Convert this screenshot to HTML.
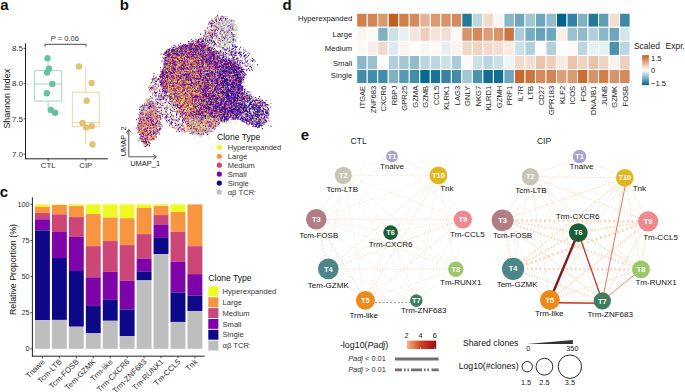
<!DOCTYPE html><html><head><meta charset="utf-8"><title>Figure</title><style>html,body{margin:0;padding:0;background:#fff;width:685px;height:392px;overflow:hidden}svg{display:block;font-family:"Liberation Sans",sans-serif}</style></head><body><svg width="685" height="392" viewBox="0 0 685 392" font-family="Liberation Sans, sans-serif"><defs><filter id="bl" x="-10%" y="-10%" width="120%" height="120%"><feGaussianBlur stdDeviation="2.2"/></filter><linearGradient id="ug" x1="160" y1="0" x2="245" y2="0" gradientUnits="userSpaceOnUse"><stop offset="0" stop-color="#6A2494"/><stop offset="0.3" stop-color="#A8547A"/><stop offset="0.62" stop-color="#7A3088"/><stop offset="1" stop-color="#3A148E"/></linearGradient></defs><g filter="url(#bl)" opacity="0.3"><polygon points="166.6,51.9 172.9,49.5 180.7,47.6 189.4,44.7 196.2,42.2 201.0,42.2 204.9,44.7 211.7,51.0 219.5,57.8 229.2,60.7 236.9,63.6 240.8,68.4 243.2,72.8 240.3,83.2 241.8,89.8 240.8,99.5 239.4,111.1 237.4,117.4 232.1,117.0 221.2,119.8 214.3,126.5 206.2,131.5 196.7,133.2 188.5,128.8 185.0,118.9 180.5,109.2 174.6,99.5 168.1,91.7 163.2,85.9 160.8,78.1 163.7,70.4 165.6,61.6 164.7,55.8" fill="url(#ug)"/><polygon points="147.7,101.0 150.9,101.9 154.5,104.6 157.6,110.9 159.4,118.1 159.4,126.2 156.7,132.5 151.8,137.9 146.6,143.8 141.9,137.0 139.2,127.1 140.1,117.2 142.8,109.1 145.5,103.7" fill="#B07078" opacity="0.6"/></g><g fill="none" stroke-linecap="round" stroke-width="2.5" transform="scale(0.5)"><path stroke="#BEBEBE" d="M444 33h0m-3 1h0m2-1h0m0 1h0m7 0h0m-8 3h0m1 0h0m0 1h0m-3 1h0m3 1h0m11 0h0m1 0h0m8-1h0m-13 3h0m12 1h0m-44 2h0m15-1h0m1 1h0m4-1h0m6 0h0m-9 2h0m5 1h0m6-2h0m0 1h0m10 0h0m-31 1h0m7 1h0m5 0h0m33 1h0m-40 1h0m2 0h0m22 0h0m2 1h0m4-1h0m2 0h0m7 0h0m-13 2h0m2 1h0m0 0h0m0-1h0m5 1h0m11-1h0m-56 2h0m5-1h0m10 0h0m10 1h0m2-1h0m4 2h0m-34 1h0m19 0h0m1-1h0m4 1h0m4 1h0m7 0h0m4-1h0m11 0h0m2 1h0m-35 2h0m1-1h0m5 0h0m6 0h0m4-1h0m1 1h0m10 1h0m3-2h0m3 1h0m-56 2h0m9 1h0m9 0h0m43 0h0m4-1h0m-57 3h0m13-2h0m13 1h0m18 1h0m9-1h0m-54 1h0m2 0h0m8 1h0m5-1h0m1 1h0m3 0h0m13-1h0m11 2h0m1-1h0m-35 2h0m8 0h0m-22 2h0m27-1h0m1 0h0m1 1h0m14 0h0m3 0h0m2 0h0m7 1h0m3 0h0m2-1h0m-35 2h0m5-1h0m15 2h0m6-1h0m5 1h0m-54 0h0m51 1h0m2 0h0m-37 1h0m18 1h0m12 0h0m-29 3h0m8 0h0m5-1h0m14 1h0m7-1h0m-39 3h0m16-1h0m0 1h0m5-2h0m4 0h0m13 0h0m3 2h0m6-1h0m-58 1h0m16 1h0m1 0h0m16 1h0m2-2h0m11 0h0m-49 3h0m24-1h0m24 2h0m1-2h0m6 2h0m-49 0h0m12 1h0m28 0h0m14 0h0m-74 1h0m22 2h0m3 0h0m18-1h0m4 0h0m15-1h0m2 1h0m-91 2h0m55 0h0m40 1h0m-29 2h0m6 0h0m14-1h0m2 0h0m-95 3h0m101 0h0m1-1h0m-11 2h0m2 0h0m-50 1h0m16 2h0m49-1h0m-15 2h0m-94 1h0m70 1h0m17 0h0m-11 1h0m-60 3h0m-29 3h0m112-1h0m18-1h0m-118 3h0m64-1h0m16 2h0m-63 1h0m65 1h0m-111 0h0m28 1h0m78 1h0m44-1h0m7 0h0m-117 2h0m60 1h0m11-1h0m59 1h0m-166 1h0m6 1h0m14-1h0m54 0h0m16 0h0m23 1h0m-28 0h0m-89 4h0m40-1h0m82 0h0m18-1h0m-83 4h0m3 0h0m1-1h0m17-1h0m3 2h0m13-2h0m37 2h0m-88 1h0m47 0h0m-85 1h0m14 0h0m64 1h0m38 0h0m-102 2h0m45 1h0m-60 0h0m20 2h0m0-1h0m39 0h0m2 0h0m37 0h0m-63 3h0m23-2h0m9 1h0m14 0h0m23-1h0m-92 3h0m12 0h0m48 1h0m71 1h0m-100 3h0m36-2h0m8 2h0m1 1h0m25 0h0m24 1h0m-134 1h0m7 1h0m103-1h0m27 1h0m26-1h0m-171 3h0m35-1h0m59 1h0m-71 2h0m44-1h0m16 0h0m31-1h0m29 1h0m-112 3h0m12-1h0m36-1h0m6 0h0m63 1h0m-151 2h0m51 0h0m7 1h0m22-1h0m53 0h0m-92 2h0m10-1h0m72 0h0m0 1h0m-129 1h0m1 1h0m99 1h0m22-1h0m11 0h0m-100 1h0m98 2h0m22-1h0m3 0h0m-115 3h0m35-1h0m14 0h0m5 0h0m10-1h0m-117 3h0m2 0h0m120 0h0m4 0h0m8 0h0m9 0h0m3 0h0m21-1h0m3 2h0m-93 2h0m32-1h0m12 1h0m27-1h0m-149 2h0m86 0h0m49 0h0m-85 2h0m53 1h0m-23 1h0m75-1h0m-126 3h0m37 0h0m15 0h0m24 0h0m6 0h0m1 0h0m24 0h0m32 0h0m-73 3h0m15-2h0m58 2h0m-164 2h0m103-2h0m15 1h0m29 1h0m-91 2h0m-10 1h0m39 0h0m24 1h0m4-1h0m20-1h0m-135 2h0m13 1h0m6 0h0m38 0h0m25 0h0m21 0h0m21 0h0m9 0h0m10-1h0m-15 3h0m46 0h0m-128 3h0m60 0h0m-29 2h0m69 0h0m3-1h0m41-1h0m-141 3h0m82 0h0m18 0h0m17 0h0m-139 3h0m79-1h0m6 0h0m53 0h0m17 0h0m-180 2h0m11 0h0m3 0h0m33 1h0m70-1h0m27 0h0m-146 2h0m96-1h0m82 1h0m-140 3h0m145-2h0m12 2h0m-178 1h0m6 1h0m71-1h0m0 0h0m18 1h0m6 0h0m59-2h0m25 0h0m-202 2h0m9 1h0m115 0h0m37 1h0m13-2h0m-185 4h0m5 1h0m33 0h0m9 1h0m23-1h0m62 0h0m6 1h0m19-1h0m5 1h0m7-1h0m1-1h0m36 1h0m8 0h0m-209 4h0m1-1h0m29 1h0m84 0h0m15 0h0m78 0h0m8 0h0m0-1h0m-223 4h0m42 0h0m4-1h0m16 0h0m10 0h0m2 1h0m6-2h0m14 1h0m66 1h0m10 0h0m24-1h0m20 0h0m1 0h0m19 1h0m3-1h0m4 0h0m-237 3h0m5-1h0m45 0h0m22-1h0m35 1h0m1 0h0m46 0h0m36 0h0m32-1h0m5 0h0m-241 3h0m18 1h0m3-1h0m31 0h0m26-1h0m50 2h0m1-1h0m20 1h0m38-1h0m17 0h0m16 0h0m4 0h0m9 0h0m-235 2h0m6-1h0m12 1h0m3 0h0m39 0h0m75 0h0m54-1h0m59 0h0m-221 3h0m36 0h0m69-1h0m6 0h0m65 2h0m13-1h0m21 0h0m4 1h0m0 0h0m-238 1h0m99 0h0m7 0h0m23 0h0m72-1h0m1 2h0m-205 1h0m0-1h0m5 0h0m1 0h0m17 1h0m5-1h0m6 1h0m71 0h0m36 1h0m30-1h0m43 1h0m17-1h0m4 1h0m3-1h0m-240 3h0m10-1h0m30 1h0m162-1h0m-198 2h0m18 1h0m1-1h0m50 0h0m59-1h0m32 1h0m8-1h0m13 1h0m14 1h0m9 0h0m-203 0h0m9 1h0m19 1h0m13-1h0m3 0h0m38-1h0m39 1h0m106-1h0m24 0h0m-255 3h0m12-1h0m8 1h0m3 1h0m117-1h0m37-1h0m10 1h0m25 0h0m1 0h0m2 1h0m-218 2h0m34-1h0m97 1h0m38-1h0m11 0h0m7 1h0m31-1h0m-220 2h0m12-1h0m3 1h0m4 0h0m101 0h0m18 1h0m19 0h0m0-1h0m1 1h0m0 0h0m55-1h0m12 0h0m6 0h0m11-1h0m-218 3h0m5 1h0m66 0h0m7-2h0m6 0h0m6 0h0m5 1h0m17-1h0m1 1h0m15-1h0m1 1h0m52 0h0m41 0h0m-240 3h0m33-2h0m57 1h0m3 1h0m12-2h0m2 1h0m20 0h0m3 1h0m10-1h0m2 0h0m9 0h0m43 1h0m7-2h0m39 0h0m-248 3h0m27 0h0m36-1h0m44 1h0m4 0h0m6 1h0m2 0h0m7-1h0m9 1h0m18-1h0m55 0h0m30 0h0m-215 2h0m1 0h0m43-1h0m36 1h0m3 0h0m2 0h0m22-1h0m3 1h0m8 0h0m8-1h0m3 2h0m0-1h0m65 0h0m-181 2h0m58-1h0m11 1h0m3 0h0m17-1h0m17 1h0m2 1h0m1-2h0m15 1h0m2-1h0m-159 3h0m9 0h0m27-1h0m59 2h0m3-1h0m4 0h0m3 0h0m11 0h0m4 0h0m11 0h0m45 0h0m37-1h0m-160 2h0m42 1h0m15 0h0m0 0h0m15 0h0m3 0h0m12 0h0m2 0h0m15 1h0m-59 2h0m23 0h0m116-2h0m-238 3h0m7 0h0m68 1h0m25-1h0m6 0h0m29 1h0m3 0h0m2-2h0m10 2h0m-49 0h0m9 1h0m0 0h0m12-1h0m1 0h0m5 0h0m6 1h0m4 1h0m-117 0h0m11 0h0m79 0h0m5 2h0m6-1h0m5 0h0m10 1h0m7-1h0m-146 3h0m5-2h0m2 1h0m28 0h0m37-1h0m37 2h0m5-1h0m11-1h0m16 1h0m12-1h0m-62 2h0m10 1h0m33-1h0m2 1h0m-118 2h0m87-1h0m10 1h0m6-1h0m2 1h0m12 0h0m3 0h0m-36 1h0m5 2h0m10-2h0m2 1h0m-89 2h0m76-1h0m6 2h0m14 0h0m-113 1h0m12 0h0m6 2h0m82-1h0m13 3h0m-12 3h0m-99 9h0m-6 2h0"/><path stroke="#0D0887" d="M434 33h0m8 4h0m22 4h0m-46 5h0m4 0h0m7-1h0m-3 6h0m-4 2h0m0 6h0m9 2h0m-20 3h0m19 1h0m10 1h0m15-1h0m-30 2h0m29 4h0m-33 0h0m-18 5h0m4 1h0m5-1h0m38 1h0m-50 0h0m22 1h0m-25 1h0m-1 3h0m7 1h0m3-2h0m1 2h0m20-1h0m-50 1h0m19 2h0m2-1h0m7-1h0m8 4h0m43-2h0m-86 4h0m16-1h0m4 0h0m8 0h0m42 0h0m9 0h0m-66 2h0m8 1h0m2-1h0m4 0h0m7 0h0m-39 1h0m15 0h0m0 2h0m2-1h0m7-1h0m17 1h0m-44 1h0m3 0h0m1 1h0m1-1h0m1 1h0m0 0h0m4 0h0m10 0h0m2 0h0m9 1h0m2-2h0m0 0h0m22 2h0m-53 1h0m3-1h0m10 0h0m22 1h0m20-1h0m48 2h0m-103 1h0m7 0h0m3 1h0m20-2h0m7 2h0m11-1h0m6 0h0m-80 2h0m0 0h0m9 0h0m7 1h0m3 0h0m27-2h0m6 2h0m13 0h0m-56 1h0m27 0h0m44 0h0m23-1h0m21 2h0m8-2h0m-117 4h0m5 0h0m33-1h0m5-1h0m5 0h0m8 2h0m53-1h0m3 0h0m-118 3h0m14-2h0m21 1h0m14 0h0m30 0h0m3 1h0m4-1h0m3 0h0m17 1h0m10-1h0m8 1h0m17-2h0m-148 2h0m11 0h0m1 2h0m2 0h0m1-1h0m2 0h0m3-1h0m8 2h0m4 0h0m5-1h0m10 1h0m8-1h0m28 1h0m9-1h0m28 0h0m3 1h0m36-1h0m-144 2h0m9 0h0m23 1h0m8-1h0m21 0h0m3-1h0m6 2h0m0-1h0m1-1h0m3 1h0m10 1h0m28-1h0m-131 3h0m1-2h0m10 2h0m24-1h0m28-1h0m7 1h0m2 0h0m26 0h0m-90 2h0m0 0h0m1 1h0m27-1h0m0 0h0m8 1h0m21 0h0m12 0h0m7 0h0m8 0h0m7-2h0m11 1h0m-81 3h0m34 0h0m5-2h0m0 1h0m34 1h0m19-2h0m9 0h0m-116 3h0m0 0h0m8 0h0m1 0h0m7 0h0m28 0h0m11 0h0m4 0h0m4-1h0m4 2h0m10-2h0m7 0h0m8 1h0m2 1h0m11 0h0m3-2h0m10 1h0m40 1h0m-150 2h0m2-1h0m3-1h0m22 0h0m11 1h0m11 0h0m5 0h0m2 0h0m1 1h0m21 0h0m5-1h0m3 0h0m13 0h0m5 0h0m3 0h0m19 1h0m20 0h0m-173 0h0m31 1h0m11-1h0m47 0h0m4 2h0m21-1h0m2 0h0m6 0h0m38 0h0m19 0h0m-139 1h0m16 2h0m3-1h0m2 0h0m5-1h0m8 1h0m2 0h0m3 0h0m2 0h0m1 0h0m4-1h0m20 2h0m3 0h0m11-1h0m17-1h0m-131 4h0m20-1h0m31 1h0m12-1h0m14-1h0m12 1h0m28 1h0m3-2h0m13 2h0m11-2h0m-145 3h0m3 0h0m25 1h0m20 0h0m15-1h0m27-1h0m7 0h0m2 1h0m1 1h0m5 0h0m14-1h0m1-1h0m10 1h0m-102 3h0m2-1h0m16 0h0m15 0h0m1 0h0m0-1h0m3 0h0m14 1h0m15-1h0m21 0h0m5 2h0m1-1h0m5 0h0m53-1h0m-145 3h0m16-1h0m8 2h0m0-1h0m1 0h0m20 0h0m2-1h0m13 1h0m7 1h0m4 0h0m6-1h0m29 0h0m-144 1h0m14 1h0m2-1h0m18 1h0m40-1h0m9 0h0m1 0h0m12 2h0m1-1h0m3 0h0m6 1h0m1-2h0m9 2h0m3 0h0m0-2h0m8 0h0m1 2h0m3-2h0m7 2h0m1-2h0m5 2h0m27 0h0m-167 1h0m4 1h0m36-1h0m4 0h0m11 0h0m20 1h0m1-1h0m11-1h0m22 2h0m1-1h0m0 0h0m14 0h0m4-1h0m3 0h0m1 0h0m1 0h0m9 0h0m4 0h0m-148 3h0m9 0h0m19 1h0m10-1h0m14-1h0m4 1h0m1 1h0m3-2h0m2 0h0m4 1h0m15 0h0m10 0h0m5 0h0m3 0h0m3 1h0m13-1h0m6 1h0m2-1h0m2 0h0m2 1h0m7 0h0m3 0h0m1-1h0m2 1h0m5-2h0m4 1h0m-157 1h0m26 1h0m14 1h0m4-2h0m36 0h0m1 2h0m6 0h0m3-1h0m34 1h0m24-2h0m6 0h0m3 0h0m-158 3h0m30 0h0m15 0h0m7-1h0m18 1h0m40 0h0m19 1h0m1-2h0m3 1h0m14 0h0m10 0h0m-159 1h0m1 1h0m2 1h0m2 0h0m3-1h0m60 1h0m0-1h0m10 0h0m46 0h0m0 0h0m10 0h0m6 1h0m10 0h0m-147 1h0m2 0h0m6-1h0m1 2h0m45-1h0m13-1h0m26 1h0m2 0h0m5 1h0m23-1h0m25-1h0m1 1h0m1-1h0m1 1h0m-142 2h0m36 0h0m27-1h0m47 0h0m9 2h0m14-1h0m0 0h0m8 0h0m1 0h0m4 1h0m-130 1h0m2 0h0m0 0h0m1 1h0m31-1h0m33 1h0m2 0h0m3-1h0m4 0h0m3-1h0m17 1h0m21 0h0m3 1h0m10-1h0m5 0h0m-179 2h0m19 0h0m33-1h0m16 0h0m8 0h0m33 1h0m14 1h0m16-2h0m1 2h0m14-1h0m4 0h0m10-1h0m9 1h0m-165 2h0m17 1h0m14-1h0m8 0h0m19 0h0m10-1h0m2 2h0m17-1h0m41 1h0m0-1h0m27 1h0m1-1h0m7 0h0m6 0h0m-167 2h0m9 0h0m4 0h0m39-1h0m28 1h0m14 1h0m4-1h0m2 0h0m7 1h0m18-1h0m10 0h0m19 0h0m3 0h0m3 1h0m1-1h0m2 1h0m-165 1h0m114 1h0m3-2h0m8 0h0m5 1h0m24 1h0m9-1h0m5 1h0m-155 1h0m1-1h0m3 1h0m36 0h0m11-1h0m2 1h0m5 0h0m7 1h0m10-1h0m10 0h0m0 0h0m7-1h0m5 2h0m6-2h0m15 1h0m3 0h0m0-1h0m3 2h0m5 0h0m22-1h0m-163 2h0m11 1h0m1 0h0m83 0h0m6-1h0m8 0h0m5-1h0m14 0h0m20 1h0m-144 1h0m2 2h0m8-1h0m28-1h0m15 1h0m37 0h0m1 0h0m34 1h0m5-1h0m11 1h0m11-1h0m5-1h0m-157 2h0m5 0h0m8 1h0m32 1h0m36-1h0m22 1h0m5 0h0m2-1h0m5 0h0m3-1h0m1 1h0m2 0h0m12 0h0m1 1h0m12-1h0m9 0h0m-154 1h0m3 1h0m38 1h0m7 0h0m15 0h0m3 0h0m4-1h0m11 0h0m3-1h0m4 1h0m16-1h0m10 2h0m4-1h0m7 1h0m6-1h0m7 0h0m4 1h0m-157 0h0m19 2h0m20 0h0m13-2h0m10 2h0m10-1h0m19 0h0m2 1h0m18-2h0m14 1h0m0-1h0m9 1h0m3 0h0m3 0h0m3-1h0m1 1h0m1 0h0m0-1h0m0 1h0m9-1h0m9 0h0m-149 3h0m17 1h0m7-1h0m5 0h0m35 0h0m11-1h0m10 1h0m17 0h0m26-1h0m3 1h0m5-1h0m3 1h0m15 0h0m-149 2h0m7 0h0m8 0h0m18-1h0m30 1h0m14 0h0m7 0h0m41 1h0m1-1h0m8 0h0m2 1h0m2 0h0m1-2h0m2 0h0m2 1h0m5-1h0m4 1h0m-176 2h0m52 0h0m24 1h0m34-1h0m17 0h0m11 1h0m5 0h0m6 0h0m3-1h0m4 1h0m1 0h0m3-1h0m1 0h0m14 0h0m1 1h0m-125 1h0m39 0h0m11 0h0m25 0h0m2 1h0m9-2h0m2 2h0m5 0h0m1-1h0m5 1h0m2-1h0m9 0h0m7-1h0m4 1h0m-150 3h0m66 0h0m0-1h0m28-1h0m35 2h0m0 0h0m1-2h0m1 1h0m18 0h0m3-1h0m6 1h0m-138 2h0m3-1h0m30 1h0m17-1h0m8 1h0m11 0h0m22-1h0m12 2h0m15-1h0m2 1h0m-125 0h0m20 2h0m31-2h0m4 2h0m13-1h0m14-1h0m17 1h0m3 0h0m4 0h0m0 1h0m4-1h0m7-1h0m3 1h0m2 1h0m0-1h0m15 1h0m0-1h0m15 0h0m4 0h0m-187 2h0m58 0h0m4-1h0m31 1h0m1 0h0m5 1h0m4-1h0m18-1h0m5 1h0m9 1h0m2 0h0m1 0h0m1-1h0m5-1h0m12 1h0m3 0h0m-97 2h0m18 0h0m22 1h0m16-2h0m2 0h0m3 2h0m0-2h0m9 1h0m8 0h0m5 1h0m27-2h0m11 0h0m-155 3h0m43 0h0m3-1h0m1 0h0m5 2h0m5 0h0m22-1h0m7 0h0m2-1h0m4 1h0m13 1h0m2-1h0m1 1h0m19-1h0m19 1h0m1-1h0m9 0h0m-173 1h0m46 0h0m3 1h0m51 1h0m10-1h0m2 0h0m19 0h0m5-1h0m19 0h0m13 2h0m8-2h0m-180 4h0m48-1h0m18 0h0m38 1h0m1 0h0m21-2h0m21 2h0m4-2h0m7 1h0m1 0h0m9 0h0m1 0h0m16-1h0m3 1h0m13-1h0m-175 3h0m9-1h0m19 1h0m26-1h0m3 1h0m5-1h0m18 2h0m2 0h0m1-1h0m1 0h0m3 0h0m3 1h0m14-1h0m3 0h0m3 0h0m2 0h0m2 0h0m7 1h0m5-1h0m19-1h0m4 0h0m1 1h0m-166 1h0m12 0h0m15 0h0m47 2h0m17-1h0m1 1h0m19 0h0m3 0h0m7-1h0m8 0h0m4 0h0m14-1h0m2 0h0m16 1h0m1 1h0m1-2h0m1 0h0m-163 2h0m12 1h0m29 0h0m23 0h0m32 1h0m1-1h0m27-1h0m14 1h0m8 0h0m29 1h0m6-1h0m-200 3h0m68-2h0m14 1h0m8 1h0m5-1h0m23 1h0m9-1h0m2 0h0m7 0h0m3 0h0m11 0h0m3-1h0m2 0h0m18 2h0m12-2h0m-137 4h0m13-1h0m9-1h0m6 0h0m9 1h0m13 0h0m16 0h0m13-1h0m1 1h0m24 0h0m8-1h0m6 1h0m16-1h0m24 2h0m7-1h0m-184 3h0m94 0h0m12 0h0m3 0h0m5-1h0m7-1h0m3 0h0m5 1h0m2 0h0m12 0h0m14 0h0m-205 3h0m56-1h0m24-1h0m0 0h0m16 1h0m14 0h0m5 1h0m6-1h0m2 1h0m4-1h0m20 0h0m25 0h0m22 1h0m19-1h0m6 0h0m16 0h0m-245 2h0m62 1h0m15 0h0m10 0h0m17-2h0m43 1h0m3-1h0m6 1h0m1-1h0m38 0h0m1 0h0m4 0h0m19 1h0m-139 2h0m4-1h0m22 1h0m46-1h0m26 0h0m7 0h0m12 1h0m15 1h0m28-2h0m4 1h0m1-1h0m-242 4h0m10-1h0m22 0h0m51 0h0m4 1h0m3 0h0m15-2h0m3 1h0m20 1h0m15-2h0m4 2h0m4-1h0m4 0h0m10 1h0m7-1h0m8 0h0m27 0h0m0 0h0m1-1h0m21 1h0m-143 1h0m17 2h0m6-1h0m5-1h0m11 0h0m6 1h0m0-1h0m12 0h0m9 1h0m24 0h0m12-1h0m9 0h0m8 2h0m1-1h0m5 0h0m-140 1h0m29 2h0m10-2h0m3 2h0m24-1h0m2 1h0m20-2h0m10 1h0m14 0h0m20 0h0m7 1h0m2-1h0m10 0h0m7 0h0m10-1h0m10 0h0m-224 3h0m53 0h0m61 1h0m5-2h0m0 2h0m5-1h0m2 1h0m5-1h0m15 0h0m2-1h0m6 1h0m21 0h0m11 1h0m11 0h0m5-2h0m0 2h0m8 0h0m8-2h0m3 1h0m3-1h0m-196 2h0m21 0h0m1 2h0m25 0h0m3-1h0m5 0h0m13 0h0m5-1h0m19 1h0m6-1h0m33 1h0m8 0h0m0-1h0m10 0h0m17 1h0m11 0h0m7 1h0m9 0h0m1-1h0m-168 3h0m24 0h0m29-1h0m4 1h0m4-1h0m7 0h0m4-1h0m3 1h0m9 0h0m4 0h0m4 0h0m2 0h0m1 0h0m14 0h0m6 0h0m2 0h0m2 0h0m2 0h0m7-1h0m1 2h0m2-1h0m4 0h0m4-1h0m-186 4h0m41 0h0m20-1h0m29 1h0m1-2h0m24 1h0m20 1h0m3-2h0m5 1h0m4 0h0m31 1h0m38-2h0m-138 3h0m6 0h0m10 0h0m2 0h0m3-1h0m1 1h0m13 1h0m16-1h0m20 1h0m24 0h0m9-1h0m9 0h0m4-1h0m6 1h0m4 0h0m3 1h0m1-1h0m7 0h0m-127 3h0m22 0h0m5-1h0m6-1h0m1 0h0m19 1h0m6 0h0m43 1h0m6-2h0m-203 4h0m7-2h0m4 1h0m7 1h0m75-2h0m2 0h0m39 2h0m47-2h0m9 0h0m28 0h0m2 1h0m-78 1h0m5 0h0m13 1h0m3 1h0m19-1h0m3 1h0m-113 2h0m51-1h0m12 0h0m36 0h0m28 0h0m6 0h0m-237 2h0m11-1h0m20 0h0m18 1h0m13 1h0m2-1h0m59 0h0m22 0h0m13 1h0m55-1h0m4 1h0m2-2h0m1 2h0m-223 2h0m26 0h0m1-1h0m40 0h0m6 1h0m91-1h0m0 0h0m48-1h0m0 2h0m0-1h0m18 0h0m2 0h0m13-1h0m7 2h0m0-1h0m-252 2h0m86-1h0m22 0h0m104 0h0m6 1h0m25-1h0m1 1h0m-14 1h0m-167 4h0m97-1h0m90 1h0m-247 1h0m22 0h0m54 0h0m17 1h0m47-1h0m88 0h0m8 0h0m1-1h0m7 0h0m2 1h0m-210 2h0m200 1h0m-243 0h0m22 0h0m15 2h0m75 0h0m35-2h0m95 1h0m1 0h0m-232 1h0m22 2h0m217 2h0m-243 2h0m95-1h0m30 0h0m-93 1h0m75 3h0m8 0h0m-113 2h0m14-1h0m3 1h0m85 2h0m12 1h0m-114 12h0m21-1h0m-19 2h0m9 1h0m-5 11h0"/><path stroke="#7E03A8" d="M433 38h0m12 5h0m-8 7h0m-2 11h0m-5 1h0m34 4h0m-40 2h0m1 1h0m-13 7h0m22 0h0m-51 3h0m28-1h0m6 3h0m-30 3h0m79 1h0m-82 4h0m14-1h0m6 0h0m5 0h0m-61 3h0m32 0h0m3-1h0m19-1h0m10 1h0m-52 2h0m4 0h0m15 1h0m19 0h0m10-1h0m-50 3h0m10-1h0m5-1h0m13 0h0m2 2h0m11-1h0m5 0h0m7-1h0m-63 2h0m6 1h0m16 0h0m6 1h0m5-2h0m5 2h0m19-2h0m14 0h0m-52 2h0m4 1h0m8-1h0m0 1h0m11-1h0m6 2h0m8-2h0m7 1h0m-68 3h0m12-1h0m5 1h0m17-1h0m4 1h0m11-1h0m0 1h0m60-1h0m38 0h0m-130 2h0m4 1h0m21-1h0m1 0h0m80 1h0m-129 0h0m10 1h0m3-1h0m2 1h0m10-1h0m19 1h0m20 1h0m19-1h0m50-1h0m2 1h0m-130 3h0m14-1h0m6 1h0m17 0h0m6-2h0m6 1h0m26 0h0m15-1h0m-110 3h0m7 0h0m18 0h0m8 0h0m2 0h0m5 1h0m4-2h0m12 0h0m1 1h0m3 1h0m10-1h0m0-1h0m5 0h0m6 2h0m12-1h0m5 1h0m2 0h0m4 0h0m21-1h0m22-1h0m-131 3h0m5 0h0m1 0h0m4 1h0m9-2h0m23 0h0m11 0h0m18 1h0m0 0h0m6 0h0m23 0h0m4 1h0m5 0h0m11-1h0m8-1h0m-119 4h0m10-1h0m4 0h0m1 0h0m41 1h0m11 0h0m4-1h0m6 0h0m3 1h0m1 0h0m35-2h0m6 1h0m26 1h0m-166 2h0m13 0h0m14-1h0m5 1h0m2-2h0m5 1h0m10 0h0m0 0h0m19 0h0m3-1h0m5 1h0m1-1h0m3 1h0m5 1h0m2-1h0m1-1h0m5 1h0m72 0h0m-149 3h0m17-1h0m1 0h0m4-1h0m8 1h0m8 0h0m0 0h0m8-1h0m3 1h0m14 0h0m25 1h0m12-1h0m-100 3h0m9-2h0m4 1h0m47 0h0m1 1h0m-19 2h0m8-2h0m5 1h0m12 1h0m20-1h0m1 0h0m6 0h0m14 0h0m5 1h0m2-1h0m-114 2h0m8-1h0m3 0h0m31 1h0m0 0h0m10-1h0m1 0h0m6 1h0m19 1h0m12-2h0m1 1h0m6 1h0m1 0h0m6-1h0m-112 1h0m12 0h0m0 1h0m24 1h0m20-1h0m11 0h0m5-1h0m9 0h0m1 1h0m7-1h0m4 0h0m4 2h0m10-1h0m25 0h0m1 1h0m1 0h0m33-2h0m-165 3h0m1 1h0m13-1h0m7 1h0m11-2h0m17 0h0m1 1h0m22 0h0m21-1h0m7 1h0m22-1h0m-129 2h0m11 2h0m40-1h0m4 0h0m16-1h0m10 1h0m24 0h0m13 1h0m22-2h0m-132 2h0m5 1h0m4 0h0m45 1h0m1-1h0m5 1h0m25-2h0m0 0h0m1 0h0m2 0h0m30 1h0m1 0h0m2-1h0m9 2h0m19-1h0m15 0h0m-173 3h0m4-1h0m1 1h0m32-1h0m4-1h0m25 2h0m3-1h0m91 0h0m2 0h0m-156 2h0m11-1h0m2 1h0m1 0h0m29 1h0m2-2h0m19 1h0m25 0h0m17 0h0m14-1h0m-129 2h0m5 0h0m11 1h0m2 1h0m15 0h0m27-1h0m14-1h0m49 1h0m5 0h0m5 1h0m2 0h0m-109 1h0m16 0h0m7 1h0m9-2h0m55 1h0m11 1h0m2-1h0m17 1h0m-123 1h0m8 0h0m0-1h0m9 1h0m12-1h0m4 1h0m34-1h0m3 1h0m24 0h0m3 1h0m15-1h0m7 0h0m-140 3h0m12-2h0m1 2h0m20-2h0m2 2h0m6-1h0m12 1h0m17-1h0m0-1h0m8 1h0m0 0h0m12 1h0m20-1h0m5 0h0m5 1h0m0-1h0m-120 3h0m3 0h0m6-2h0m3 1h0m1 0h0m3 0h0m19-1h0m23 1h0m7 1h0m1 0h0m10-1h0m37 0h0m6 0h0m1 0h0m0 0h0m6 1h0m-107 0h0m34 0h0m54 2h0m3-1h0m35 0h0m-125 1h0m11 0h0m3 0h0m4 1h0m8 0h0m24 0h0m24 0h0m25 1h0m17 0h0m7-1h0m0-1h0m-147 2h0m4 0h0m2 1h0m2-1h0m7 2h0m18-2h0m10 2h0m13-1h0m8 0h0m13 1h0m25-2h0m4 0h0m2 1h0m17-1h0m12 0h0m-135 3h0m21 1h0m5-1h0m4 1h0m10 0h0m0-1h0m6-1h0m5 0h0m1 2h0m4-1h0m17 1h0m1-2h0m2 2h0m5-1h0m7 1h0m3-1h0m0 0h0m4-1h0m1 2h0m5-1h0m2 1h0m14 0h0m1 0h0m4-2h0m19 2h0m13-1h0m-126 3h0m2-1h0m32 1h0m9-1h0m3 0h0m19-1h0m0 0h0m5 2h0m-94 2h0m7-1h0m15 0h0m23-1h0m4 0h0m2 1h0m8 0h0m7 0h0m11 0h0m5 1h0m18 0h0m30-1h0m12 1h0m4-2h0m3 1h0m3 0h0m-137 2h0m1-1h0m15 0h0m6 0h0m21 1h0m13-1h0m6 1h0m2 1h0m5-1h0m23-1h0m-123 3h0m8 1h0m2-1h0m6 0h0m3 0h0m16-1h0m7 2h0m11-1h0m9 0h0m2 1h0m2-1h0m2 1h0m15-2h0m11 0h0m4 1h0m7 1h0m5 0h0m4-1h0m19 1h0m21-1h0m-142 1h0m2 1h0m1 0h0m3-1h0m2 1h0m1 0h0m2 1h0m6-2h0m2 0h0m6 1h0m9 0h0m15 1h0m8-2h0m1 0h0m9 2h0m28-2h0m56 1h0m-149 2h0m12 0h0m5 1h0m9 0h0m15-1h0m5-1h0m2 1h0m1 1h0m6-2h0m9 2h0m40 0h0m19-1h0m15 0h0m-123 3h0m16-1h0m1 0h0m2 0h0m2 1h0m8-2h0m11 1h0m9 0h0m10 0h0m1 0h0m0 0h0m2-1h0m2 1h0m12 1h0m1-2h0m9 1h0m5-1h0m4 2h0m2-1h0m2-1h0m5 2h0m17-1h0m-141 1h0m1 2h0m3-1h0m6 0h0m4 0h0m10 0h0m40 1h0m7-1h0m2-1h0m8 1h0m3-1h0m17 1h0m0 1h0m32-1h0m21 0h0m4 1h0m-160 1h0m28 0h0m10-1h0m6 0h0m4 2h0m32 0h0m8-2h0m3 2h0m2-2h0m8 1h0m29 0h0m10-1h0m1 0h0m13 2h0m-169 0h0m24 2h0m15-1h0m20 0h0m11 0h0m21 0h0m8 1h0m12-2h0m2 1h0m2-1h0m57 0h0m-137 2h0m1 1h0m12-1h0m20 2h0m20-2h0m15 0h0m0 1h0m16 1h0m6-1h0m2 0h0m32 0h0m14 0h0m-144 1h0m12 1h0m13-1h0m7 1h0m1 0h0m4-1h0m0 1h0m13 0h0m83 0h0m1-1h0m10 1h0m6 0h0m-182 2h0m4 0h0m22-1h0m7 1h0m3 1h0m0-2h0m41 2h0m7-1h0m4 0h0m15 0h0m42 1h0m19 0h0m19-1h0m-158 2h0m31 0h0m1 0h0m32 0h0m12-1h0m16 2h0m9-1h0m19 0h0m14 0h0m5 1h0m17-1h0m-184 2h0m30 0h0m2 0h0m89 1h0m19-1h0m13 0h0m11 0h0m15-1h0m-138 3h0m22 0h0m1-1h0m14 1h0m24 0h0m5-1h0m11 1h0m15 1h0m17-2h0m27 0h0m5 1h0m1 1h0m-132 0h0m11 0h0m8 0h0m8 1h0m4 1h0m1-1h0m35 1h0m22-2h0m1 0h0m2 1h0m18 0h0m-117 2h0m3 1h0m15-1h0m2 1h0m36-2h0m0 1h0m28 1h0m19-1h0m25-1h0m6 1h0m4 0h0m5 0h0m-148 2h0m37 0h0m11 0h0m44-1h0m12 1h0m5 0h0m8 0h0m1 0h0m6 0h0m13 0h0m16-1h0m-150 4h0m8-2h0m22 2h0m11 0h0m18-1h0m4-1h0m7 2h0m14-1h0m10 0h0m18 1h0m1-1h0m16 0h0m0 0h0m3-1h0m20 0h0m0 2h0m9-1h0m-167 2h0m15 0h0m65 0h0m6 1h0m2 0h0m7-1h0m38 0h0m7 1h0m-128 1h0m3 1h0m2 0h0m7 0h0m36-2h0m29 0h0m4 0h0m9 2h0m2-1h0m10 0h0m3 0h0m3-1h0m7 2h0m9-2h0m30 1h0m-202 1h0m41 2h0m9-1h0m21 0h0m21 1h0m17 0h0m36-1h0m12-1h0m9 1h0m-173 2h0m71-1h0m10 0h0m11 1h0m28-1h0m37 1h0m1 0h0m3-1h0m8 2h0m8-1h0m10-1h0m26 1h0m-203 2h0m31 1h0m5-1h0m53 0h0m2 1h0m10-1h0m19-1h0m80 2h0m2-1h0m-146 3h0m19-1h0m42 0h0m15 1h0m15-1h0m0-1h0m5 1h0m2-1h0m46 2h0m-193 2h0m46-2h0m39 1h0m24-1h0m3 0h0m13 2h0m2 0h0m16-2h0m12 1h0m1 0h0m11 0h0m33 0h0m20-1h0m-227 3h0m62 0h0m25-1h0m14 0h0m11 0h0m5 2h0m33 0h0m6-2h0m11 1h0m32 1h0m12-2h0m17 2h0m-242 1h0m3 0h0m77 0h0m16 1h0m1-1h0m5 0h0m4 0h0m2 0h0m13 1h0m21 0h0m11-1h0m8 0h0m6 0h0m15 0h0m-183 3h0m74 0h0m4-2h0m1 0h0m41 1h0m3 1h0m6-2h0m3 1h0m33 0h0m5 1h0m7-1h0m2 0h0m5 0h0m54 0h0m-227 1h0m3 0h0m1 2h0m14-1h0m94-1h0m16 2h0m0-2h0m26 2h0m3 0h0m14-1h0m9-1h0m13 0h0m-186 3h0m6-1h0m2 0h0m16 0h0m45 1h0m0-1h0m5 1h0m13 1h0m9-1h0m2 0h0m27 0h0m12-1h0m5 1h0m25-1h0m6 2h0m1-2h0m9 0h0m21 1h0m10 0h0m-233 2h0m15 1h0m28-2h0m30 1h0m15 0h0m6 0h0m8-1h0m8 0h0m6 1h0m8-1h0m1 1h0m9 1h0m0-1h0m1-1h0m11 2h0m22-1h0m1-1h0m5 1h0m4 0h0m13-1h0m8 0h0m12 1h0m31 0h0m-244 3h0m59 0h0m5 0h0m47 0h0m9 0h0m16-2h0m12 2h0m22 0h0m4-1h0m1 0h0m20 0h0m-168 2h0m42 1h0m19-2h0m28 1h0m13 0h0m9 1h0m3 0h0m6-2h0m5 2h0m13-1h0m8 0h0m7 1h0m13-1h0m42 0h0m-216 1h0m12 0h0m3 0h0m13 1h0m28 0h0m33 0h0m6-1h0m11 0h0m23 2h0m10-1h0m11 1h0m25 0h0m47-1h0m-232 2h0m0-1h0m18 2h0m66-1h0m0 0h0m3 1h0m0-2h0m5 1h0m29 1h0m10 0h0m13-1h0m9 0h0m2-1h0m15 0h0m3 1h0m64 1h0m-238 2h0m68-2h0m14 0h0m27 0h0m14 2h0m21-1h0m9 0h0m6 0h0m36 0h0m26-1h0m-229 3h0m15 0h0m7 0h0m4-1h0m4 1h0m49 0h0m32 0h0m4 0h0m18 1h0m6-1h0m51 1h0m61 0h0m-245 1h0m73 1h0m13-2h0m16 2h0m3 0h0m7-1h0m17-1h0m9 0h0m28 1h0m3 0h0m2-1h0m5 1h0m9 0h0m21 0h0m9 0h0m-220 1h0m16 1h0m6 0h0m9 1h0m3 0h0m77 0h0m3 0h0m8-2h0m18 0h0m2 2h0m5-2h0m13 1h0m1 0h0m13-1h0m25 1h0m-190 2h0m1-1h0m3 0h0m6 1h0m5 0h0m79-1h0m20 1h0m8 1h0m13-1h0m35-1h0m6 2h0m50-1h0m-226 1h0m4 1h0m8 0h0m43 1h0m9-1h0m13-1h0m1 1h0m17 0h0m10 0h0m7-1h0m34 1h0m0 0h0m27-1h0m32 2h0m1-1h0m19 0h0m-231 3h0m50-2h0m14 1h0m34 0h0m14 1h0m5-1h0m14 1h0m2-2h0m63 1h0m36 0h0m17 0h0m-240 1h0m1 0h0m8 1h0m12 0h0m20 0h0m26 0h0m10 1h0m10-2h0m15 2h0m9-1h0m40 0h0m35 0h0m2 0h0m27 1h0m5-1h0m-176 2h0m2 0h0m12-1h0m42 0h0m27 0h0m93 1h0m4-1h0m-210 3h0m7 1h0m55-1h0m58 0h0m61 0h0m6 0h0m6 0h0m-125 3h0m10-1h0m104-1h0m-198 3h0m12-1h0m2 1h0m54 0h0m14-1h0m45 1h0m73 0h0m-206 3h0m9 0h0m9-1h0m16 0h0m65 1h0m4-1h0m18 0h0m-110 3h0m44-1h0m15 0h0m-80 2h0m3 1h0m6 0h0m4 0h0m5-2h0m58 1h0m21-1h0m-77 2h0m11 0h0m3 2h0m6-1h0m109 0h0m-60 3h0m41-1h0m-128 1h0m1 1h0m2 1h0m2 0h0m16-1h0m0 0h0m50 0h0m38-1h0m19 1h0m-23 2h0m-106 4h0m10 0h0m16 0h0m0 0h0m1-1h0m86 0h0m-97 4h0m14-1h0m-30 2h0m7-1h0m-6 5h0m3 0h0m21 0h0m-23 3h0m2-1h0m6 0h0m13-1h0m4 1h0m-24 5h0m4 1h0m3 0h0m2 0h0m4-1h0m-7 3h0m0-1h0m5 4h0"/><path stroke="#CC4778" d="M436 39h0m18 5h0m-21 4h0m-8 3h0m35 6h0m-43 9h0m-7 2h0m20 1h0m21 0h0m-14 7h0m7 1h0m10 4h0m-52 4h0m-11 5h0m26-1h0m-55 4h0m6-1h0m42 1h0m-55 4h0m54 1h0m14 1h0m27-1h0m-100 2h0m6 1h0m2 0h0m-5 3h0m42-1h0m33 1h0m-99 2h0m0-1h0m9 1h0m31 0h0m-30 2h0m17 1h0m28 0h0m32-1h0m5 0h0m-88 2h0m19 1h0m27-2h0m34 1h0m-30 2h0m1 0h0m4 0h0m-35 1h0m22 1h0m2-1h0m13 1h0m11 0h0m-53 2h0m31-1h0m14 0h0m13 2h0m29 0h0m16 0h0m-87 2h0m6-1h0m29 0h0m-26 2h0m29 0h0m30-1h0m13 1h0m21 1h0m-133 2h0m8 0h0m19-1h0m25 0h0m57 1h0m14 0h0m-116 1h0m6 1h0m41-2h0m36 2h0m22 0h0m45 0h0m-139 2h0m38-2h0m8 0h0m2 1h0m5 1h0m-60 1h0m17 0h0m2 0h0m9 1h0m35 0h0m27 0h0m-67 1h0m14 0h0m8 1h0m12-1h0m-48 1h0m18 1h0m22-1h0m10 0h0m28 2h0m53 0h0m-124 2h0m1-2h0m8 1h0m11-1h0m-49 3h0m5 1h0m16-1h0m0 0h0m3 0h0m58 1h0m-68 2h0m26-2h0m27 0h0m5 1h0m23 0h0m17-1h0m-98 3h0m-6 3h0m10-1h0m40-1h0m3 1h0m6 1h0m18-2h0m33 1h0m4-1h0m17 0h0m-117 3h0m8 0h0m77-1h0m4 0h0m9 2h0m-71 0h0m46 2h0m0-1h0m38 1h0m-136 0h0m12 2h0m88-1h0m40-1h0m-144 3h0m34-1h0m32 0h0m-23 2h0m30 1h0m-75 2h0m7-1h0m18 1h0m14 0h0m-40 3h0m32-2h0m20 1h0m3 1h0m62-2h0m22 1h0m22 1h0m-139 2h0m2-1h0m47-1h0m9 1h0m1 0h0m17 1h0m18-1h0m-100 2h0m20 0h0m18 0h0m38-1h0m2 1h0m30 0h0m10 1h0m19-1h0m2 0h0m-119 1h0m7 0h0m6 1h0m2 0h0m-38 2h0m19-1h0m5 1h0m84 1h0m30-1h0m-84 2h0m14 1h0m68 1h0m-129 3h0m10-2h0m16 1h0m38 0h0m21 0h0m1 0h0m-94 2h0m6-1h0m60 1h0m19 0h0m43 0h0m10-1h0m-166 3h0m57-1h0m24 2h0m52-1h0m-9 2h0m35-1h0m-118 2h0m51 2h0m24-1h0m-48 2h0m45-1h0m-76 2h0m42 1h0m6 1h0m27 1h0m7 0h0m25-1h0m-48 2h0m63 0h0m-69 3h0m-63 1h0m30 0h0m55 0h0m0 0h0m20 1h0m-38 2h0m19 0h0m67 0h0m-138 2h0m2 1h0m52-2h0m15 1h0m4 1h0m69-2h0m-186 3h0m87-1h0m5 0h0m71 0h0m9 1h0m-141 1h0m11 1h0m1 1h0m20-1h0m56 0h0m91 1h0m7-1h0m-63 1h0m-112 3h0m104 1h0m-93 1h0m55 0h0m53-1h0m1 0h0m-54 3h0m9 0h0m-119 1h0m69 2h0m7-2h0m-82 3h0m4-1h0m183 1h0m-200 2h0m81-1h0m46 0h0m27 1h0m3 0h0m3 0h0m-142 3h0m67-1h0m19 0h0m85 0h0m9 0h0m-169 2h0m81 0h0m2 0h0m12 0h0m15 1h0m-133 1h0m76-1h0m0 2h0m81 0h0m28-2h0m4 0h0m33 1h0m-188 2h0m50 0h0m33 1h0m1-2h0m29 2h0m19-1h0m26-1h0m-196 3h0m76 0h0m2 1h0m6-2h0m45 2h0m50 0h0m20 0h0m17-1h0m-136 2h0m65 0h0m8-1h0m-146 4h0m105-2h0m1 1h0m20-1h0m16 0h0m6 0h0m8 1h0m7 0h0m0 0h0m29-1h0m51 2h0m-191 1h0m55 1h0m48-1h0m86-1h0m-216 4h0m5 0h0m123-1h0m51 0h0m-86 3h0m4 0h0m60-2h0m15 1h0m36 0h0m-240 2h0m54 1h0m75 0h0m43-1h0m13 1h0m36-2h0m-106 4h0m33-1h0m34 0h0m39 0h0m-207 2h0m84-1h0m22 1h0m112 1h0m-221 2h0m118-1h0m17 1h0m-57 1h0m15-1h0m13 1h0m101 1h0m-214 1h0m25 1h0m3-1h0m34 2h0m67 0h0m17 1h0m69-1h0m11 1h0m-204 4h0m102 1h0m16-1h0m3 1h0m-117 3h0m78 2h0m-27 0h0m-44 2h0m85 1h0m-106 2h0m7 1h0m10-2h0m92 2h0m-125 2h0m31-2h0m3 1h0m-29 2h0m127 2h0m-126 7h0m-12 6h0m24-1h0m-8 7h0"/><path stroke="#F89540" d="M435 44h0m5 2h0m-2 4h0m0 0h0m-3 8h0m0 1h0m-33 10h0m10 1h0m40 1h0m-46 3h0m12 1h0m-37 12h0m20-2h0m11 2h0m-5 4h0m61-1h0m-65 2h0m6 0h0m-45 2h0m13-1h0m5 1h0m8 0h0m-9 2h0m7 0h0m13 2h0m6-1h0m24 2h0m29-2h0m-107 3h0m11 1h0m1 0h0m11-1h0m-30 3h0m4-1h0m21-1h0m61 2h0m4 0h0m-99 0h0m81 0h0m-50 3h0m15 0h0m4-1h0m3 0h0m12 1h0m-68 1h0m6 0h0m41 1h0m39 1h0m-89 2h0m10 0h0m0 0h0m10-2h0m12 0h0m19 2h0m6-1h0m3-1h0m19 1h0m6 0h0m-68 2h0m4 0h0m62-1h0m3 1h0m-75 2h0m5 0h0m4 0h0m1 0h0m39 0h0m20 0h0m6 1h0m-80 1h0m4 0h0m1-1h0m41 0h0m1 1h0m7 0h0m-41 3h0m6 0h0m9 0h0m4-1h0m24 1h0m27 0h0m-75 2h0m12-2h0m6 1h0m13 0h0m-42 2h0m6 0h0m5 0h0m12 0h0m6-1h0m4 0h0m1 2h0m39-1h0m5 0h0m5-1h0m7 1h0m13 0h0m5 1h0m-87 1h0m0 0h0m40-1h0m11 2h0m3-1h0m12 0h0m4 1h0m16 0h0m-105 2h0m8-1h0m2 0h0m39 1h0m7-1h0m10 0h0m66-1h0m-139 4h0m40-1h0m4 0h0m6 0h0m5 0h0m7-1h0m110 1h0m-156 1h0m4 1h0m31 0h0m14-1h0m2 1h0m30 1h0m11-1h0m-107 2h0m3 0h0m9 1h0m15-2h0m31 1h0m12-1h0m-65 3h0m17 0h0m0 0h0m17 0h0m8 0h0m9 1h0m33 0h0m15-2h0m51 1h0m-145 2h0m6-1h0m7 0h0m54 0h0m4 2h0m47-1h0m-136 3h0m40-1h0m7 0h0m23 0h0m6 1h0m32-1h0m4 0h0m19 0h0m28 0h0m0 0h0m-150 2h0m15 0h0m7 1h0m6 0h0m17-1h0m19 0h0m-73 2h0m5 0h0m16 0h0m8-1h0m8 0h0m10 0h0m7 0h0m4 1h0m27 0h0m26 0h0m-73 2h0m2-1h0m20 1h0m1 0h0m35 0h0m9 1h0m-94 1h0m18 0h0m1 0h0m7 0h0m15 1h0m12-1h0m42 0h0m2-1h0m28 2h0m-99 0h0m12 2h0m4 0h0m14-1h0m24-1h0m10 1h0m50 0h0m-147 1h0m17 1h0m14 1h0m27-2h0m11 1h0m17 0h0m4 0h0m2-1h0m-67 4h0m23-1h0m37-1h0m68 0h0m-166 3h0m26 1h0m0-1h0m2 1h0m10-1h0m25-1h0m12 0h0m77 2h0m-125 1h0m4 0h0m3-1h0m5 2h0m16 0h0m13-2h0m17 1h0m41 0h0m-118 2h0m2 0h0m12-1h0m2 1h0m7 0h0m16 1h0m26-1h0m4 1h0m7-2h0m9 2h0m3 0h0m30-1h0m-130 2h0m35 1h0m33-1h0m21 0h0m1 1h0m16-2h0m7 2h0m17-1h0m29-1h0m-144 3h0m9 0h0m4 0h0m41 0h0m10 0h0m20 0h0m4 0h0m2-1h0m25 0h0m43 1h0m-162 3h0m34-1h0m3-1h0m16 2h0m7-2h0m0 0h0m6 1h0m-54 2h0m9 0h0m6-1h0m0 0h0m26 1h0m1 0h0m3 1h0m26 0h0m34-2h0m0 0h0m39 1h0m-151 3h0m8 0h0m26-1h0m1 0h0m12 0h0m2 1h0m1-1h0m9 0h0m13 0h0m32 0h0m50 0h0m-140 3h0m0-2h0m4 1h0m0 0h0m24 0h0m7 1h0m1-2h0m7 1h0m3 0h0m5 0h0m22 0h0m12 1h0m1-1h0m-108 1h0m26 1h0m0 0h0m12 0h0m1 0h0m14-1h0m0 1h0m1-1h0m-40 4h0m3-2h0m6 1h0m9 0h0m29-1h0m9 1h0m30 1h0m10-1h0m12-1h0m-109 4h0m1-1h0m10-1h0m24 0h0m2 0h0m63 2h0m-93 1h0m4 0h0m5 1h0m28-2h0m29 2h0m17-1h0m13 0h0m2 0h0m-130 2h0m11 0h0m24 1h0m5-2h0m10 0h0m3 2h0m28-2h0m37 0h0m-65 3h0m8 1h0m9-1h0m5 0h0m49 1h0m-90 0h0m1 2h0m38 0h0m5-2h0m32 1h0m21-1h0m-91 3h0m5 0h0m8 1h0m3-2h0m1 1h0m1 1h0m19-1h0m6 0h0m16 0h0m-80 3h0m7 0h0m19-1h0m1 0h0m3 0h0m7 0h0m17 0h0m85-1h0m-81 3h0m10-1h0m91 2h0m-160 2h0m27-2h0m19 0h0m2 2h0m37-1h0m-66 2h0m41 0h0m9 0h0m4 0h0m1-1h0m-83 3h0m50 1h0m26-1h0m5 0h0m1 1h0m43-1h0m0 1h0m49-1h0m21 0h0m-148 1h0m4 0h0m1 1h0m6 0h0m11-1h0m5 1h0m16-1h0m6 1h0m-117 2h0m54-1h0m12 0h0m3 1h0m2 0h0m3-1h0m15 1h0m16-1h0m6 1h0m3-1h0m20 1h0m20 1h0m32-1h0m-126 1h0m12 1h0m3-1h0m25 1h0m0 0h0m6-1h0m7 2h0m88 0h0m16-1h0m-189 2h0m3 0h0m23 1h0m3-2h0m7 1h0m11 1h0m18-2h0m48 2h0m4 0h0m13-1h0m15 0h0m3-1h0m-164 3h0m64-1h0m5 1h0m23 1h0m19-1h0m42 1h0m66-1h0m-219 1h0m1 2h0m73 0h0m8-1h0m43-1h0m23 0h0m-111 3h0m19 0h0m18 0h0m23 0h0m5 1h0m1-1h0m17 1h0m64-2h0m-186 2h0m8 1h0m38 0h0m35-1h0m3 0h0m1 0h0m118 2h0m-205 1h0m35 0h0m1 1h0m19-1h0m1 1h0m-67 1h0m72-1h0m10 1h0m131 0h0m27 0h0m-247 2h0m5 0h0m76-1h0m22 1h0m2 0h0m11 0h0m3 0h0m-35 2h0m4-1h0m10 2h0m2 0h0m5-1h0m22 0h0m11 0h0m13 0h0m3 0h0m34-1h0m4 1h0m13 0h0m-182 2h0m4 0h0m2-1h0m46 1h0m2 0h0m17 1h0m4 0h0m0-2h0m1 2h0m10-1h0m18-1h0m40 1h0m36 1h0m-192 1h0m96 0h0m4 0h0m4 1h0m-115 1h0m0-1h0m22 2h0m77-1h0m3 1h0m7-2h0m10 0h0m32 0h0m11 1h0m13 1h0m-70 1h0m2-1h0m5 2h0m40-2h0m24 1h0m73 0h0m-255 1h0m18 2h0m0-1h0m52 1h0m24-1h0m1-1h0m9 1h0m10-1h0m19 1h0m80-1h0m-201 3h0m53 1h0m19 0h0m46 0h0m6-1h0m13 0h0m48 0h0m24 0h0m10 1h0m-220 2h0m29 0h0m29-2h0m0 1h0m32-1h0m35 2h0m33 0h0m-157 1h0m10 0h0m9 0h0m84 0h0m9 0h0m24-1h0m68 2h0m-211 1h0m2-1h0m13 1h0m13-1h0m13 1h0m43 0h0m116 1h0m-204 0h0m22 0h0m1 1h0m12-1h0m64 1h0m44 1h0m2 0h0m6 0h0m-148 1h0m5 0h0m6 0h0m7-1h0m17 1h0m39 0h0m45 1h0m29-1h0m76 0h0m-207 2h0m78 0h0m6-1h0m33 1h0m-102 2h0m5 0h0m59 0h0m35 1h0m58-1h0m45 0h0m-232 2h0m0-1h0m1 1h0m5-1h0m1 1h0m8 0h0m4 0h0m60 0h0m15-1h0m9 0h0m12 1h0m34 0h0m-132 2h0m1 0h0m119 0h0m-114 2h0m7 0h0m32 0h0m46-1h0m3 1h0m2 0h0m9 0h0m3 0h0m-109 1h0m13 1h0m7-1h0m23 1h0m-42 2h0m83 0h0m21-1h0m-121 3h0m13 0h0m23-1h0m44 0h0m41 1h0m7 0h0m1 0h0m-126 3h0m22-1h0m4 0h0m96 0h0m-122 2h0m18-1h0m52 2h0m-80 1h0m16 1h0m6-1h0m1 0h0m2 0h0m8 0h0m10 1h0m51-1h0m-71 1h0m1 0h0m102 0h0m-122 3h0m12-1h0m3 0h0m-10 2h0m7 0h0m4 0h0m-14 3h0m10 3h0m0-1h0m6 1h0m8 0h0m4 0h0m1-1h0m-23 1h0m16 4h0m-17 0h0m-1 3h0m4 1h0m3-2h0m3 3h0m-7 1h0m-1 2h0m11 1h0"/><path stroke="#F0F921" d="M447 36h0m-27 16h0m21 8h0m10 6h0m-9 6h0m-19 1h0m41 9h0m-50 7h0m-56 14h0m36 3h0m18 0h0m86 3h0m-140 2h0m23-1h0m16-1h0m-68 4h0m13-1h0m1-1h0m25 2h0m3 2h0m54 0h0m-56 1h0m20-1h0m33 3h0m4 1h0m-92 0h0m74 1h0m13 0h0m-80 2h0m35 1h0m30 1h0m37 0h0m-84 2h0m16-1h0m35 1h0m-49 2h0m39 2h0m39 0h0m-72 6h0m-16 3h0m63-1h0m-50 3h0m9 0h0m28-1h0m33-1h0m45 1h0m-135 1h0m39 0h0m7 2h0m30-1h0m-86 1h0m71 0h0m-48 2h0m2 2h0m71-1h0m-99 5h0m9 0h0m25 1h0m7 0h0m44 0h0m-78 5h0m14 0h0m18-2h0m32 2h0m41 1h0m49-1h0m-161 4h0m2 0h0m38 0h0m13-1h0m11 0h0m38 0h0m-98 1h0m21 2h0m21-1h0m3-1h0m5 2h0m9-1h0m-32 2h0m9 1h0m43 0h0m-49 2h0m-25 4h0m40 0h0m27-1h0m-66 1h0m28 1h0m32 1h0m23-1h0m-22 2h0m-30 4h0m20 0h0m31 1h0m-91 2h0m49-1h0m86 0h0m-116 3h0m-1 1h0m-3 1h0m6 0h0m3 1h0m23 0h0m17 3h0m58 0h0m-112 1h0m11 2h0m12 0h0m7-1h0m18 2h0m-28 1h0m23 1h0m114-1h0m-151 1h0m30 1h0m6 1h0m-14 0h0m41 1h0m-122 2h0m76-1h0m23 1h0m8 0h0m23 0h0m10 3h0m30-2h0m-103 4h0m12-1h0m50 0h0m-107 2h0m151-1h0m-80 3h0m10 0h0m58 1h0m-131 2h0m35-2h0m27 1h0m137 1h0m-138 0h0m2 1h0m7-1h0m-16 3h0m10 2h0m37 0h0m48 3h0m-137 0h0m18 2h0m34-1h0m-59 2h0m41-1h0m25 1h0m118-1h0m-202 6h0m77-1h0m62 0h0m-70 2h0m12 1h0m34-1h0m-38 4h0m32 5h0m-20 1h0m3 0h0m49-1h0m-70 2h0m11 0h0m38 1h0m-34 5h0m29 0h0m-1 2h0m-134 2h0m25 1h0m34 1h0m33-1h0m24 0h0m-18 1h0m15 5h0m-27 2h0m23 0h0m5-1h0m22 3h0m-34 2h0m14 5h0m5-2h0m-125 4h0m25 4h0m-21 8h0m12 7h0"/><path stroke="#BEBEBE" d="M436 34h0m11 1h0m2-2h0m6 1h0m-26 2h0m16 0h0m8 3h0m-14 0h0m1 1h0m-19 4h0m16 1h0m10-1h0m6-1h0m-18 3h0m5 0h0m11 0h0m2 1h0m-36 2h0m13-2h0m4 1h0m12 1h0m7 0h0m13 0h0m1-2h0m-19 3h0m5 1h0m2 0h0m-34 1h0m5-1h0m0 1h0m15-1h0m10 1h0m-36 2h0m18 1h0m0 0h0m2-1h0m26-1h0m6 1h0m-48 2h0m15 0h0m4 1h0m2 0h0m0 0h0m21 0h0m5-2h0m-32 3h0m12 1h0m21-1h0m-22 2h0m8 0h0m14 0h0m-25 2h0m6 0h0m8 0h0m-47 2h0m22 1h0m11 0h0m14-1h0m1 1h0m15-1h0m0 0h0m-30 1h0m-23 4h0m0-1h0m7 0h0m1 0h0m12 0h0m10-1h0m4 0h0m1 2h0m2-1h0m5-1h0m5 1h0m2 2h0m-50 2h0m14 1h0m0-1h0m23 1h0m12-1h0m-45 3h0m14-1h0m3 0h0m23 1h0m2-1h0m10 1h0m-71 0h0m30 0h0m33 0h0m2 1h0m-46 3h0m24-1h0m3 0h0m8 0h0m-30 2h0m11 0h0m1 0h0m10 1h0m3-1h0m16 1h0m-22 2h0m8-1h0m9 1h0m18-1h0m-43 3h0m3 0h0m13-2h0m1 1h0m3 0h0m2 0h0m12 0h0m-68 1h0m16 2h0m16-2h0m9 2h0m5-1h0m-27 2h0m5 1h0m11 0h0m-25 2h0m50-2h0m-75 3h0m16 0h0m18 0h0m15 0h0m-13 2h0m2-1h0m12 1h0m1-1h0m4 1h0m4 0h0m-10 2h0m42 0h0m-16 3h0m-78 1h0m4 0h0m9 0h0m55 1h0m-119 2h0m40-1h0m3-1h0m82 0h0m-112 3h0m40 0h0m8 0h0m18-1h0m15 4h0m40-2h0m2 2h0m-54 1h0m11 0h0m44 1h0m15-1h0m7 0h0m-104 2h0m66-1h0m9 2h0m-49 2h0m36-1h0m-71 3h0m5 0h0m59 0h0m7-1h0m5 1h0m-123 2h0m43-1h0m24 1h0m39-2h0m12 1h0m17-1h0m4 0h0m-66 3h0m43 0h0m0 1h0m7-2h0m-113 3h0m48-1h0m10 1h0m12-1h0m7 0h0m2 1h0m17 0h0m17-1h0m41 1h0m-145 2h0m7 1h0m0 0h0m26-2h0m9 3h0m64 1h0m42-2h0m-85 3h0m3 0h0m4 1h0m19-1h0m-21 1h0m3 1h0m25 0h0m21 0h0m-139 2h0m96-1h0m7 0h0m2 1h0m-93 2h0m18 0h0m39 1h0m7-1h0m5 0h0m18-1h0m25 1h0m31 0h0m-142 1h0m25 1h0m44 1h0m1-1h0m22 1h0m9-1h0m-92 2h0m31 0h0m-34 2h0m6-1h0m51 1h0m43-1h0m1 2h0m-103 2h0m0-1h0m84 1h0m24-2h0m30 1h0m-154 2h0m99 1h0m17-1h0m-121 2h0m72 0h0m12-1h0m3 2h0m4-2h0m40 0h0m-89 4h0m1-2h0m6 1h0m34 1h0m-95 2h0m28-1h0m53 1h0m54 0h0m16 0h0m2-1h0m-122 1h0m23 1h0m1 1h0m23-1h0m4 1h0m12 0h0m7-1h0m34 1h0m26-2h0m5 1h0m10 0h0m-146 2h0m1 0h0m13-1h0m26 1h0m70 0h0m18 0h0m-147 2h0m41 0h0m26 1h0m85-2h0m-168 3h0m2-1h0m71 1h0m100 0h0m-155 1h0m-23 3h0m23 0h0m24-1h0m18 0h0m43 1h0m9-1h0m50 1h0m-115 2h0m20 1h0m13 0h0m-90 2h0m162-1h0m12 0h0m-99 2h0m8 0h0m69 0h0m-126 2h0m5 1h0m24-1h0m41 0h0m59-1h0m4 2h0m-91 1h0m8 1h0m42 0h0m30-1h0m-111 3h0m42-2h0m61 1h0m26 0h0m-152 3h0m137-1h0m9-1h0m-153 2h0m75 0h0m11 1h0m-67 1h0m14 1h0m11 1h0m39-2h0m2 1h0m8 1h0m8 0h0m33 0h0m-84 1h0m78-1h0m12 2h0m0-1h0m1 0h0m18 0h0m14 0h0m-13 3h0m4-2h0m-132 3h0m5 0h0m5-1h0m0 1h0m79 1h0m17 0h0m7 0h0m-129 1h0m148 0h0m-95 2h0m71 1h0m31-1h0m16 0h0m3 1h0m5 0h0m-97 1h0m36 0h0m35 0h0m24-1h0m-120 3h0m33 0h0m3 1h0m79-1h0m-176 2h0m103 0h0m-94 2h0m23-1h0m13 2h0m40-1h0m42 0h0m32 1h0m18-1h0m-138 3h0m30-1h0m40 1h0m1 0h0m73-2h0m-208 3h0m0 1h0m4-1h0m33 0h0m13 0h0m31 0h0m33 1h0m6-1h0m2 1h0m-102 1h0m2 1h0m24-1h0m3 0h0m40 0h0m86 1h0m51 0h0m-199 2h0m11-1h0m45 1h0m16 0h0m1-1h0m11 0h0m13 1h0m2-1h0m22-1h0m9 0h0m8 1h0m19 0h0m42-1h0m-226 4h0m2-1h0m6 0h0m8 0h0m98-1h0m34 2h0m33-1h0m-171 2h0m3 1h0m3-1h0m0 0h0m33-1h0m51 0h0m38 0h0m7 0h0m7 1h0m33 0h0m49 0h0m-234 3h0m9-1h0m1 0h0m5 0h0m-13 1h0m16 0h0m22 1h0m20 0h0m42 0h0m57-1h0m16 0h0m61 1h0m-229 3h0m1 0h0m8 0h0m10-2h0m61 1h0m11 0h0m36 1h0m10-1h0m46-1h0m5 1h0m14-1h0m15 1h0m-231 2h0m8 1h0m9-1h0m11 0h0m62-1h0m7 1h0m65 0h0m19 0h0m15 1h0m-197 0h0m8 0h0m14 2h0m33-2h0m8 1h0m145 0h0m2 0h0m6 0h0m27 0h0m-237 2h0m3-1h0m37 0h0m8 1h0m8 0h0m142 1h0m2-1h0m1 0h0m-210 2h0m26 1h0m20-1h0m178 0h0m0-1h0m-211 2h0m3 1h0m9 0h0m9-1h0m44 1h0m11-1h0m67 2h0m6 0h0m3-2h0m40 2h0m7-1h0m30 0h0m-234 2h0m18 0h0m85 1h0m101-2h0m21 1h0m-123 3h0m33-1h0m64 0h0m17-1h0m-212 2h0m36 0h0m29 0h0m72 1h0m57 0h0m-207 1h0m38 0h0m155 0h0m10 2h0m2-2h0m10 1h0m24 0h0m9 0h0m-143 3h0m8-1h0m35 1h0m7-1h0m59-1h0m17 0h0m-227 3h0m7 0h0m24 0h0m55 0h0m3 1h0m25-1h0m21 0h0m19 1h0m43 0h0m4-1h0m2-1h0m15 1h0m23 0h0m-246 1h0m39 0h0m11 2h0m25 0h0m21-2h0m9 1h0m2 0h0m1 0h0m24-1h0m20 0h0m5 1h0m55-1h0m25 0h0m3 2h0m3 0h0m-244 1h0m2 1h0m64-1h0m2-1h0m2 2h0m24-2h0m17 1h0m12 1h0m7-1h0m12-1h0m0 0h0m1 0h0m2 2h0m1 0h0m4-2h0m61 1h0m26 1h0m-142 0h0m14 2h0m7 0h0m2-1h0m13-1h0m14 2h0m85-1h0m-223 2h0m48 1h0m44-1h0m0 0h0m5 1h0m2-2h0m22 1h0m12 0h0m-99 1h0m64 1h0m31-1h0m4 2h0m32-2h0m60 2h0m-227 1h0m1 0h0m87 0h0m1 0h0m1-1h0m10 0h0m6 1h0m1-1h0m10 2h0m4 0h0m11-1h0m8-1h0m4 0h0m8 1h0m88 0h0m-208 3h0m66 0h0m39-2h0m15 1h0m3 0h0m68-1h0m29 2h0m-188 1h0m29 1h0m21-2h0m0 0h0m7 2h0m9-2h0m1 0h0m1 1h0m0 0h0m12-1h0m4 1h0m91 0h0m-252 3h0m24-1h0m14-1h0m1 2h0m4 0h0m60-2h0m11 1h0m1 1h0m39-2h0m-131 4h0m23-1h0m62-1h0m28 2h0m5-1h0m9-1h0m6 2h0m1-1h0m-72 2h0m23 0h0m5 1h0m3-2h0m0 1h0m20 0h0m1 0h0m3 0h0m6 0h0m6 1h0m-142 1h0m108 1h0m5-1h0m6 0h0m1 0h0m15 1h0m-54 0h0m35 2h0m3-1h0m7-1h0m15 2h0m-40 2h0m1-1h0m9 0h0m1 0h0m2 1h0m2-1h0m3 0h0m14 1h0m-15 1h0m2 0h0m-17 2h0m9 0h0m-2 3h0m22-2h0m-133 4h0m1 2h0m9-1h0m127 1h0"/><path stroke="#0D0887" d="M437 36h0m21 8h0m-23 11h0m29 1h0m-36 4h0m-17 6h0m9 1h0m48 6h0m-22 0h0m14 1h0m-35 2h0m-18 1h0m3 2h0m-10 0h0m-8 3h0m5-1h0m18 0h0m-5 3h0m-49 2h0m30 1h0m34-2h0m6 2h0m-53 1h0m19 0h0m-40 2h0m45 1h0m-22 2h0m12-1h0m11 1h0m6 0h0m-65 1h0m18 1h0m1-1h0m11 1h0m5 0h0m13-2h0m14 2h0m1-1h0m2 0h0m7 0h0m50-1h0m-110 4h0m7 0h0m10-1h0m12-1h0m2 2h0m17-1h0m1 1h0m2 0h0m9-2h0m8 1h0m1 0h0m34 1h0m-107 1h0m13 0h0m15 0h0m15 1h0m5-2h0m13 2h0m51 0h0m15-1h0m-141 1h0m11 1h0m20 0h0m17 1h0m5-1h0m60 0h0m2 0h0m18-1h0m-135 3h0m16 0h0m6 0h0m1 1h0m11 0h0m6-2h0m2 1h0m37 0h0m20 1h0m-96 1h0m7 0h0m3 1h0m13-1h0m3-1h0m21 2h0m7-1h0m32 0h0m1 0h0m53 0h0m-124 2h0m6-1h0m2 2h0m0-2h0m8 1h0m4-1h0m16 0h0m11 1h0m1 1h0m2-2h0m5 1h0m14-1h0m15 1h0m-112 3h0m1-1h0m6-1h0m21 2h0m3-1h0m0 0h0m1-1h0m11 0h0m12 1h0m5 0h0m14 0h0m3 0h0m3 0h0m20 0h0m19-1h0m17 1h0m18 0h0m-140 2h0m4 0h0m27-1h0m13 1h0m1-1h0m23 2h0m2-2h0m1 1h0m14 0h0m5 0h0m7 0h0m21 1h0m24-1h0m7 0h0m2 0h0m-137 2h0m3 0h0m23 1h0m1-1h0m24 0h0m9 0h0m2-1h0m1 1h0m1 0h0m63 0h0m-148 2h0m2-1h0m7 1h0m9 0h0m36 0h0m8 0h0m9 1h0m6-2h0m3 0h0m4 0h0m4 0h0m14 1h0m12 0h0m5 1h0m16-1h0m21 0h0m-115 1h0m13 2h0m4-2h0m7 1h0m5 0h0m12-1h0m11 2h0m0-1h0m40 1h0m-104 2h0m23-1h0m1 0h0m0 1h0m24-1h0m2-1h0m6 0h0m0 1h0m8-1h0m25 1h0m4 0h0m11 0h0m9 0h0m14 0h0m-137 3h0m16-2h0m32 1h0m4 1h0m11-2h0m6 0h0m3 2h0m9-2h0m14 2h0m3-2h0m-110 3h0m50 0h0m14 0h0m2 0h0m35 0h0m2 0h0m0 0h0m14-1h0m48 0h0m-168 4h0m11 0h0m19-2h0m8 2h0m0 0h0m2-2h0m6 1h0m8-1h0m1 1h0m3 1h0m36-1h0m11 0h0m14 0h0m5 0h0m9-1h0m13 1h0m-142 2h0m26 0h0m4 0h0m24 0h0m6-1h0m13 1h0m4 0h0m5 1h0m6-2h0m31 2h0m1-1h0m6-1h0m-140 3h0m21 1h0m4 0h0m10 0h0m47-1h0m5 0h0m1 0h0m4 0h0m4 0h0m1 1h0m0 0h0m6-1h0m18 0h0m3 1h0m6-2h0m3 1h0m-122 3h0m68-2h0m17 0h0m21 1h0m2 0h0m0-1h0m2 0h0m2 1h0m2-1h0m8 1h0m9 0h0m10 0h0m-122 3h0m9-1h0m10 0h0m6 0h0m1-1h0m18 1h0m6 0h0m8 0h0m11 0h0m7 1h0m8-2h0m4 1h0m6 1h0m3 0h0m4 0h0m-98 2h0m24-2h0m41 2h0m4 0h0m4 0h0m1 0h0m17 0h0m2 0h0m4-2h0m3 2h0m4-2h0m-136 2h0m14 1h0m25 1h0m4-2h0m15 1h0m70 0h0m1 0h0m19 0h0m-148 3h0m27-1h0m2 0h0m68 0h0m16-1h0m2 1h0m1 0h0m15 0h0m1 0h0m13-1h0m23 0h0m-167 3h0m102-1h0m8 2h0m1-1h0m10 0h0m10-1h0m1 0h0m1 1h0m4 1h0m5-1h0m1 1h0m15-2h0m-163 4h0m23-2h0m45 1h0m3 1h0m15-1h0m4 0h0m23 0h0m20 0h0m8 1h0m4-1h0m3 1h0m2-2h0m4 1h0m2 0h0m-112 1h0m14 2h0m24-2h0m22 2h0m0-1h0m18 1h0m3-1h0m3 0h0m5 0h0m4 0h0m0 0h0m1 1h0m13-1h0m-96 2h0m4 1h0m0-1h0m17 1h0m41-2h0m10 2h0m8 0h0m1 0h0m-135 1h0m5 0h0m48 0h0m13-1h0m19 2h0m2-2h0m3 1h0m10 0h0m10-1h0m8 2h0m3-1h0m11 1h0m12 0h0m3-1h0m0 1h0m4 0h0m1-2h0m8 1h0m4 1h0m-161 0h0m20 1h0m0 1h0m33-1h0m11 1h0m21-1h0m32 0h0m25 1h0m9-1h0m-159 2h0m5 0h0m3 1h0m4-2h0m10 1h0m3 0h0m10-1h0m41 2h0m12-1h0m2 1h0m4-1h0m20 0h0m3 1h0m33-1h0m1-1h0m2 0h0m0 0h0m1 2h0m14-2h0m-140 2h0m54 0h0m9 1h0m16 0h0m10 0h0m0 0h0m4 0h0m5 0h0m6 1h0m6-1h0m2 1h0m17-1h0m0-1h0m-166 2h0m22 1h0m3-1h0m58 2h0m17-2h0m2 1h0m20 1h0m2-1h0m2 0h0m0-1h0m0 2h0m6-2h0m2 0h0m3 2h0m8-1h0m25-1h0m-177 3h0m2 0h0m39-1h0m52 0h0m2 2h0m16 0h0m7 0h0m3-2h0m7 1h0m10 1h0m36-1h0m5 0h0m-141 3h0m7 0h0m6 0h0m21-1h0m3-1h0m25 1h0m20 0h0m16 1h0m14-2h0m3 0h0m15 1h0m-145 2h0m7-1h0m57 0h0m30 2h0m14-2h0m8 0h0m7 1h0m17 0h0m8 1h0m2-2h0m-175 4h0m26 0h0m26-2h0m5 2h0m5-2h0m2 1h0m16 0h0m13 0h0m12 1h0m31-1h0m1-1h0m20 1h0m11 1h0m3 0h0m8-2h0m-161 2h0m2 1h0m14 0h0m5 0h0m4 0h0m8 0h0m3 0h0m5 0h0m8 0h0m14-1h0m27 2h0m3-1h0m2-1h0m5 1h0m3-1h0m8 0h0m4 1h0m0-1h0m7 2h0m10 0h0m12-1h0m12-1h0m0 0h0m7 0h0m-158 4h0m7-1h0m47 0h0m10-1h0m10 0h0m10 0h0m11 2h0m10-2h0m14 0h0m3 1h0m8-1h0m4 1h0m3 0h0m1 0h0m4 0h0m2 0h0m5 1h0m-154 0h0m3 2h0m2-1h0m40 0h0m17 1h0m31 0h0m29 0h0m16 0h0m2-1h0m1 1h0m2-2h0m1 0h0m7 2h0m3-1h0m2 0h0m1-1h0m-153 3h0m28-1h0m46 0h0m22 2h0m13 0h0m10-1h0m-109 2h0m14 0h0m8-1h0m14 1h0m39 0h0m4 0h0m26 0h0m25-1h0m17 2h0m-82 0h0m18 1h0m1 0h0m11-1h0m8 1h0m6-1h0m7 0h0m5 0h0m9 1h0m11-1h0m4 1h0m-179 1h0m8 1h0m19-1h0m8 2h0m31-1h0m1 0h0m6 0h0m7-1h0m14 1h0m11-1h0m11 1h0m1-1h0m3 1h0m21 0h0m2-1h0m26 0h0m7 1h0m1 0h0m4-1h0m1 0h0m6 2h0m1-1h0m-171 3h0m12-1h0m28 0h0m22 0h0m18-1h0m31 2h0m9 0h0m8-1h0m0 0h0m5-1h0m7 2h0m1-1h0m11 0h0m5 0h0m1 0h0m3 1h0m-155 2h0m6-2h0m21 2h0m14 0h0m19-2h0m22 1h0m11 1h0m4-2h0m24 2h0m5-2h0m2 2h0m8-1h0m0 0h0m3 0h0m0 1h0m1-1h0m17 1h0m-134 1h0m12-1h0m61 1h0m3 0h0m10 0h0m3 1h0m10-2h0m4 1h0m9 0h0m15 0h0m2 0h0m1-1h0m1 1h0m2-1h0m-167 2h0m15 1h0m4-1h0m31 2h0m42-2h0m4 1h0m4-1h0m7 0h0m16 2h0m10-2h0m6 2h0m1 0h0m2-2h0m12 2h0m8-1h0m1 1h0m2-1h0m6 0h0m-86 2h0m3-1h0m16 1h0m4-1h0m2 1h0m3 1h0m20 0h0m7-1h0m2 1h0m13-1h0m8-1h0m-154 3h0m39 0h0m47-1h0m4 1h0m17 1h0m13-2h0m12 0h0m1 2h0m2 0h0m13-2h0m-122 3h0m41 0h0m2 0h0m18 0h0m10-1h0m26 1h0m7 1h0m4 0h0m3-1h0m7 0h0m7 0h0m10 0h0m11-1h0m-135 3h0m7 0h0m10 0h0m14 0h0m3 0h0m1 0h0m1 1h0m4-1h0m9 0h0m4 0h0m8-1h0m11 0h0m14 2h0m14 0h0m7-2h0m2 1h0m2 1h0m20-1h0m6 0h0m5-1h0m-161 3h0m2 0h0m11 0h0m9 0h0m7-1h0m24 0h0m2 1h0m10-1h0m6 1h0m8 1h0m15-2h0m12 0h0m1 1h0m4-1h0m20 1h0m2 0h0m15 1h0m28 0h0m-137 1h0m5-1h0m18 1h0m12-1h0m19 0h0m5 1h0m0 0h0m3 1h0m2-1h0m7 0h0m4 0h0m4-1h0m5 0h0m5 2h0m7-1h0m12 0h0m13 0h0m-206 2h0m77 0h0m13-1h0m63 1h0m11 1h0m8-1h0m8 1h0m3 0h0m3 0h0m12-1h0m21 0h0m8 0h0m-162 3h0m11-1h0m37 0h0m15 0h0m19 1h0m1-1h0m5 0h0m4 0h0m11 0h0m13-1h0m17 1h0m-132 1h0m69 1h0m4-1h0m2 2h0m0 0h0m22 0h0m8-1h0m1 0h0m28 0h0m10 0h0m14 1h0m-193 2h0m102-2h0m10 0h0m1 0h0m5 0h0m7 0h0m9 0h0m10 1h0m8 0h0m2 0h0m4 1h0m8-1h0m9-1h0m2 0h0m12 2h0m4-1h0m-230 2h0m7 0h0m50 0h0m24 0h0m15 1h0m14-1h0m7 0h0m9 0h0m6 1h0m19 0h0m4-2h0m4 1h0m1 0h0m13-1h0m11 1h0m-149 3h0m29-1h0m23 0h0m45 0h0m1-1h0m3 0h0m5 2h0m10-1h0m2 0h0m0 0h0m10 1h0m5-1h0m5-1h0m14 1h0m3-1h0m6 1h0m1 0h0m11 1h0m5-2h0m6 1h0m8 1h0m17-2h0m-168 2h0m11 1h0m29-1h0m11 1h0m12-1h0m5 1h0m16 0h0m7-1h0m7 2h0m0-1h0m1 0h0m8-1h0m9 2h0m3-1h0m10-1h0m5 0h0m7 1h0m17 0h0m-203 3h0m25 0h0m45-2h0m2 2h0m18 0h0m1 0h0m1-1h0m7 0h0m29 0h0m13 0h0m1 1h0m2-1h0m3 1h0m3 0h0m0-1h0m4-1h0m14 0h0m1 2h0m9 0h0m15-2h0m6 1h0m-133 2h0m16-1h0m18 1h0m12 1h0m10-2h0m6 1h0m8 0h0m3-1h0m19 0h0m4 0h0m1 2h0m4-1h0m0-1h0m13 2h0m2 0h0m4-1h0m29-1h0m-152 2h0m15 0h0m2 2h0m15-2h0m4 2h0m24-1h0m3 0h0m23 0h0m31 0h0m5 0h0m1 0h0m8 0h0m-111 1h0m5 2h0m9-2h0m9 1h0m42 0h0m14 0h0m11-1h0m22 1h0m4 0h0m9-1h0m6 2h0m-211 0h0m9 2h0m44-1h0m12 1h0m16-1h0m5 0h0m0 1h0m16-1h0m7 0h0m7 1h0m8 0h0m3-1h0m1 0h0m7-1h0m8 1h0m15 0h0m5 0h0m9 1h0m22-1h0m3 0h0m5-1h0m1 2h0m1 0h0m4 0h0m-246 1h0m11 0h0m19-1h0m74 2h0m35-1h0m1 1h0m16-1h0m5 0h0m14 0h0m7 1h0m15-1h0m2 1h0m4-2h0m2 0h0m-180 2h0m31 0h0m27 1h0m15 0h0m6-1h0m11 0h0m16 2h0m16 0h0m3-1h0m23-1h0m5 0h0m1 0h0m10 1h0m4 1h0m6-1h0m5 0h0m25-1h0m8 1h0m0 0h0m13 1h0m-252 2h0m84-1h0m4 0h0m22 1h0m18-1h0m5 0h0m4 0h0m35 0h0m5 1h0m8-1h0m5 1h0m9-1h0m18-1h0m14 2h0m1-1h0m6 0h0m-135 2h0m9 0h0m8 0h0m20 0h0m14 1h0m4 0h0m7-1h0m9 0h0m1 0h0m4 0h0m9 0h0m10 0h0m3 0h0m9 0h0m2-1h0m10 1h0m19 1h0m13-2h0m-237 3h0m76 0h0m15 1h0m12-2h0m1 1h0m6 1h0m8 0h0m15-2h0m7 1h0m1-1h0m12 2h0m8-1h0m5-1h0m7 2h0m5 0h0m26-1h0m12-1h0m13 2h0m-199 2h0m115-1h0m0-1h0m9 0h0m5 1h0m13 1h0m2 0h0m-180 1h0m27 0h0m49 0h0m46 0h0m25-1h0m11 2h0m1-2h0m3 1h0m0 1h0m13-2h0m17 1h0m1 0h0m3 1h0m5 0h0m29-1h0m0 0h0m-243 2h0m31 1h0m130-2h0m9 2h0m1-1h0m1 0h0m1 0h0m27-1h0m3 0h0m10 1h0m3 0h0m6 0h0m4-1h0m13 1h0m10 0h0m-238 2h0m74-1h0m55 1h0m11 0h0m10 0h0m1 0h0m11 0h0m37 0h0m28 0h0m-121 1h0m46 0h0m52 1h0m6 0h0m17 0h0m10 0h0m2 0h0m-228 2h0m146-1h0m40 0h0m0 1h0m17 0h0m8 1h0m13 0h0m-187 1h0m160-1h0m24 0h0m-235 3h0m0-1h0m97 1h0m50 1h0m67-1h0m9 0h0m3 0h0m2-1h0m-238 2h0m3 2h0m230-1h0m11 1h0m-237 1h0m70-1h0m10 1h0m41-1h0m104 2h0m13-2h0m-247 3h0m137 3h0m-101 0h0m2 2h0m0 1h0m68 0h0m-94 2h0m10-1h0m8 0h0m104 3h0m-115 3h0m8-2h0m1 2h0m-9 2h0m2-1h0m8 1h0m89-2h0m-103 4h0m-1 6h0m10-1h0m-10 2h0m3 1h0m7-1h0m-9 4h0m0 1h0m0 4h0m1 3h0"/><path stroke="#7E03A8" d="M444 32h0m-13 9h0m37 1h0m-12 2h0m-11 2h0m-24 1h0m44 4h0m-35 2h0m35 1h0m-28 4h0m-27 3h0m46 2h0m-6 0h0m-27 5h0m7-1h0m37 2h0m-48 0h0m-3 5h0m8 2h0m1-1h0m-33 4h0m12 0h0m15 1h0m-13 1h0m5 0h0m13 1h0m-28 1h0m-19 3h0m5 0h0m3 1h0m35-1h0m-21 2h0m4 1h0m4-1h0m-38 3h0m13-1h0m6 1h0m9-1h0m2-1h0m-20 4h0m8-1h0m5-1h0m5 0h0m4 1h0m7 1h0m-56 1h0m5 0h0m3 0h0m12 0h0m9-1h0m10 0h0m26 0h0m25 1h0m27 0h0m-129 3h0m19 0h0m4 0h0m2-2h0m1 1h0m8 1h0m10 0h0m20-1h0m19 0h0m-70 1h0m6 1h0m2 0h0m11-1h0m41 2h0m6-2h0m4 2h0m48 0h0m-124 2h0m7-1h0m21 1h0m16-2h0m31 0h0m-89 3h0m4 1h0m3-2h0m7 1h0m1 1h0m7-1h0m4 0h0m6 1h0m16-2h0m10 0h0m15 1h0m5 0h0m2 0h0m1 1h0m5-1h0m0 1h0m8 0h0m2-1h0m1-1h0m-98 4h0m8-1h0m21 1h0m5-2h0m10 1h0m4 1h0m18-2h0m3 0h0m25 2h0m0-1h0m-82 2h0m17 1h0m0 0h0m3-1h0m2 0h0m7 0h0m5 0h0m24 0h0m54 1h0m9-1h0m31 0h0m-152 3h0m1-1h0m4 0h0m0 1h0m25 0h0m24 0h0m2-1h0m12 1h0m65-2h0m3 1h0m-118 3h0m5-1h0m8 0h0m3 0h0m2 0h0m37 1h0m10-1h0m2 0h0m-79 3h0m61 0h0m6 0h0m21 0h0m-86 1h0m3 1h0m0 0h0m13-1h0m17-1h0m0 1h0m11 0h0m17-1h0m14 1h0m18 1h0m-105 1h0m15-1h0m3 2h0m5-1h0m1 0h0m14-1h0m1 0h0m28 1h0m7 0h0m11 0h0m15 0h0m0 1h0m29-1h0m36 1h0m-150 2h0m8-2h0m21 1h0m7 0h0m8 1h0m4-1h0m0-1h0m3 1h0m53 0h0m10 1h0m-132 0h0m3 2h0m2-1h0m9 0h0m8 1h0m13 0h0m2-1h0m1 0h0m0 1h0m20 0h0m5-1h0m-72 2h0m10 0h0m9 0h0m9 0h0m12 1h0m3 0h0m23-2h0m19 2h0m7-1h0m10 0h0m7 0h0m11 1h0m20-1h0m-131 2h0m1 1h0m4-2h0m11 1h0m14 0h0m4 0h0m28 1h0m3-1h0m2 0h0m35-1h0m4 0h0m31 1h0m-136 2h0m32 0h0m20 1h0m0-2h0m3 0h0m7 0h0m29 1h0m11 0h0m2 1h0m10 0h0m6-1h0m5 0h0m4 1h0m18-2h0m11 2h0m-164 1h0m9 0h0m6 0h0m9 0h0m16 0h0m5-1h0m6 1h0m7 1h0m4-2h0m2 0h0m18 2h0m3-1h0m2 0h0m14-1h0m2 2h0m19-1h0m2-1h0m5 1h0m6-1h0m9 1h0m-142 2h0m39 0h0m27 0h0m17 1h0m11 0h0m2-1h0m20-1h0m13 1h0m13 0h0m-116 1h0m8 1h0m1 1h0m12-1h0m19 0h0m27 1h0m2-2h0m3 1h0m1 0h0m0 1h0m7-1h0m12-1h0m2 1h0m15 0h0m1 0h0m4-1h0m-135 3h0m20 1h0m9 0h0m0 0h0m34 0h0m8 0h0m23-1h0m0 0h0m25 1h0m10-1h0m-136 2h0m12-1h0m4 0h0m32 1h0m25-1h0m5 2h0m21 0h0m21-1h0m28 0h0m3 0h0m-148 2h0m9 0h0m5 0h0m26-1h0m8 1h0m10 0h0m93 0h0m-138 2h0m3 0h0m21-1h0m22 1h0m7 0h0m4 0h0m13 0h0m2 0h0m21-1h0m16 0h0m8 2h0m-143 2h0m14 0h0m7-1h0m4 0h0m4 0h0m13 1h0m24-2h0m9 1h0m1 0h0m13 0h0m12 1h0m25 0h0m2-2h0m3 1h0m9 1h0m0-1h0m4 0h0m16 1h0m11-2h0m-141 3h0m12 1h0m33-1h0m12-1h0m21 0h0m0 1h0m-107 2h0m12 1h0m12-1h0m15-1h0m4 1h0m8 0h0m12 1h0m21-1h0m19 0h0m5 0h0m10 0h0m16 1h0m6 0h0m5-1h0m3-1h0m-146 2h0m11 2h0m3-1h0m1-1h0m2 2h0m3-2h0m2 1h0m1 0h0m9 1h0m8 0h0m34-2h0m11 1h0m13 0h0m13 0h0m1-1h0m3 1h0m16 0h0m34 0h0m-164 2h0m14 0h0m5-1h0m22 1h0m9 0h0m13 0h0m58-1h0m1 1h0m27-1h0m13 1h0m-169 2h0m20 0h0m9 1h0m25-1h0m19 1h0m14-2h0m0 1h0m9 0h0m0 0h0m-92 1h0m16 1h0m20 1h0m10-2h0m13 0h0m45 2h0m0-1h0m7 0h0m4-1h0m-99 4h0m3-1h0m39 0h0m2-1h0m4 1h0m14 1h0m10-1h0m8 0h0m9 1h0m25 0h0m14-1h0m7 0h0m4 1h0m1-1h0m6-1h0m3 1h0m-180 1h0m10 0h0m11 2h0m1 0h0m12-1h0m5 0h0m8-1h0m9 0h0m34 0h0m2 1h0m4 1h0m23-1h0m6 1h0m16-1h0m21 1h0m2-2h0m11 1h0m-178 3h0m28-2h0m8 1h0m22 1h0m3-1h0m7 1h0m1-2h0m8 2h0m32-1h0m2 1h0m8-1h0m22 0h0m6 0h0m9-1h0m10 2h0m8-1h0m-157 2h0m12-1h0m18 1h0m3-1h0m25 1h0m18 0h0m15-1h0m8 0h0m8 0h0m3 1h0m12-1h0m34 1h0m2 0h0m-167 1h0m8 1h0m19 1h0m5-1h0m9 0h0m5 1h0m9 0h0m42-2h0m1 1h0m5 0h0m7-1h0m2 1h0m19 0h0m2 1h0m1-2h0m8 0h0m2 1h0m3 0h0m20 1h0m-142 2h0m47 0h0m12-1h0m32-1h0m3 1h0m24-1h0m7 0h0m6 0h0m9 2h0m-165 1h0m18 0h0m16-1h0m14 1h0m6 0h0m3 1h0m21-1h0m14-1h0m5 2h0m31-2h0m22 2h0m-135 1h0m15-1h0m1 2h0m3-1h0m23-1h0m10 0h0m37 1h0m5 1h0m1-2h0m16 0h0m2 0h0m5 1h0m32 0h0m1 1h0m-162 1h0m10 1h0m3-1h0m17 0h0m1 0h0m10 0h0m9 0h0m19 1h0m3-2h0m18 1h0m13 0h0m16-1h0m30 1h0m5 0h0m3 0h0m1-1h0m10 1h0m-182 2h0m64 0h0m35-1h0m10 1h0m9 1h0m18-2h0m6 2h0m22-1h0m8-1h0m-173 3h0m26 0h0m4-1h0m11 2h0m9 0h0m0-1h0m26-1h0m5 1h0m19 1h0m1-2h0m7 1h0m26 0h0m3-1h0m8 2h0m2-1h0m24 1h0m-161 1h0m53 0h0m25-1h0m5 1h0m5 1h0m10 0h0m0-1h0m6 1h0m14-1h0m3 1h0m10 0h0m32-1h0m6 0h0m-132 2h0m9 0h0m30 0h0m9-1h0m2 0h0m5 1h0m30-1h0m22 1h0m9 1h0m8-1h0m-124 1h0m2 0h0m14 0h0m13 1h0m6-1h0m16 0h0m12 1h0m3-1h0m13 1h0m5 1h0m12-2h0m1 2h0m-118 0h0m6 2h0m5-1h0m28 1h0m7-1h0m14-1h0m6 1h0m14 0h0m13 0h0m21 0h0m0-1h0m1 1h0m2 0h0m10 0h0m8 0h0m5-1h0m12 1h0m9 1h0m-183 1h0m28-1h0m9 0h0m1 1h0m9 0h0m13 0h0m11-1h0m3 0h0m10 2h0m21-1h0m33 1h0m8 0h0m30-1h0m-170 2h0m31 0h0m10-1h0m8 0h0m13 1h0m30 0h0m42 0h0m-104 2h0m1-1h0m21 2h0m20-1h0m5 0h0m16 0h0m4 0h0m3 0h0m1 1h0m29-1h0m30 1h0m10-2h0m-171 3h0m24-1h0m5 2h0m2-1h0m9 1h0m25 0h0m13-2h0m16 1h0m10 0h0m7 0h0m17 0h0m2 0h0m14 0h0m16-1h0m-170 2h0m33 1h0m9-1h0m12 0h0m9 0h0m22 2h0m1-2h0m2 1h0m30 1h0m14 0h0m11-2h0m3 0h0m10 2h0m11-2h0m6 1h0m3 0h0m-151 2h0m26 1h0m3-1h0m17 1h0m3-1h0m21 0h0m30-1h0m4 1h0m12 0h0m11 0h0m19 0h0m39-1h0m-191 3h0m7 0h0m23 0h0m29 0h0m1 1h0m33-2h0m13 2h0m9 0h0m2-1h0m2 0h0m1 0h0m7 0h0m10 1h0m26-1h0m29 0h0m-215 2h0m66 0h0m26 0h0m1 0h0m7 0h0m12 0h0m13 0h0m5 0h0m4 1h0m2-1h0m9 0h0m4-1h0m44 1h0m-134 2h0m5 1h0m1-2h0m16 1h0m6 0h0m3 0h0m18 1h0m15-2h0m21 1h0m15-1h0m22 2h0m-163 2h0m42-1h0m2-1h0m3 1h0m7-1h0m11 1h0m7 1h0m1-1h0m6-1h0m10 1h0m13 0h0m10 0h0m14 0h0m13-1h0m24 0h0m33 2h0m9-1h0m-200 3h0m66 0h0m7-2h0m10 1h0m5 0h0m37 0h0m19 0h0m4 0h0m17 0h0m3 0h0m13 1h0m24-1h0m-225 1h0m15 1h0m26 0h0m16-1h0m14 0h0m8 1h0m2 0h0m1-1h0m5 1h0m5 1h0m1 0h0m21-1h0m2 0h0m0 0h0m20-1h0m10 1h0m15 1h0m9-1h0m4-1h0m3 0h0m38 1h0m10 1h0m-239 2h0m7-2h0m57 1h0m0 1h0m6 0h0m11-1h0m2 1h0m6-2h0m23 0h0m3 1h0m9 1h0m16-2h0m1 1h0m3 1h0m12-1h0m14-1h0m10 1h0m57 0h0m-239 3h0m40-2h0m44 0h0m13 0h0m4 2h0m5-1h0m18 1h0m40-1h0m0-1h0m8 1h0m13-1h0m8 0h0m15 1h0m7-1h0m18 0h0m-223 3h0m14 1h0m44-1h0m33 0h0m3 0h0m20 0h0m2 0h0m17 0h0m12 1h0m12-2h0m3 1h0m29 0h0m1 0h0m-161 2h0m65 0h0m19-1h0m11 1h0m8 1h0m2 0h0m21-2h0m3 1h0m8 1h0m22-2h0m9 0h0m-196 3h0m80-1h0m7 1h0m2 0h0m25 1h0m4 0h0m3-1h0m6 0h0m1-1h0m15 1h0m1 0h0m9 1h0m4-1h0m1 0h0m12-1h0m12 1h0m0 0h0m-191 2h0m2 0h0m2 1h0m17-1h0m5 0h0m43 1h0m9 0h0m41-1h0m4 0h0m8 1h0m2-2h0m11 1h0m33 1h0m12-1h0m7 1h0m32-2h0m-199 4h0m67-1h0m21 1h0m15-1h0m18-1h0m8 1h0m16 0h0m7 0h0m8 1h0m2-1h0m10 0h0m39-1h0m-244 4h0m10-1h0m5 1h0m1-1h0m2 0h0m12 0h0m47 0h0m6 1h0m53-2h0m6 2h0m12 0h0m10-1h0m1-1h0m1 2h0m0-1h0m18 0h0m1-1h0m1 1h0m3 1h0m0-2h0m0 0h0m16 2h0m-203 2h0m10-2h0m18 0h0m11 1h0m41 0h0m2 0h0m2 0h0m15 1h0m10-2h0m8 1h0m2 1h0m2-1h0m35-1h0m11 1h0m0 1h0m6-1h0m1 0h0m8 0h0m-180 3h0m11-1h0m2 0h0m67 1h0m16-2h0m5 1h0m62 0h0m4 0h0m20-1h0m6 0h0m29 0h0m3 0h0m-229 2h0m9 1h0m28 1h0m24-2h0m10 1h0m11 0h0m7 0h0m8 0h0m16 0h0m43 0h0m5 0h0m7-1h0m21 1h0m-167 2h0m67 0h0m4 0h0m1-1h0m9 1h0m13-1h0m20 2h0m3-1h0m20 0h0m16 0h0m1-1h0m5 0h0m-183 3h0m54 0h0m54 0h0m35-1h0m1 2h0m6-1h0m22 0h0m10 0h0m31 0h0m-212 2h0m29 1h0m22-2h0m41 0h0m26 2h0m53-1h0m12 0h0m13 0h0m56-1h0m-251 3h0m119 0h0m11 1h0m20 0h0m18-2h0m7 1h0m-177 3h0m18-2h0m9 1h0m0 0h0m191 0h0m-192 1h0m71 1h0m20 0h0m0 1h0m27-1h0m74 1h0m5-1h0m26 0h0m-236 2h0m41-1h0m9 1h0m2 1h0m26-1h0m9 0h0m35-1h0m8 1h0m109 0h0m-189 2h0m42 0h0m1 1h0m19 0h0m97-2h0m-223 2h0m1 0h0m0 1h0m1 0h0m2 0h0m22 0h0m120-1h0m10 0h0m63 1h0m6 0h0m6 1h0m-222 0h0m2 2h0m11-2h0m5 1h0m13-1h0m33 2h0m155 0h0m-220 1h0m7-1h0m20 1h0m37-1h0m12 0h0m21 2h0m8-2h0m-85 4h0m-33 1h0m21 0h0m11-1h0m-18 4h0m12-1h0m19-1h0m38 0h0m9 2h0m14-1h0m33 0h0m-129 3h0m11-1h0m15 0h0m47 0h0m-74 3h0m1 0h0m24 0h0m1-2h0m5 0h0m0 2h0m95-1h0m-113 3h0m119 0h0m-135 3h0m5 0h0m34 0h0m61-1h0m17 0h0m0 0h0m5 2h0m2-1h0m-119 5h0m7 0h0m11-1h0m10 2h0m-17 5h0m4 0h0m8-1h0m-16 5h0m-4 1h0m6 7h0"/><path stroke="#CC4778" d="M454 37h0m1 0h0m-35 11h0m4 2h0m-1 4h0m24 3h0m-18 5h0m11 2h0m7 2h0m18 4h0m-22 2h0m-52 15h0m8 1h0m-22 5h0m60-1h0m-41 3h0m-44 1h0m36 0h0m-14 2h0m14-1h0m-28 4h0m41-1h0m-23 2h0m1 1h0m19-1h0m8 0h0m-44 4h0m67 0h0m-69 2h0m61 0h0m-18 2h0m-67 3h0m53 0h0m10-2h0m6 0h0m24 2h0m-19 3h0m14 0h0m-77 2h0m17-1h0m32 1h0m-47 3h0m15 0h0m7-1h0m-17 1h0m18 1h0m3 0h0m18 0h0m50 0h0m11 0h0m-77 2h0m20 1h0m2-1h0m2 0h0m-66 2h0m25 0h0m4-1h0m17 2h0m1-2h0m77 0h0m-69 4h0m43-1h0m-104 3h0m7-1h0m2 1h0m39-2h0m18 1h0m12 0h0m41-1h0m22 0h0m-119 2h0m22 1h0m46 1h0m0-2h0m-81 2h0m25 2h0m8-2h0m12 0h0m9 1h0m-59 2h0m42 0h0m29-1h0m16 2h0m-75 1h0m6 1h0m40-1h0m29-1h0m52 1h0m-54 3h0m23-2h0m14 2h0m1-2h0m20 2h0m-132 1h0m37 0h0m7 1h0m6-1h0m12-1h0m-63 4h0m12-1h0m0 0h0m46 0h0m6 1h0m37-2h0m-84 4h0m7-1h0m3 0h0m38 1h0m37-2h0m-106 4h0m32 0h0m29-2h0m39 2h0m15-1h0m1 0h0m30-1h0m8 2h0m-163 1h0m13 1h0m17 0h0m59 0h0m49-1h0m-125 3h0m2 0h0m35-2h0m63 1h0m11 1h0m-96 1h0m18-1h0m39 1h0m-71 3h0m23-1h0m15 0h0m5 0h0m12-1h0m30 0h0m50 1h0m-110 1h0m29 0h0m40 1h0m-49 2h0m0 0h0m3 0h0m9 0h0m19 0h0m13 0h0m44 0h0m1 0h0m3-1h0m-154 2h0m35 2h0m8-1h0m95-1h0m18 1h0m-158 3h0m24-1h0m4-1h0m10 1h0m6 0h0m104 0h0m-139 2h0m110 0h0m-84 2h0m13 0h0m23 1h0m47 0h0m-35 1h0m46 0h0m-120 3h0m10-2h0m61 2h0m48-2h0m28 1h0m-124 1h0m19 1h0m53 1h0m49 0h0m-64 1h0m28-1h0m-105 2h0m16 1h0m46 0h0m32 0h0m6 1h0m-72 1h0m55 0h0m17 0h0m26 1h0m19-1h0m-10 3h0m-115 0h0m25 0h0m57 1h0m-78 2h0m35 0h0m27 0h0m-76 1h0m34 2h0m37-1h0m21 0h0m1 0h0m-14 2h0m44-1h0m12 2h0m19-1h0m-127 1h0m98 1h0m11 0h0m-57 2h0m7 0h0m5-1h0m53 1h0m-117 2h0m48 0h0m6 0h0m44 1h0m-59 2h0m3-1h0m25-1h0m3 1h0m25 0h0m-119 1h0m11 0h0m0 1h0m2 1h0m16-1h0m13 1h0m1 0h0m6-2h0m3 1h0m55 0h0m-77 2h0m3 2h0m3 0h0m8 0h0m14 1h0m8 0h0m13-1h0m45 0h0m-122 1h0m4 2h0m42-1h0m34 0h0m16-1h0m-21 3h0m10 1h0m17 0h0m61-1h0m-188 3h0m26-2h0m26 0h0m61 0h0m13 0h0m15 1h0m-95 2h0m0 0h0m1 0h0m21 0h0m21 1h0m27-1h0m0-1h0m12 0h0m-90 4h0m35-1h0m39 1h0m22-2h0m8 2h0m49-1h0m-171 2h0m14 0h0m42 0h0m8 0h0m62-1h0m53 1h0m-142 2h0m5-1h0m6 2h0m25-2h0m4 1h0m10 0h0m28 0h0m-167 2h0m162 0h0m-90 1h0m50 1h0m77 2h0m2 0h0m-140 1h0m16 1h0m82-1h0m4 2h0m6-1h0m-84 3h0m15-1h0m10 0h0m74-1h0m3 0h0m49 0h0m-145 4h0m120-1h0m-146 3h0m9 0h0m2-1h0m9 0h0m5 1h0m12-1h0m23 0h0m37 0h0m54 0h0m-197 3h0m130-1h0m0 0h0m-164 3h0m88 0h0m12-1h0m28 0h0m-110 2h0m60 0h0m9 0h0m22 0h0m22 1h0m1 0h0m95 0h0m-102 0h0m23 1h0m-114 3h0m107-1h0m12 0h0m65 0h0m-218 3h0m22-1h0m91 1h0m0-1h0m6 0h0m28-1h0m4 1h0m0 0h0m68 1h0m13-2h0m-106 3h0m7-1h0m35 0h0m-141 3h0m-13 2h0m64 0h0m16-1h0m2 2h0m2-1h0m-80 2h0m119 1h0m88 0h0m-90 3h0m-121 1h0m73 0h0m-59 3h0m11 0h0m96 1h0m-138 2h0m7 0h0m142-1h0m-122 9h0m-10 0h0m-7 3h0m18 0h0m-21 3h0m15 2h0m3-2h0m-4 7h0"/><path stroke="#F89540" d="M435 32h0m-4 7h0m28 0h0m-26 3h0m-12 3h0m53 9h0m-46 4h0m37 1h0m-30 0h0m-21 3h0m8 2h0m42 1h0m-54 4h0m2 5h0m23 0h0m11 0h0m-23 1h0m19 4h0m-61 10h0m4-2h0m-21 3h0m14 0h0m1 1h0m8-1h0m9 0h0m9-1h0m0 1h0m-21 1h0m6 1h0m21 0h0m2 0h0m-30 2h0m32 0h0m-49 3h0m4-1h0m25 0h0m10 0h0m-28 2h0m-36 2h0m42 2h0m2 1h0m1-1h0m10 0h0m25 0h0m8 0h0m10 1h0m-91 1h0m22 0h0m0-1h0m67 1h0m-78 2h0m-30 3h0m42-1h0m24 0h0m9-1h0m14 2h0m-81 1h0m1-1h0m3 2h0m7-1h0m5 1h0m8-1h0m3-1h0m2 2h0m17-1h0m13 0h0m35-1h0m17 1h0m-101 2h0m7 1h0m44-1h0m18 0h0m-82 2h0m20 0h0m4-1h0m27 0h0m13 1h0m-37 2h0m53 0h0m8 0h0m52 0h0m-116 2h0m3 0h0m10 1h0m11-1h0m2 0h0m11 0h0m6 0h0m11 0h0m17 1h0m6-1h0m-78 3h0m0-1h0m15-1h0m12 1h0m54 1h0m-82 1h0m31 1h0m4-2h0m4 0h0m12 1h0m15-1h0m12 1h0m16 1h0m-100 1h0m10-1h0m25 0h0m24 1h0m8 1h0m-83 1h0m5 0h0m8 0h0m13 0h0m1 0h0m13-1h0m16 1h0m11 0h0m14 0h0m-79 3h0m8-1h0m35 0h0m31 0h0m53 0h0m7-1h0m-129 4h0m4-1h0m11 0h0m13 0h0m1 0h0m12 0h0m1 0h0m13 0h0m60 0h0m-129 2h0m9 0h0m1 0h0m7 1h0m4-2h0m8 1h0m1-1h0m24 0h0m7 0h0m2 2h0m1-1h0m13 0h0m27-1h0m-94 3h0m19 1h0m5-1h0m8 1h0m21-2h0m60 0h0m12 2h0m-71 2h0m1-1h0m52 0h0m7-1h0m16 2h0m-138 1h0m21 1h0m10-2h0m-18 3h0m3-1h0m1 0h0m5 1h0m6-1h0m7 2h0m10-1h0m4 1h0m54-2h0m20 1h0m-100 3h0m4 0h0m25-2h0m28 1h0m19 0h0m3 0h0m-62 3h0m45-2h0m-71 3h0m1-1h0m7 1h0m6-1h0m6 0h0m2 0h0m16 1h0m9 0h0m23 0h0m4 1h0m1 0h0m2-1h0m6-1h0m8 1h0m43 0h0m-130 1h0m5 2h0m7-1h0m0 0h0m34-1h0m29 2h0m1-2h0m-49 3h0m7-1h0m2 2h0m8 0h0m24-1h0m46 0h0m-153 2h0m31 0h0m26 0h0m6-1h0m21 1h0m12 1h0m3-1h0m63 1h0m-129 2h0m10-1h0m4 0h0m0 0h0m1-1h0m13 1h0m10 0h0m3 0h0m10 0h0m21-1h0m7 2h0m-69 2h0m18-1h0m2 1h0m23-2h0m8 2h0m32 0h0m38-2h0m-139 3h0m11 0h0m1 0h0m5-1h0m10 2h0m9 0h0m-45 2h0m21-1h0m42 0h0m36 0h0m-93 3h0m9-1h0m1-1h0m13 2h0m33-1h0m14 1h0m6-2h0m56 1h0m8 1h0m10-2h0m-134 3h0m9 1h0m9-1h0m10-1h0m13 2h0m15-1h0m30 0h0m7 0h0m-137 3h0m34-1h0m21 0h0m0 0h0m4 1h0m6-1h0m2 0h0m9 0h0m7-1h0m9 1h0m27 0h0m-86 2h0m23-1h0m8 0h0m1 1h0m29-1h0m5 0h0m34 1h0m5 0h0m5 1h0m-105 2h0m1-1h0m5 0h0m7 0h0m15 0h0m5 0h0m51-1h0m3 1h0m-106 2h0m18 1h0m6 0h0m4-2h0m0 1h0m0 1h0m24-1h0m9 1h0m8-2h0m1 0h0m1 0h0m32 0h0m-74 4h0m2-1h0m8-1h0m10 0h0m1 2h0m6-1h0m19 0h0m81 0h0m3 0h0m-120 1h0m12 2h0m4-1h0m3 0h0m4 0h0m2 0h0m39 0h0m44 0h0m-160 1h0m24 2h0m17-1h0m11 1h0m6-2h0m29 2h0m1-2h0m10 0h0m19 0h0m1 2h0m23-1h0m-113 2h0m4 0h0m3 0h0m8 1h0m11-1h0m14 1h0m15-1h0m21-1h0m39 2h0m-142 1h0m46 1h0m3-2h0m38 2h0m13-1h0m75 0h0m-153 1h0m16 2h0m39-1h0m1 0h0m36-1h0m-66 4h0m6 0h0m41-1h0m-71 1h0m10 1h0m19-1h0m23 1h0m3-1h0m2 2h0m46 0h0m13-1h0m31 0h0m8 0h0m-183 2h0m62 0h0m22 0h0m10 0h0m9-1h0m35 1h0m21 0h0m16 1h0m22-1h0m-136 2h0m12 0h0m9 1h0m1-2h0m13 1h0m1-1h0m71 1h0m-138 2h0m4 0h0m12 1h0m0-1h0m13 0h0m3 0h0m32 0h0m31 0h0m-104 1h0m60 1h0m1 0h0m22 0h0m109 0h0m-157 3h0m10-2h0m23 1h0m21-1h0m68 1h0m-131 3h0m8 0h0m0-1h0m9 0h0m3 1h0m8-1h0m4-1h0m4 0h0m23 0h0m-108 2h0m55 2h0m6-2h0m2 0h0m2 1h0m7 0h0m-80 2h0m12-1h0m34 0h0m10 1h0m10-1h0m9 1h0m42 0h0m38-1h0m50 0h0m21 1h0m-227 3h0m60-2h0m9 1h0m59 0h0m-131 2h0m23 0h0m42 0h0m6 1h0m10 0h0m2 0h0m6 0h0m19 0h0m7-1h0m122 0h0m-159 2h0m5 0h0m2 1h0m27-1h0m16 0h0m8 0h0m8 0h0m6 1h0m19-1h0m53-1h0m-179 3h0m33 0h0m4 0h0m7-1h0m7 0h0m3 0h0m-28 3h0m25-1h0m1 2h0m46-1h0m12 1h0m11-2h0m-86 3h0m10 0h0m8-1h0m12 1h0m26 0h0m13-1h0m45 1h0m-185 2h0m9 0h0m83-1h0m9 1h0m7 0h0m28-1h0m12 0h0m-161 3h0m26-1h0m43 1h0m32 0h0m23 0h0m12 0h0m-125 3h0m39-2h0m54 0h0m19 1h0m15 0h0m63 1h0m-168 0h0m40 2h0m58-2h0m18 2h0m0-2h0m3 1h0m9 0h0m-159 1h0m0 1h0m9 1h0m6 0h0m3 0h0m3-1h0m0 0h0m70-1h0m7 0h0m0 1h0m3 1h0m2 0h0m20 0h0m0 0h0m53-1h0m-125 2h0m28 1h0m24-2h0m16 0h0m3 2h0m20-1h0m-146 2h0m2 1h0m18 0h0m1-2h0m34 0h0m24 1h0m10 0h0m1 0h0m6 1h0m27-1h0m10 0h0m3 1h0m0-1h0m4 1h0m19 0h0m16 0h0m0-1h0m-179 2h0m20 1h0m15 0h0m21-1h0m40-1h0m15 0h0m2 1h0m58-1h0m53 2h0m-203 1h0m6 0h0m68 1h0m4-2h0m7 0h0m34 0h0m8 2h0m2 0h0m2 0h0m4-1h0m-153 1h0m1 2h0m15-1h0m19 0h0m47 0h0m171-1h0m-255 3h0m24 0h0m8 0h0m10-1h0m9 2h0m4-1h0m55-1h0m21 1h0m2 0h0m5-1h0m62 2h0m37 0h0m-110 0h0m106 2h0m-224 0h0m3 1h0m18-1h0m7 0h0m28 0h0m19 1h0m38 0h0m1 1h0m11-1h0m113 0h0m11 0h0m-255 1h0m126 2h0m8-2h0m6 0h0m-120 4h0m4-2h0m1 0h0m1 0h0m6 1h0m188 1h0m-221 1h0m17 0h0m54 0h0m34-1h0m1 2h0m11-1h0m15 0h0m12 1h0m0-2h0m73 1h0m16 0h0m14-1h0m-235 3h0m2 0h0m13 0h0m5 0h0m76 1h0m9-1h0m-105 2h0m2 1h0m1-2h0m71 1h0m8 1h0m24-1h0m-116 2h0m1 0h0m21 0h0m64 0h0m18 1h0m-99 1h0m2 0h0m84 0h0m27-1h0m9 1h0m-123 2h0m12 1h0m83-1h0m9 0h0m19-1h0m-128 3h0m101 0h0m11-1h0m24 1h0m-141 2h0m6-1h0m1 0h0m17 0h0m7 2h0m10-2h0m48 0h0m17 2h0m16-1h0m-119 1h0m14 2h0m3-1h0m0-1h0m12 1h0m73-1h0m35 2h0m-131 1h0m11 1h0m11 3h0m93 1h0m-105 0h0m6 1h0m-17 3h0m7 2h0m2 0h0m3 1h0m4-1h0m0 2h0m2 0h0m-16 3h0m7-1h0m-4 8h0m7-1h0"/><path stroke="#F0F921" d="M464 51h0m-33 4h0m27 1h0m-10 10h0m-41 9h0m46 7h0m-77 9h0m36 3h0m-36 5h0m23 1h0m-59 3h0m-1 0h0m23 2h0m45-2h0m-81 7h0m43 2h0m63 0h0m26 1h0m-106 2h0m12 1h0m49-1h0m-72 6h0m2 2h0m42-1h0m-42 1h0m37 2h0m21-2h0m-49 4h0m38 1h0m-55 1h0m62 1h0m56-1h0m14 2h0m-104 1h0m4 0h0m7 0h0m-35 2h0m34 3h0m23 0h0m28-1h0m32 0h0m-25 5h0m-52 2h0m-49 3h0m117 2h0m-98 3h0m35 0h0m39-1h0m-61 2h0m29 0h0m-20 1h0m45 2h0m-63 2h0m17 0h0m35 2h0m-64 2h0m7-2h0m13 1h0m5-1h0m61 1h0m-69 3h0m40-1h0m22-1h0m-81 2h0m1 2h0m74-1h0m-58 2h0m0 0h0m6-1h0m6 1h0m56-1h0m-94 3h0m7-1h0m25 1h0m14 0h0m24 1h0m-54 1h0m16 0h0m35 1h0m2 1h0m43 0h0m41 0h0m-139 3h0m37-2h0m3 1h0m-44 3h0m23-1h0m-17 1h0m17 1h0m2 0h0m-32 3h0m56-1h0m21 0h0m14 0h0m-114 2h0m83 1h0m84 0h0m0-1h0m-131 2h0m27 0h0m-5 1h0m19 0h0m-38 2h0m14 1h0m76 1h0m-97 1h0m17-1h0m28 1h0m20 0h0m10 0h0m-59 2h0m52-1h0m11 0h0m-84 4h0m26-1h0m3 1h0m25 1h0m6-1h0m-44 3h0m6 0h0m27 0h0m-21 3h0m22 1h0m2 0h0m-8 4h0m3 1h0m4-2h0m6 2h0m17-1h0m10 0h0m-34 5h0m29-2h0m10 1h0m-47 1h0m116 0h0m-185 2h0m49 0h0m16 2h0m47 0h0m62-2h0m-17 4h0m-99 1h0m18 0h0m81-1h0m-119 4h0m78-1h0m27 1h0m-92 1h0m9-1h0m34 0h0m12 3h0m14 0h0m-38 2h0m39-1h0m-103 3h0m79-1h0m-30 2h0m55 1h0m4 0h0m77 0h0m-104 2h0m0 0h0m3 0h0m-34 3h0m34 0h0m91 0h0m-61 3h0m18 0h0m-81 3h0m30-2h0m12 0h0m1 1h0m-42 1h0m110 2h0m-91 2h0m8 1h0m-119 3h0m114 3h0m-29 2h0m29 0h0m-24 4h0m5 0h0m32-1h0m-16 8h0m-109 1h0m21 7h0"/><path stroke="#BEBEBE" d="M432 33h0m4 2h0m11-2h0m-23 4h0m14-1h0m8 1h0m6 0h0m-1 2h0m-26 3h0m1 0h0m0 0h0m19 1h0m3-1h0m8 0h0m-22 3h0m5 0h0m7 0h0m3 0h0m14-1h0m-29 3h0m1 0h0m15-1h0m4 0h0m5 1h0m8-1h0m-40 2h0m6 1h0m3-1h0m4 0h0m2 0h0m8 0h0m0 1h0m1-1h0m9 0h0m4-1h0m-28 2h0m5 0h0m22 2h0m3-2h0m-36 2h0m14 2h0m17 0h0m-42 0h0m5 0h0m12 2h0m1-1h0m3 1h0m6-2h0m13 0h0m-17 3h0m11 0h0m3 0h0m3 0h0m-33 3h0m12-2h0m5 0h0m-26 2h0m13 2h0m12-2h0m5 2h0m16-2h0m1 2h0m3-2h0m1 0h0m2 1h0m2 0h0m-54 2h0m28 1h0m3-1h0m6-1h0m-41 3h0m9 0h0m1 0h0m17 1h0m12-1h0m-15 3h0m6 0h0m0-1h0m13 1h0m-34 1h0m4 0h0m25 0h0m2 0h0m10 1h0m5-1h0m-46 3h0m1-1h0m0-1h0m7 1h0m23 0h0m1-1h0m10 2h0m4-1h0m-55 1h0m14 0h0m7 1h0m13 1h0m14-1h0m-32 3h0m6-2h0m27 0h0m1 0h0m0 2h0m-42 0h0m22 1h0m7 0h0m3 0h0m1 0h0m1 0h0m-39 4h0m43 1h0m0 0h0m6-2h0m-23 3h0m8 0h0m1 0h0m2-1h0m6 1h0m6 0h0m-48 3h0m28-1h0m12 0h0m12-1h0m-24 3h0m6 0h0m2 0h0m11 0h0m-42 1h0m4 2h0m13 0h0m-8 2h0m17 0h0m6-1h0m-37 2h0m6-1h0m26 0h0m-34 3h0m37 0h0m18-1h0m-126 2h0m38 1h0m63 0h0m6 0h0m6 1h0m28-2h0m-111 3h0m11-1h0m7 1h0m62 0h0m-108 1h0m103 1h0m11 0h0m-116 1h0m125 0h0m8 1h0m-146 3h0m32-1h0m22-1h0m20 2h0m36 0h0m28-2h0m12 0h0m-125 3h0m108 0h0m4 0h0m-127 2h0m93 0h0m58 0h0m-63 3h0m29-1h0m-120 3h0m32-2h0m47 1h0m28 1h0m0 0h0m20-1h0m13-1h0m-25 2h0m-59 3h0m39-1h0m-97 2h0m4 1h0m27 1h0m12-2h0m86 2h0m34-1h0m-127 3h0m32-1h0m96-1h0m4 0h0m-154 3h0m48-1h0m8 0h0m10 0h0m16 0h0m-102 4h0m89-2h0m1 1h0m33 0h0m17 0h0m-119 3h0m3 0h0m53-2h0m64 1h0m-113 2h0m82 0h0m10 1h0m-98 1h0m17 0h0m2 1h0m70-1h0m33 1h0m25-1h0m-169 3h0m48-2h0m46 1h0m3 1h0m77-2h0m-129 2h0m5 2h0m1-1h0m61-1h0m-51 2h0m53 1h0m-114 3h0m89-2h0m17 1h0m0 0h0m-83 2h0m26 0h0m10-1h0m47 2h0m25-1h0m10 0h0m1 0h0m8 0h0m-134 1h0m19 0h0m16 1h0m25-1h0m64 2h0m4-1h0m10 0h0m-56 2h0m4-1h0m9 1h0m23 0h0m16 0h0m-107 1h0m3 2h0m6-1h0m24-1h0m44 1h0m9 0h0m-112 2h0m20-1h0m30 2h0m32-2h0m18 1h0m-30 1h0m12 1h0m33-1h0m-57 3h0m38 0h0m26 0h0m-101 1h0m12 2h0m-68 2h0m51 0h0m57-1h0m11 0h0m-62 1h0m8 1h0m9 0h0m0-1h0m23 0h0m-53 2h0m40 2h0m72-2h0m6 0h0m9 2h0m-174 2h0m64-1h0m48-1h0m27 1h0m-140 2h0m77-1h0m67 1h0m7 1h0m3 0h0m-118 1h0m74 0h0m16 1h0m1 0h0m-119 1h0m102-1h0m4 2h0m44-2h0m-81 4h0m65-2h0m8 1h0m4 1h0m-138 1h0m42-1h0m39 1h0m7 0h0m22 0h0m9 0h0m13 0h0m19 0h0m-171 1h0m70 2h0m28 0h0m21-2h0m-109 3h0m73 0h0m45 0h0m10 1h0m-131 1h0m28-1h0m1 2h0m-35 1h0m34 1h0m142-2h0m-129 3h0m30-1h0m67 2h0m33 0h0m-161 1h0m38 0h0m60 0h0m71 0h0m5 1h0m-192 1h0m18 0h0m24 0h0m51 0h0m7 0h0m2 0h0m11 0h0m65-1h0m-71 2h0m24 2h0m17-2h0m7 1h0m11 0h0m9 1h0m6-1h0m-119 2h0m18 0h0m37 1h0m14 0h0m15-1h0m15 1h0m11-1h0m-120 1h0m17 1h0m68 0h0m27 0h0m-72 2h0m13-1h0m95 1h0m-80 1h0m16 1h0m-147 2h0m0 0h0m124 1h0m33-1h0m1-1h0m22 2h0m18 0h0m-195 2h0m17-1h0m4 0h0m135 0h0m41 0h0m-194 2h0m151-1h0m50 1h0m2 0h0m-212 3h0m11 0h0m6-2h0m19 1h0m32 0h0m63 1h0m19-2h0m19 1h0m28 0h0m1 0h0m-197 2h0m5 0h0m22 0h0m10 0h0m150 1h0m28 0h0m12 0h0m-227 2h0m3-2h0m18 2h0m12-1h0m16-1h0m48 1h0m15 1h0m53 0h0m3-1h0m57 1h0m-214 0h0m53 0h0m76 1h0m26-1h0m14 1h0m-185 5h0m19-1h0m3 0h0m24 0h0m49-1h0m57 1h0m2 0h0m14-1h0m22 1h0m3 0h0m11-1h0m15 1h0m-211 1h0m12 1h0m8 0h0m10 0h0m30 0h0m13 0h0m67-1h0m26 1h0m2 0h0m3-1h0m1 0h0m9 1h0m6 0h0m23 1h0m-221 2h0m6-2h0m18 1h0m0 1h0m8 0h0m63 0h0m22-1h0m50 0h0m10 0h0m5-1h0m29 1h0m8 1h0m2-2h0m-219 3h0m4 0h0m1-1h0m19 1h0m57 0h0m49 0h0m21 0h0m14-1h0m2 1h0m-172 3h0m6-1h0m6 0h0m11-1h0m5 1h0m40 0h0m6-1h0m39 2h0m62-1h0m12 0h0m4 1h0m42-1h0m-221 2h0m2-1h0m3 1h0m20 1h0m30-2h0m63 2h0m10-1h0m52-1h0m60 0h0m1 1h0m-230 2h0m6 1h0m6-1h0m6 0h0m66 1h0m106-1h0m7 0h0m24 1h0m-239 1h0m19-1h0m6 0h0m45 1h0m3-1h0m116 1h0m1 0h0m46-1h0m9 0h0m1 1h0m-253 1h0m65 2h0m54-1h0m21 0h0m86 0h0m13-1h0m2 0h0m12 2h0m7-2h0m-231 4h0m25-1h0m81 0h0m66-1h0m7 0h0m33 1h0m8-1h0m-240 3h0m9-1h0m5 2h0m7-1h0m1-1h0m3 1h0m1 0h0m3 0h0m3 0h0m83 0h0m16 0h0m15 1h0m53-1h0m2 1h0m-203 1h0m23 1h0m80 0h0m1 0h0m1-1h0m12 0h0m9 0h0m11 0h0m-112 2h0m2 0h0m58-1h0m3 1h0m8 1h0m6-2h0m15 2h0m6 0h0m25-1h0m65 0h0m7 1h0m11 0h0m3-2h0m9 2h0m-214 1h0m4 0h0m55 0h0m1 1h0m3-2h0m2 0h0m3 1h0m2 1h0m12-1h0m8 0h0m5 1h0m8 0h0m3 0h0m11-1h0m-145 2h0m23 1h0m96 0h0m12 0h0m1-2h0m0 0h0m12 1h0m5 1h0m5-1h0m44-1h0m44 2h0m-168 2h0m14-1h0m11 0h0m0-1h0m21 1h0m39 0h0m-160 3h0m3 0h0m96-1h0m20 0h0m6 0h0m7 0h0m17 0h0m-138 1h0m0 1h0m94-1h0m17 0h0m14 1h0m14 0h0m-146 3h0m4 0h0m8-1h0m90 0h0m6 0h0m10-1h0m6 1h0m21 0h0m5 0h0m77 0h0m-136 1h0m5 1h0m8 0h0m0 0h0m35 0h0m-144 1h0m9 0h0m114 0h0m3 1h0m1 0h0m-100 2h0m50 0h0m33 0h0m9 0h0m-100 2h0m78 1h0m5-1h0m1-1h0m0 0h0m29 0h0m8 1h0m-120 2h0m68 1h0m3 0h0m20-2h0m25 0h0m2 1h0m-40 1h0m1 0h0m20 2h0m5 0h0m12-1h0m-138 2h0m27-1h0m81 2h0m10-2h0m14 2h0m-135 0h0m26 1h0m4 0h0m86 1h0m5-2h0m15 0h0m-127 3h0m103-1h0m14 2h0m-104 3h0m3 0h0m93 0h0m-90 1h0m-13 2h0m4 4h0m-2 2h0m-8 10h0"/><path stroke="#0D0887" d="M446 34h0m5 5h0m11 3h0m-44 7h0m20-1h0m-15 2h0m0 2h0m44 6h0m-35 1h0m-31 9h0m16 3h0m17-1h0m17 2h0m-41 1h0m1 5h0m44 0h0m-52 1h0m17 1h0m3 1h0m-9 1h0m27 0h0m4-1h0m22 0h0m-65 3h0m14 0h0m4 0h0m4-1h0m3 1h0m2 0h0m31 0h0m-52 2h0m-28 1h0m9 2h0m10 0h0m33 0h0m-66 2h0m5-2h0m34 0h0m11 1h0m50 0h0m4 0h0m-120 2h0m16 0h0m10 0h0m0 1h0m15-1h0m3-1h0m10 1h0m61 0h0m-74 3h0m3-1h0m27 0h0m50-1h0m10 1h0m-120 2h0m3 0h0m23 1h0m7-2h0m51 2h0m1-1h0m27-1h0m-128 4h0m1 0h0m2 0h0m3-1h0m5-1h0m5 2h0m6-1h0m1-1h0m12 0h0m5 2h0m7-1h0m5 1h0m5 0h0m12-2h0m1 1h0m3 1h0m1-1h0m8 1h0m20-1h0m8-1h0m11 0h0m21 2h0m-132 1h0m23-1h0m22 1h0m0 0h0m16 0h0m5 1h0m-71 0h0m4 1h0m3 0h0m31 0h0m7 1h0m1-1h0m14 0h0m8 0h0m-86 1h0m0 1h0m28 1h0m14-2h0m14 2h0m2-2h0m6 2h0m10-2h0m24 0h0m31 2h0m21 0h0m-151 1h0m21 0h0m18 0h0m30-1h0m6 2h0m1-1h0m19 0h0m10 0h0m15-1h0m26 1h0m-142 2h0m3 1h0m68-1h0m5 0h0m6-1h0m9 1h0m37 0h0m9-1h0m-136 3h0m23 0h0m5 0h0m4 0h0m17 0h0m43 0h0m14 0h0m2 0h0m6-1h0m-98 3h0m30 0h0m2 1h0m25 0h0m0-1h0m21 1h0m22-1h0m36 1h0m-157 2h0m7-1h0m7 0h0m22 1h0m20-2h0m23 0h0m28 1h0m-108 2h0m2-1h0m16 0h0m3 1h0m4 0h0m13 0h0m16 1h0m26 0h0m9 0h0m9-1h0m9 0h0m1 0h0m29-1h0m24 1h0m-161 1h0m16 2h0m33-2h0m3 1h0m22 0h0m2 0h0m1 0h0m3-1h0m4 1h0m3 0h0m10-1h0m2 1h0m5 0h0m-99 2h0m0 1h0m6-2h0m9 2h0m14 0h0m32 0h0m17 0h0m33-1h0m22 1h0m-133 0h0m11 1h0m3 0h0m2 1h0m17-1h0m23 0h0m8 0h0m9 0h0m3 0h0m10 0h0m18 0h0m2 1h0m9 0h0m4 0h0m22-2h0m-128 3h0m11 0h0m4 0h0m41 0h0m7-1h0m8 1h0m0 0h0m13 0h0m14 1h0m8-1h0m7 0h0m14 0h0m-134 1h0m3 1h0m6 0h0m19 0h0m12 1h0m12-1h0m4 0h0m8-1h0m18 0h0m4 1h0m11 0h0m11 0h0m8 0h0m13 0h0m18 1h0m-154 0h0m6 0h0m14 2h0m8 0h0m6-1h0m35 0h0m2 0h0m15-1h0m4 1h0m8 1h0m16-2h0m18 1h0m-136 1h0m9 2h0m5-1h0m3 0h0m35 0h0m7-1h0m3 1h0m24 0h0m7 0h0m2 1h0m25-2h0m2 0h0m14 0h0m1 1h0m-125 2h0m25 0h0m3 0h0m24 1h0m37-1h0m1 0h0m11 0h0m23 1h0m14 0h0m-150 1h0m9 0h0m35 1h0m24-1h0m49-1h0m9 1h0m11-1h0m3 1h0m2 0h0m1-1h0m-146 3h0m21-1h0m17 2h0m25-1h0m11 0h0m4-1h0m18 1h0m15-1h0m17 1h0m11 0h0m4 0h0m4-1h0m0 2h0m4-1h0m-147 2h0m8 1h0m1-1h0m10 0h0m5 1h0m25 0h0m3-1h0m33 0h0m1-1h0m21 1h0m15-1h0m18 2h0m0-1h0m5 0h0m-132 2h0m18 0h0m4 0h0m14 1h0m40-1h0m14 0h0m9 0h0m4 0h0m5 0h0m6 1h0m0 0h0m1-1h0m4-1h0m21 1h0m10-1h0m5 1h0m-163 2h0m8 0h0m12 1h0m32 0h0m12-1h0m17 0h0m32 1h0m-123 0h0m2 1h0m5-1h0m8 1h0m44 0h0m34 0h0m6-1h0m7 2h0m4 0h0m11-2h0m12 1h0m5 0h0m17 0h0m-153 2h0m0 0h0m32 0h0m42 1h0m7 0h0m15 0h0m13-2h0m2 1h0m11 0h0m8 0h0m1 1h0m10-2h0m2 2h0m5 0h0m1-2h0m2 1h0m-149 2h0m21 0h0m20 0h0m12 1h0m8-1h0m7 0h0m13-1h0m2 0h0m2 1h0m2-1h0m21 1h0m2 1h0m12 0h0m29-1h0m0 0h0m-133 2h0m25-1h0m0 0h0m11 2h0m24-1h0m2 0h0m8-1h0m7 2h0m4-1h0m12 0h0m11 0h0m4 1h0m25 0h0m0-1h0m-158 1h0m1 2h0m4-2h0m7 2h0m22-2h0m5 1h0m7 0h0m6 0h0m18-1h0m6 1h0m11 0h0m4-1h0m4 2h0m1-1h0m7-1h0m15 1h0m1 0h0m4 0h0m2 1h0m17-1h0m2 0h0m10 1h0m-156 1h0m3 1h0m9-2h0m11 1h0m41 1h0m18-1h0m35 0h0m2 1h0m11-2h0m0 2h0m0-1h0m8 0h0m7 0h0m5 0h0m8 1h0m-153 1h0m34-1h0m17 1h0m4 0h0m13 0h0m13-1h0m4 0h0m13 2h0m3-2h0m6 0h0m2 1h0m2 0h0m17 0h0m12-1h0m2 0h0m6 0h0m4 0h0m-101 3h0m14-1h0m14 2h0m13-2h0m17 1h0m7-1h0m7 1h0m0 0h0m15 0h0m5 0h0m14 0h0m-106 2h0m5-1h0m33 2h0m7-2h0m0 2h0m9-2h0m8 1h0m10 1h0m2-2h0m2 1h0m1 1h0m3-2h0m1 1h0m1-1h0m7 2h0m5-2h0m-160 3h0m86 1h0m31-2h0m7 1h0m25-1h0m5 1h0m3 0h0m8-1h0m5 2h0m-175 1h0m18 1h0m15-2h0m16 2h0m42-1h0m17 1h0m3-1h0m6-1h0m13 1h0m0 0h0m5-1h0m3 1h0m4-1h0m16 1h0m11-1h0m5 0h0m-148 3h0m2 1h0m20-1h0m52 1h0m14-1h0m15 1h0m4-1h0m13 0h0m13 1h0m1-1h0m2-1h0m1 2h0m1-1h0m3 0h0m3-1h0m0 0h0m3 1h0m-135 2h0m13 0h0m15 1h0m2 0h0m35-2h0m1 2h0m16-1h0m21 0h0m9 0h0m0 1h0m3-1h0m15 0h0m-140 2h0m62 0h0m1 1h0m3 0h0m33-1h0m3 0h0m9 0h0m19 0h0m-129 2h0m8 0h0m2 0h0m30-1h0m6 0h0m17 2h0m12-1h0m1 0h0m6 1h0m5 0h0m10-1h0m14 1h0m8-2h0m12 0h0m10 1h0m1 1h0m5-1h0m-80 3h0m9-1h0m5 0h0m13 0h0m9-1h0m6 1h0m8 0h0m10-1h0m1 1h0m3 0h0m18 0h0m-154 2h0m4-1h0m22 1h0m24 0h0m27 1h0m4-1h0m2 0h0m11 1h0m11-1h0m40-1h0m-106 4h0m28-1h0m2 0h0m1-1h0m2 0h0m6 2h0m16-1h0m27 0h0m26 1h0m7 0h0m-154 2h0m1-1h0m21 1h0m32-1h0m8 1h0m3-1h0m13 0h0m28 0h0m22 0h0m2 0h0m7-1h0m3 0h0m6 1h0m8-1h0m-151 4h0m4-1h0m22-1h0m10 0h0m9 1h0m7 0h0m15 1h0m4-1h0m2 0h0m3-1h0m18 1h0m11-1h0m8 2h0m7-1h0m1 0h0m22-1h0m-167 3h0m23 0h0m39 1h0m4-2h0m37 1h0m10 0h0m5 0h0m6 0h0m7-1h0m8 1h0m7 1h0m1-2h0m17 1h0m-162 1h0m21 1h0m12-1h0m9 1h0m52 0h0m2 0h0m5 0h0m3 0h0m0 1h0m2 0h0m8-2h0m20 1h0m1 0h0m26 0h0m13-1h0m3 1h0m-140 2h0m8 1h0m46-1h0m4 1h0m2-2h0m8 0h0m1 1h0m5-1h0m1 1h0m42-1h0m1 2h0m9 0h0m8-1h0m-166 2h0m55 0h0m3 0h0m38 0h0m6-1h0m0 0h0m36 0h0m8 0h0m5 1h0m6 0h0m1 0h0m7 0h0m6-1h0m-176 2h0m38 0h0m40 2h0m4-1h0m3 1h0m1 0h0m9-1h0m4 1h0m4 0h0m3 0h0m2 0h0m4-1h0m4 0h0m0 0h0m17 0h0m2 1h0m1-2h0m5 2h0m3-2h0m20 2h0m8-1h0m-162 2h0m36 1h0m12-1h0m0 1h0m8-2h0m11 0h0m29 1h0m9 0h0m1 1h0m0-1h0m1 1h0m10-1h0m7-1h0m1 0h0m21 1h0m0 0h0m1 1h0m2 0h0m8-1h0m20-1h0m-171 2h0m32 1h0m12 0h0m50 1h0m1 0h0m7-1h0m13 0h0m34-1h0m2 1h0m1 0h0m4 0h0m3 0h0m0-1h0m2 1h0m7 0h0m2-1h0m4 2h0m-187 1h0m3 0h0m6 0h0m16 0h0m2 1h0m16-1h0m14 0h0m4 0h0m16-1h0m0 1h0m17 1h0m7-2h0m1 1h0m5 1h0m10-1h0m16 0h0m0 0h0m15 1h0m6-2h0m25 1h0m-173 1h0m22 0h0m5 0h0m14 0h0m23 0h0m26 1h0m13 1h0m3-1h0m12-1h0m4 0h0m27 1h0m9 1h0m16 0h0m12-1h0m9 1h0m-174 2h0m11-1h0m7-1h0m38 2h0m2-2h0m5 1h0m12 0h0m1-1h0m13 1h0m2-1h0m2 0h0m23 2h0m2-2h0m24 0h0m3 1h0m4 1h0m0-2h0m4 1h0m15-1h0m9 0h0m6 0h0m-165 2h0m66 2h0m5-1h0m0 1h0m11-1h0m5 0h0m4-1h0m18 0h0m4 0h0m4 1h0m11 0h0m1 1h0m10-2h0m5 1h0m12 0h0m-217 1h0m123 1h0m1 1h0m1-2h0m3 1h0m6 0h0m2 0h0m10 0h0m19 0h0m36 0h0m17 0h0m-118 3h0m13-1h0m37-1h0m11 1h0m1-1h0m6 0h0m3 1h0m5-1h0m24 2h0m1-2h0m4 1h0m4 1h0m13-1h0m-220 3h0m7-1h0m63-1h0m15 1h0m2 1h0m9-1h0m13 1h0m3-2h0m17 0h0m2 2h0m8-1h0m2 0h0m8 0h0m8 1h0m6 0h0m4-2h0m4 2h0m18-1h0m16 0h0m3 0h0m4 1h0m-215 2h0m90 0h0m27-1h0m4 0h0m10-1h0m16 2h0m38-1h0m5-1h0m2 2h0m16 0h0m8-2h0m-231 3h0m18-1h0m57 2h0m27-1h0m1 0h0m0 0h0m33 0h0m11 1h0m6 0h0m5-1h0m4 0h0m28 1h0m15-1h0m1 1h0m4-1h0m9 1h0m2-2h0m2 1h0m4 1h0m6-1h0m2 0h0m2 0h0m-233 1h0m13 0h0m91 0h0m10 1h0m17 0h0m12 1h0m5-1h0m0-1h0m8 0h0m4 1h0m12 0h0m2 0h0m5 0h0m2 1h0m2 0h0m9-1h0m2-1h0m27 1h0m1-1h0m12 0h0m-214 2h0m46 0h0m76 1h0m19 1h0m3-1h0m1 1h0m14-1h0m1 1h0m8 0h0m3-1h0m9 0h0m0 1h0m3-2h0m14 1h0m17 1h0m-238 1h0m66-1h0m18 2h0m46-1h0m20 0h0m8 1h0m3-1h0m4 1h0m2-2h0m10 1h0m16 0h0m2 0h0m8-1h0m19 0h0m19 1h0m-137 3h0m7 0h0m10 0h0m4-2h0m2 1h0m14 0h0m1 1h0m13-1h0m16 0h0m9 0h0m3 1h0m2-1h0m7-1h0m6 0h0m10 0h0m4 2h0m18 0h0m-209 1h0m60 0h0m11 1h0m29-2h0m5 0h0m0 1h0m1-1h0m3 0h0m19 1h0m18 0h0m8 0h0m4-1h0m2 0h0m10 2h0m5-1h0m3 0h0m18 0h0m11-1h0m4 2h0m3-1h0m1 1h0m12 0h0m-248 1h0m103 0h0m6 0h0m1 0h0m11 1h0m18-1h0m6 0h0m7 1h0m12-2h0m18 1h0m21 0h0m9 0h0m4 1h0m11 0h0m23 0h0m-233 2h0m25 0h0m28-1h0m16-1h0m15 0h0m14 1h0m39 1h0m8-1h0m2 0h0m1 1h0m8 0h0m21-1h0m15-1h0m0 0h0m2 1h0m8-1h0m15 1h0m5 0h0m-169 1h0m11 1h0m7 0h0m15 1h0m5-1h0m13 0h0m31 0h0m18 1h0m20-1h0m6 0h0m12 0h0m9 0h0m4 1h0m10-1h0m2 0h0m3 1h0m3-2h0m-190 4h0m1-2h0m70 0h0m24 2h0m2-1h0m0 1h0m15 0h0m52 0h0m8 0h0m6-1h0m1 0h0m5 0h0m-225 2h0m7-1h0m43 0h0m12 1h0m75-1h0m14 2h0m1 0h0m5-2h0m2 1h0m3 1h0m1-2h0m16 1h0m4 1h0m8-1h0m10-1h0m3 0h0m16 0h0m4 1h0m8 1h0m-112 1h0m29 0h0m9-1h0m17 0h0m2 1h0m0 0h0m15 0h0m1 1h0m0 0h0m4-2h0m16 1h0m2 0h0m3 0h0m-188 2h0m122-1h0m27 2h0m11 0h0m10-1h0m22 1h0m15-1h0m-226 2h0m145-1h0m2 0h0m7 1h0m28 1h0m7-1h0m10 1h0m19-1h0m-154 2h0m78 0h0m44-1h0m13 2h0m4 0h0m2-1h0m10 1h0m-233 2h0m120-1h0m88 1h0m7-1h0m17-1h0m4 2h0m7-2h0m3 1h0m3-1h0m-225 3h0m95 0h0m121 1h0m-246 1h0m118-1h0m17 0h0m18 1h0m73 1h0m3-1h0m1-1h0m5 3h0m1-1h0m4 1h0m2 1h0m2-1h0m-240 2h0m14-1h0m0 0h0m55 0h0m157 2h0m6-1h0m-135 2h0m133-1h0m-156 6h0m49 3h0m-108 3h0m11-2h0m-22 4h0m28-1h0m-20 2h0m18 0h0m-4 6h0m-24 4h0m9 6h0m4 0h0m-4 2h0m5-1h0m1 6h0"/><path stroke="#7E03A8" d="M435 31h0m-3 7h0m11 3h0m-10 2h0m0-2h0m-7 2h0m-1 4h0m37 1h0m-4 3h0m-27 1h0m-16 4h0m22 0h0m7 1h0m22 2h0m-9 1h0m-32 1h0m-10 6h0m7 1h0m3 1h0m27 2h0m14 1h0m-43 1h0m24 2h0m5 0h0m-13 2h0m-19 4h0m46-1h0m5 0h0m-74 2h0m30 0h0m-28 1h0m5 2h0m-11 2h0m9-1h0m11 1h0m10 0h0m-25 1h0m-22 3h0m3-1h0m7 0h0m24 0h0m-36 2h0m0 0h0m16-1h0m18 0h0m20 1h0m6 0h0m-68 3h0m8-1h0m4 0h0m17-1h0m2 0h0m13 1h0m49 0h0m-88 1h0m9 0h0m6 1h0m2 1h0m2 0h0m9-1h0m-56 3h0m24-1h0m13 0h0m2-1h0m22 1h0m1 1h0m11-1h0m-65 2h0m14 0h0m31 1h0m10-2h0m12 2h0m-68 0h0m21 1h0m2 0h0m15 0h0m28 0h0m1 0h0m-79 1h0m10 1h0m33 1h0m15 0h0m16-1h0m51-1h0m8 2h0m-118 1h0m22-1h0m31 1h0m1 0h0m0 0h0m14 0h0m17-1h0m32 0h0m-129 4h0m10-1h0m12 0h0m1-1h0m1 0h0m5 1h0m2 0h0m11 0h0m5 1h0m0 0h0m9-2h0m0 2h0m4-2h0m21 2h0m-93 0h0m11 2h0m2-2h0m25 1h0m52 0h0m2 0h0m5 0h0m43 0h0m22 0h0m-156 2h0m3-1h0m12 2h0m9-1h0m20 0h0m47 0h0m7 0h0m2 0h0m36-1h0m26 0h0m-151 2h0m6 1h0m22 0h0m3 1h0m5-1h0m8 0h0m6 0h0m7-1h0m19 2h0m3-1h0m0-1h0m23 0h0m-121 3h0m3 1h0m9-2h0m5 1h0m1 0h0m2-1h0m2 1h0m38 0h0m4 0h0m3 0h0m14 0h0m0 0h0m24-1h0m3 0h0m18 2h0m23-1h0m-146 2h0m7 1h0m18-1h0m10-1h0m4 0h0m7 2h0m7-1h0m2 0h0m6 0h0m0-1h0m10 2h0m3-2h0m15 1h0m15 1h0m10-1h0m2 0h0m6 0h0m-98 2h0m3 0h0m1 0h0m15-1h0m6 1h0m24 0h0m9 1h0m15-2h0m10 1h0m6-1h0m6 2h0m4 0h0m3-2h0m2 0h0m-123 3h0m32-1h0m8 2h0m15-2h0m13 1h0m3-1h0m5 2h0m7-1h0m2 0h0m9 0h0m16-1h0m15 2h0m19-1h0m-142 1h0m7 0h0m11 1h0m11-1h0m18 1h0m5 1h0m1-2h0m1 1h0m15 1h0m10-1h0m12 0h0m0-1h0m8 1h0m-78 2h0m10 1h0m11-2h0m5 1h0m13 0h0m21 0h0m16 0h0m37 0h0m14 1h0m-143 1h0m1-1h0m6 1h0m1 0h0m2 0h0m31-1h0m5 1h0m31 0h0m2 0h0m9-1h0m6 0h0m7 1h0m7 0h0m2 0h0m4 0h0m14 0h0m2-1h0m8 1h0m-144 2h0m12 1h0m5-1h0m10 1h0m5-2h0m17 1h0m11 0h0m9 0h0m5-1h0m8 1h0m25 1h0m12-2h0m6 1h0m9 0h0m26 0h0m-146 3h0m30-1h0m14 1h0m4-2h0m14 2h0m9-1h0m5 0h0m1-1h0m4 2h0m1-1h0m4 1h0m3-1h0m6-1h0m14 1h0m-138 3h0m27-1h0m21 0h0m11 0h0m9-1h0m16 0h0m13 1h0m4 0h0m1 1h0m2-2h0m1 2h0m6-1h0m4 1h0m0-1h0m2-1h0m29 1h0m-139 1h0m47 0h0m19 1h0m13 0h0m12-1h0m12 1h0m14-1h0m8 2h0m23 0h0m-142 1h0m15 0h0m6 0h0m2 0h0m9 0h0m3-1h0m13 1h0m58 1h0m21-1h0m0 0h0m4 1h0m11-1h0m-150 2h0m35 0h0m21-1h0m15 1h0m4 0h0m2-1h0m6 1h0m19-1h0m25 0h0m2 2h0m3-1h0m12 1h0m14 0h0m-158 2h0m0-2h0m19 0h0m14 0h0m21 1h0m10 0h0m11 0h0m3-1h0m31 2h0m18-2h0m2 1h0m23 0h0m7 1h0m-151 0h0m10 1h0m9 0h0m3-1h0m50 1h0m8-1h0m12 1h0m1-1h0m3 0h0m2 1h0m14 0h0m37 1h0m1-1h0m4 1h0m-164 1h0m39 0h0m17-1h0m7 2h0m9 0h0m0-1h0m1 1h0m4-1h0m7 1h0m10-1h0m18-1h0m2 2h0m16-2h0m7 1h0m11-1h0m-164 2h0m18 2h0m13 0h0m39-1h0m13 1h0m6-1h0m1 1h0m17-2h0m7 2h0m7-2h0m2 2h0m9-2h0m5 1h0m23 0h0m1 1h0m8 0h0m-108 2h0m6-2h0m34 2h0m4-1h0m11-1h0m10 2h0m2-1h0m2 0h0m6 1h0m21 0h0m6-1h0m9-1h0m-157 3h0m14 1h0m33-1h0m10 0h0m0 0h0m0 0h0m15 0h0m1 0h0m15 1h0m5 0h0m12-1h0m15 0h0m33 1h0m11-1h0m-133 3h0m18-1h0m20 0h0m8 1h0m2-1h0m4 0h0m9 1h0m7-1h0m6 1h0m17-1h0m8 0h0m4 0h0m12-1h0m1 0h0m-160 4h0m17 0h0m4-1h0m2 1h0m0-2h0m41 1h0m18 1h0m15-1h0m1 0h0m3 1h0m4-1h0m1 0h0m36 0h0m24 1h0m-151 1h0m0 0h0m10 1h0m22 0h0m3-2h0m6 0h0m9 2h0m5-2h0m81 0h0m2 1h0m0 0h0m7 0h0m-139 2h0m21-1h0m39 1h0m7-1h0m10 0h0m4 1h0m9 0h0m5-1h0m14 1h0m12 1h0m-121 1h0m20-1h0m23 0h0m22 1h0m34-1h0m24 0h0m24 2h0m3-2h0m-161 3h0m23-1h0m16 1h0m19 1h0m11-2h0m9 1h0m12 0h0m27 0h0m4-1h0m12 1h0m13 0h0m7 1h0m2-1h0m0 1h0m13-1h0m-177 3h0m17 0h0m1-1h0m9 1h0m14-2h0m23 1h0m11-1h0m2 0h0m16 2h0m14-1h0m6 0h0m12 1h0m3-1h0m3 0h0m13 1h0m-133 1h0m17-1h0m34 1h0m4 0h0m2 0h0m15 0h0m4-1h0m8 0h0m6 1h0m25 0h0m31 0h0m-152 2h0m24 0h0m7 1h0m14-1h0m2-1h0m7 1h0m5 0h0m2 0h0m25 0h0m12 0h0m2 0h0m2-1h0m28 2h0m5-1h0m-123 3h0m7-1h0m27 0h0m5 0h0m11-1h0m12 1h0m1 0h0m19 0h0m1 0h0m1 0h0m12-1h0m22 0h0m22 2h0m18 0h0m-179 1h0m19 0h0m2 0h0m12-1h0m7 1h0m4 0h0m10 0h0m18 0h0m1 0h0m12 1h0m4 0h0m4-2h0m4 1h0m9-1h0m5 0h0m11 1h0m1-1h0m0 1h0m11 0h0m6 0h0m21 0h0m-170 1h0m28 1h0m22 1h0m11-1h0m23 0h0m3-1h0m26 0h0m2 1h0m5 0h0m3 0h0m12 0h0m18 0h0m15 0h0m-141 2h0m13 0h0m9 0h0m15-1h0m4 1h0m4-1h0m78 1h0m17 0h0m15-1h0m-155 3h0m14 1h0m9-1h0m5 1h0m13-1h0m23 1h0m11-1h0m4 0h0m4 0h0m14 0h0m7 0h0m1 0h0m16-1h0m35 1h0m3-1h0m-148 3h0m41 1h0m7-1h0m1 0h0m34 0h0m38 1h0m22 0h0m11-2h0m-154 3h0m4-1h0m10 2h0m21-1h0m25-1h0m6 1h0m3 1h0m45-1h0m2 0h0m11-1h0m5 0h0m4 1h0m-159 1h0m11 1h0m18 0h0m14 0h0m15 1h0m37-1h0m4 0h0m24 0h0m15 0h0m6 1h0m-107 0h0m9 1h0m20-1h0m16 1h0m8 0h0m10 0h0m8 1h0m26-2h0m4 0h0m18 2h0m11-2h0m9 1h0m-172 3h0m55-1h0m2 0h0m11 0h0m8 0h0m7 1h0m9-2h0m3 1h0m18 1h0m2 0h0m4-1h0m33 0h0m0-1h0m31 0h0m-170 3h0m1-1h0m11 2h0m11-1h0m4 1h0m2-1h0m6 1h0m28-1h0m5 1h0m1-1h0m9 0h0m2-1h0m6 0h0m2 1h0m7 0h0m2-1h0m3 1h0m7-1h0m11 2h0m6-1h0m10 0h0m-83 3h0m7-2h0m5 1h0m20 0h0m2 1h0m12 0h0m2-1h0m30-1h0m19 2h0m2-1h0m3 1h0m0-1h0m3 0h0m18 1h0m-165 1h0m11-1h0m10 1h0m19-1h0m3 2h0m14-2h0m11 2h0m8-1h0m12 0h0m17 0h0m28 0h0m8 0h0m1 0h0m13 1h0m-170 1h0m24 1h0m40-1h0m16 1h0m58 0h0m13-1h0m20-1h0m4 2h0m-135 0h0m34 2h0m60-1h0m17 0h0m17 1h0m-138 2h0m19 0h0m5-1h0m2 1h0m3-1h0m7-1h0m29 1h0m4 0h0m9-1h0m9 2h0m4-1h0m4 0h0m16 0h0m25 1h0m8-2h0m-168 4h0m55-1h0m3 1h0m7-1h0m20 0h0m25 1h0m2-1h0m5 0h0m16 0h0m10 0h0m-125 2h0m12 0h0m20-1h0m3 1h0m8 1h0m10-1h0m13 1h0m21-2h0m7 1h0m8 0h0m8-1h0m65 1h0m-220 2h0m50 0h0m13 0h0m7 0h0m12 0h0m55 1h0m0-1h0m9-1h0m3 0h0m12 1h0m13-1h0m35 1h0m8 0h0m-199 1h0m34 1h0m22 0h0m24 0h0m12 1h0m17-1h0m10 0h0m13-1h0m28 0h0m27 2h0m3 0h0m2-2h0m-218 3h0m6-1h0m70 1h0m19 1h0m5 0h0m7-1h0m2 0h0m21 0h0m5-1h0m10 2h0m94-1h0m-200 3h0m29-2h0m20 0h0m0 0h0m9 1h0m10 0h0m2 1h0m36-1h0m4 0h0m16 0h0m55 0h0m11 0h0m-237 3h0m29-1h0m44-1h0m17 1h0m21-1h0m17 1h0m4 0h0m11 1h0m17 0h0m3 0h0m14-1h0m37 1h0m7-2h0m6 0h0m5 1h0m0 0h0m-211 2h0m58 1h0m2 0h0m3-2h0m13 1h0m13-1h0m8 2h0m4-2h0m27 0h0m3 1h0m4 0h0m9 1h0m17-1h0m9 1h0m29 0h0m0-1h0m6 1h0m21-1h0m-236 2h0m8 0h0m33-1h0m60 1h0m7 0h0m9 0h0m2-1h0m0 1h0m38 0h0m3 1h0m14 0h0m9-1h0m10 0h0m1 1h0m-209 0h0m60 2h0m32-1h0m29 1h0m23-1h0m6 1h0m11-1h0m6 0h0m19 0h0m10 0h0m12 0h0m5 0h0m25 0h0m15 0h0m-236 3h0m48-2h0m53 2h0m2-2h0m10 1h0m2 0h0m21 1h0m4-1h0m15 1h0m0-1h0m8-1h0m68 2h0m1-2h0m-223 3h0m62-1h0m1 1h0m3 0h0m29 0h0m8 0h0m6 0h0m1 1h0m11-1h0m15 0h0m13 0h0m2 0h0m20 0h0m1-1h0m27 0h0m2 1h0m11 0h0m13 0h0m-228 1h0m14 1h0m42 1h0m38-2h0m13 2h0m20-2h0m10 1h0m16 0h0m61 1h0m-243 1h0m16 0h0m73-1h0m5 1h0m4-1h0m3 1h0m21-1h0m91 0h0m2 2h0m14-1h0m10-1h0m8 0h0m-241 3h0m23 1h0m12 0h0m62 0h0m8-1h0m21 1h0m13-1h0m2 0h0m23-1h0m0 1h0m22-1h0m7 2h0m6-2h0m10 0h0m9 2h0m16-1h0m11-1h0m-241 3h0m5 0h0m39 0h0m8 0h0m51 1h0m64-2h0m5 1h0m2 0h0m20 0h0m46-1h0m-248 3h0m16 1h0m1-2h0m13 2h0m3 0h0m18-1h0m43 0h0m28 0h0m2-1h0m36 1h0m3-1h0m40 1h0m29 1h0m4 0h0m11-2h0m-251 2h0m4 1h0m13 0h0m6 0h0m1 0h0m70-1h0m71 1h0m2-1h0m56 2h0m-215 1h0m3 0h0m27 0h0m99 0h0m36 1h0m45 0h0m3-1h0m19 0h0m15 0h0m-217 1h0m0 0h0m76 2h0m25 0h0m17-1h0m15 0h0m62 1h0m22-2h0m-249 3h0m17 0h0m6-1h0m114 0h0m91 1h0m8 1h0m-223 2h0m6-2h0m1 0h0m1 2h0m13 0h0m59-1h0m41 0h0m7 1h0m89-1h0m7 0h0m-229 3h0m2-1h0m5 1h0m9 0h0m4-1h0m53 0h0m11-1h0m9 1h0m40 0h0m96 1h0m2-1h0m-179 1h0m51 2h0m20-1h0m-39 2h0m3 0h0m10 1h0m30-2h0m13 0h0m87 1h0m-198 1h0m72 0h0m35 1h0m-148 2h0m17-1h0m52 0h0m33 2h0m45-1h0m-133 2h0m2 0h0m20 1h0m50-1h0m18-1h0m7 1h0m2-1h0m1 1h0m4 1h0m5-1h0m17-1h0m-143 2h0m4 0h0m20 2h0m14 1h0m80 1h0m28-1h0m-121 2h0m1-1h0m0 0h0m80 1h0m4 0h0m-103 2h0m2 0h0m15 0h0m2 0h0m7-1h0m-22 2h0m24 2h0m73-2h0m14 1h0m-119 1h0m4 1h0m9 0h0m-5 2h0m15-1h0m10 1h0m-32 2h0m6-1h0m4 3h0m5-1h0m-6 3h0m3 1h0m4 2h0m7-2h0m-19 3h0m6 2h0m10 3h0"/><path stroke="#CC4778" d="M451 40h0m-29 2h0m4 0h0m3 8h0m5 4h0m32-1h0m-49 12h0m1 2h0m27 4h0m-44 7h0m-17 9h0m-11 3h0m2 0h0m65 0h0m-73 3h0m-9 1h0m51 1h0m4 4h0m-49 4h0m6-1h0m-25 3h0m8 0h0m2 0h0m14-1h0m47-1h0m25 3h0m-60 2h0m14 0h0m55 0h0m-110 1h0m60 2h0m6-1h0m10-1h0m-35 3h0m3-1h0m32 1h0m63-1h0m-154 3h0m43 0h0m40-1h0m20 1h0m-98 3h0m0 0h0m11-2h0m104 4h0m-110 2h0m34-1h0m3 0h0m16-1h0m39 1h0m13 1h0m5-1h0m-102 2h0m6 0h0m70 1h0m-83 1h0m32-1h0m3 0h0m21 1h0m16 0h0m31-1h0m-111 3h0m7 0h0m69-1h0m12 1h0m22 0h0m22 0h0m-123 1h0m1 0h0m34 1h0m35 0h0m54 0h0m-118 3h0m2-1h0m4 1h0m26 0h0m7 0h0m23-1h0m46 0h0m-101 3h0m33-1h0m51 1h0m17 2h0m-81 1h0m46 1h0m-25 1h0m11-1h0m43 2h0m33-2h0m-132 3h0m106 1h0m-90 2h0m3-2h0m10 2h0m74-1h0m30 1h0m4-2h0m-137 3h0m74 0h0m12-1h0m7 2h0m7-1h0m-104 2h0m7 1h0m60-1h0m15 0h0m-91 2h0m11 0h0m36 0h0m64 0h0m8 0h0m9-1h0m-97 5h0m4 1h0m20-1h0m74 1h0m1-2h0m3 1h0m-138 2h0m22 0h0m91 0h0m-69 2h0m13-1h0m1 2h0m45-1h0m52 1h0m-154 1h0m22 0h0m-6 2h0m1 0h0m94 1h0m33-1h0m-138 1h0m13 1h0m42 0h0m54 1h0m4-1h0m20 0h0m-111 2h0m38 0h0m36 0h0m0-1h0m11 2h0m2-1h0m21 0h0m8-1h0m6 1h0m-141 1h0m22 2h0m5-1h0m24 1h0m33-1h0m-68 2h0m52-1h0m31 1h0m-110 2h0m6 0h0m128 0h0m10 0h0m-140 3h0m44-1h0m3-1h0m6 2h0m26-1h0m-64 2h0m65 0h0m16-1h0m38 0h0m-151 3h0m57 1h0m58-1h0m54-1h0m0 1h0m1 0h0m-148 3h0m44-2h0m-16 4h0m-23 1h0m9 0h0m30-1h0m15 0h0m3 1h0m26-1h0m2 1h0m40 0h0m-113 3h0m-2 1h0m26 0h0m31-1h0m32 1h0m-64 1h0m8 2h0m2-1h0m0 0h0m27 0h0m2 1h0m1-1h0m19 0h0m13 0h0m-97 2h0m49-1h0m3 0h0m16 0h0m9 0h0m7 0h0m1 1h0m13 1h0m-47 1h0m39 0h0m19 0h0m12 0h0m18-1h0m10 0h0m-155 4h0m22-1h0m32 1h0m3 0h0m-3 1h0m5 0h0m64-1h0m-145 3h0m8 0h0m9 0h0m45 1h0m45-1h0m82 1h0m-214 0h0m79 1h0m72 0h0m8 1h0m-83 0h0m61 1h0m26 0h0m49 0h0m2 0h0m-120 2h0m28 0h0m15 1h0m22-1h0m41 0h0m-180 2h0m53-1h0m13 0h0m3 1h0m19 0h0m0-1h0m1 1h0m13 0h0m11 1h0m-83 2h0m48 0h0m22 0h0m6-2h0m14 1h0m-79 3h0m34-1h0m9 0h0m31-1h0m20 1h0m66 1h0m-216 2h0m74-1h0m9-1h0m1 0h0m45 1h0m39 0h0m15-1h0m33 1h0m-148 3h0m85-1h0m8-1h0m10 2h0m32-1h0m26-1h0m-197 4h0m71-2h0m76 1h0m-167 3h0m48-1h0m0 1h0m19-1h0m0-1h0m11 1h0m23 0h0m19 0h0m85-1h0m-116 2h0m5 1h0m113 0h0m-218 2h0m-25 2h0m30 0h0m0 0h0m64 0h0m8 0h0m27 0h0m30 0h0m21 0h0m6-1h0m44 2h0m-223 1h0m8-1h0m5 1h0m81 0h0m17 1h0m25-1h0m36 1h0m3-2h0m19 1h0m-178 2h0m3 0h0m56 1h0m9-1h0m33 0h0m-101 1h0m112 2h0m8 0h0m-19 1h0m5 0h0m12 0h0m71 1h0m-107 2h0m24-1h0m23 0h0m-37 2h0m1 0h0m37 0h0m85 2h0m2 0h0m-121 4h0m10 1h0m-123 3h0m2 1h0m7 0h0m4 0h0m116 0h0m23-2h0m-158 4h0m75-1h0m62 0h0m78 0h0m-216 2h0m8 0h0m90-1h0m23 0h0m-97 5h0m98-1h0m21 2h0m-52 1h0m17 0h0m1 0h0m-108 2h0m7 0h0m102-1h0m-109 3h0m12 0h0m101-1h0m-22 4h0m4 0h0m-87 1h0m128-1h0m-128 3h0m26 2h0m-20 5h0m10 3h0m-22 1h0m25 2h0m-22 2h0"/><path stroke="#F89540" d="M430 40h0m-6 19h0m-12 3h0m61 6h0m-54 2h0m-12 5h0m7 4h0m17 5h0m-43 5h0m9-2h0m6 2h0m-56 5h0m38 0h0m-50 4h0m13 0h0m16 0h0m4 0h0m0-1h0m12 1h0m5 0h0m23-1h0m-53 2h0m16 1h0m14 1h0m9-1h0m20 0h0m29 1h0m-88 1h0m1 1h0m26-1h0m43 1h0m-82 0h0m32 2h0m41-2h0m-77 3h0m43 0h0m32 0h0m2 0h0m-71 3h0m13-2h0m6 1h0m4 0h0m52 0h0m-26 1h0m16 1h0m20 1h0m-71 2h0m38 0h0m12-2h0m7 2h0m22-2h0m-77 3h0m20 1h0m5-1h0m2 0h0m14 0h0m8 1h0m3-1h0m-79 2h0m9-1h0m21 1h0m3 1h0m18 0h0m40-2h0m-87 4h0m4 0h0m6 0h0m2 0h0m1-1h0m29-1h0m8 0h0m6 0h0m2 0h0m7 1h0m-61 2h0m1 0h0m8 0h0m41 0h0m18 1h0m1 0h0m56 0h0m-122 1h0m44 1h0m10-1h0m10 0h0m40 1h0m-121 1h0m10 1h0m16-1h0m24-1h0m9 1h0m3 0h0m0 1h0m19 0h0m7-1h0m17-1h0m6 1h0m13 1h0m-109 0h0m8 0h0m15 1h0m8-1h0m3 1h0m11-1h0m4 2h0m3-1h0m10-1h0m5 2h0m58-1h0m-131 2h0m23 1h0m16 0h0m14 0h0m11-2h0m14 1h0m56 0h0m-117 2h0m27 0h0m5 0h0m8 0h0m11 0h0m10 0h0m6-1h0m14 1h0m-90 1h0m22 1h0m11 1h0m6-1h0m6-1h0m6 1h0m-62 2h0m3-1h0m13 1h0m26-1h0m133 1h0m-164 2h0m35 2h0m57 0h0m37 1h0m-145 2h0m2 0h0m23-1h0m2 0h0m5 0h0m6 0h0m4 0h0m10 1h0m8-2h0m13 1h0m4-1h0m12 2h0m0-2h0m7 0h0m16 1h0m-85 2h0m3-1h0m3 1h0m4 0h0m11 1h0m1-1h0m51 1h0m34-2h0m-128 2h0m25 0h0m0 1h0m2 1h0m19 0h0m0-1h0m-29 3h0m100-2h0m-115 2h0m9 2h0m28 0h0m9 0h0m7 0h0m2 0h0m5-1h0m1 0h0m4 0h0m10 0h0m6-1h0m18 1h0m-101 3h0m4 0h0m8-1h0m2 0h0m5 0h0m11 1h0m9-1h0m18-1h0m5 0h0m41 1h0m15-1h0m29 2h0m-150 1h0m4 0h0m11 0h0m23 0h0m38 0h0m12 0h0m48-1h0m-143 3h0m18 1h0m8-1h0m5 1h0m14-1h0m24 0h0m4-1h0m15 0h0m10 0h0m5 1h0m1-1h0m32 2h0m17-2h0m-162 4h0m32-1h0m52-1h0m15 0h0m6 0h0m-119 4h0m30 0h0m0-1h0m22 1h0m2 0h0m12-1h0m9 1h0m31-1h0m4 0h0m-93 2h0m10 0h0m32 0h0m28 0h0m11-1h0m36 1h0m4 0h0m-102 2h0m47-1h0m42 1h0m29 1h0m-111 1h0m20 0h0m13 0h0m1 0h0m96 0h0m-144 1h0m2 1h0m19 1h0m26-2h0m22 0h0m56 1h0m-126 3h0m22-1h0m18 0h0m7-1h0m22 2h0m9-2h0m2 1h0m13 0h0m25 1h0m-113 1h0m6-1h0m2 1h0m15 0h0m1-1h0m20 1h0m0 1h0m8 0h0m20 0h0m7-2h0m-116 3h0m34 0h0m9-1h0m10 1h0m2 1h0m35 0h0m4 0h0m28-2h0m2 2h0m5-1h0m10 0h0m5 0h0m-119 2h0m8 1h0m34-1h0m7 0h0m7 0h0m13 0h0m2 0h0m9 1h0m38-1h0m-141 1h0m26 1h0m0 0h0m3-1h0m31 1h0m17 1h0m15-1h0m1 0h0m55 1h0m2 0h0m5-1h0m-105 2h0m7 0h0m18 0h0m2-1h0m46 0h0m46 0h0m-165 4h0m54 0h0m18-1h0m6 0h0m29 0h0m51 0h0m-115 3h0m32 0h0m-79 1h0m28 1h0m18-1h0m10 0h0m1 0h0m1 0h0m20 1h0m14 0h0m1 0h0m4 0h0m4 0h0m13-1h0m8 0h0m70 1h0m-143 0h0m25 1h0m33-1h0m5 1h0m1-1h0m72 2h0m-109 1h0m9 1h0m5-1h0m0 0h0m14-1h0m1 2h0m14 0h0m-73 2h0m2 0h0m4-1h0m13 0h0m8-1h0m0 0h0m5 1h0m23 1h0m-47 1h0m2-1h0m12 0h0m2 2h0m4-2h0m3 1h0m10 0h0m49 1h0m-61 1h0m1-1h0m15 1h0m26-1h0m17 0h0m3 1h0m-87 2h0m19-1h0m21 1h0m6 0h0m19-1h0m98 4h0m-149 1h0m1 1h0m2 0h0m4-1h0m5 1h0m25 0h0m24 0h0m3-1h0m-115 2h0m37-1h0m1 0h0m1 2h0m18-1h0m12 1h0m1-1h0m38-1h0m28 1h0m18 0h0m-172 2h0m55 0h0m25 0h0m18-1h0m21 0h0m21 2h0m43-1h0m3 0h0m-119 1h0m16 0h0m7 0h0m14 1h0m1 0h0m5 0h0m0 1h0m64-1h0m44 0h0m-162 1h0m2 1h0m24-1h0m2 2h0m11-1h0m6 0h0m29 1h0m91-2h0m-209 3h0m41 0h0m10-1h0m4 1h0m3 0h0m46 0h0m2 1h0m4 0h0m23 0h0m-150 2h0m5 0h0m1 0h0m39 0h0m0-2h0m31 2h0m2 0h0m2-2h0m18 1h0m65 0h0m3-1h0m-169 3h0m85 0h0m12 0h0m16 0h0m-93 2h0m4 0h0m6 1h0m6-2h0m58 1h0m14 0h0m10-1h0m21 1h0m1 0h0m29 1h0m-81 1h0m3-1h0m34 2h0m-131 1h0m6 0h0m5 1h0m66-1h0m3 1h0m19-1h0m16 1h0m29-1h0m23 0h0m54-1h0m-171 2h0m49 1h0m7 0h0m4 0h0m2-1h0m1 2h0m5-1h0m-113 2h0m9 1h0m31-1h0m34 1h0m4-2h0m9 1h0m6 0h0m6 1h0m17 0h0m-96 2h0m0-1h0m14 0h0m61-1h0m13 1h0m14-1h0m1 0h0m88 1h0m-192 3h0m33-1h0m37 0h0m10-1h0m4 1h0m35 0h0m-139 2h0m13 0h0m0 1h0m3-1h0m11-1h0m62 0h0m22 2h0m31-1h0m38 1h0m-166 1h0m2 1h0m3 0h0m5-2h0m2 2h0m6-1h0m30 1h0m1-1h0m24 0h0m26 1h0m34 0h0m27-1h0m77 1h0m-255 0h0m1 0h0m8 0h0m1 2h0m13 0h0m2-1h0m0 0h0m3-1h0m4 0h0m104 0h0m7 1h0m9 0h0m36 1h0m33-1h0m-203 3h0m19-1h0m30-1h0m27 1h0m38 1h0m101-1h0m-226 2h0m15 0h0m73 1h0m28 0h0m18-1h0m94 0h0m12 0h0m-241 2h0m5 1h0m3-2h0m5 2h0m10 0h0m10-1h0m67 0h0m21-1h0m0 0h0m31 2h0m86-1h0m-235 3h0m10-1h0m2 0h0m2 0h0m7 0h0m98 0h0m21 0h0m10 1h0m5-1h0m41 1h0m17 0h0m-229 1h0m14-1h0m0 2h0m3-2h0m115 0h0m2 2h0m99-1h0m-221 1h0m6 2h0m8-1h0m0-1h0m3 0h0m5 2h0m8-1h0m34-1h0m28 1h0m2 0h0m13 0h0m4-1h0m18 2h0m-139 2h0m5 0h0m3-1h0m2 0h0m5 1h0m5-2h0m4 1h0m1-1h0m15 2h0m5-1h0m71 0h0m11-1h0m22 1h0m-132 3h0m1 0h0m24-1h0m49 1h0m19-2h0m5 1h0m-112 2h0m6 1h0m25-1h0m71 0h0m11 0h0m-100 3h0m61 0h0m23-1h0m-95 1h0m12 1h0m11 0h0m8 0h0m62 1h0m27-1h0m-99 3h0m8-1h0m60 0h0m29 1h0m-121 2h0m10 0h0m3-2h0m2 0h0m23 1h0m70 1h0m16-1h0m2 0h0m-122 3h0m23-2h0m-20 2h0m3 0h0m4 1h0m15 0h0m3 0h0m82-1h0m-100 3h0m3 1h0m6 0h0m89-1h0m-105 2h0m4-1h0m10 0h0m113 0h0m-109 3h0m-11 2h0m1 0h0m19 0h0m-23 2h0m19 0h0m1 0h0m2-1h0m-11 4h0m3 0h0m1-2h0m-10 3h0m4 0h0m4-1h0m2 1h0m-16 2h0m3 0h0m-3 10h0m5-1h0m0 3h0m6 1h0"/><path stroke="#F0F921" d="M445 38h0m7 9h0m-36 21h0m16 28h0m-34 4h0m-15 4h0m29-1h0m-69 4h0m-9 0h0m37 1h0m-6 2h0m25 3h0m-42 0h0m8 1h0m148-1h0m-128 5h0m61 0h0m-81 3h0m-17 1h0m21 1h0m41-1h0m-44 2h0m16 3h0m6-2h0m15 3h0m33 0h0m-86 2h0m29 0h0m32 0h0m22 0h0m-76 2h0m71 0h0m-23 1h0m-5 6h0m-59 1h0m9 3h0m28-2h0m64 0h0m9 1h0m-107 1h0m51 2h0m42-2h0m47 3h0m-13 3h0m-4 2h0m-139 4h0m9-1h0m9 1h0m61-2h0m2 2h0m34-1h0m-70 2h0m52 0h0m-41 2h0m86-1h0m-92 4h0m24 0h0m-22 0h0m-18 2h0m4 1h0m38 1h0m-53 3h0m1 1h0m57-1h0m6 0h0m12 1h0m3-2h0m54 1h0m-99 2h0m-17 2h0m21 0h0m16-1h0m24 2h0m-62 2h0m22-1h0m-43 2h0m9-1h0m19 1h0m18-1h0m10 2h0m-56 2h0m1-1h0m20-1h0m37 1h0m8 1h0m62-1h0m-127 3h0m25-1h0m103 0h0m-94 3h0m11-2h0m59 1h0m36 0h0m-141 1h0m13 1h0m3 1h0m4-1h0m8 2h0m2 1h0m31-1h0m-81 1h0m115 0h0m-93 2h0m0 2h0m10 0h0m66-1h0m-39 1h0m66 0h0m-77 2h0m8 1h0m0 0h0m2-1h0m3 1h0m1 0h0m65 1h0m57-1h0m-158 5h0m17 0h0m26-2h0m1 0h0m6 1h0m19 2h0m32 0h0m-95 1h0m13 2h0m33-1h0m5-1h0m-35 3h0m7 1h0m58-1h0m-75 2h0m2 0h0m5 3h0m26-1h0m3 0h0m84 1h0m-180 0h0m38 2h0m39-1h0m14 1h0m8-1h0m-12 2h0m-36 2h0m37-1h0m-23 3h0m35 0h0m70 1h0m-161 3h0m52 0h0m8 1h0m10-1h0m74 0h0m-97 4h0m28-1h0m35 1h0m-111 3h0m86 0h0m-79 2h0m86 1h0m-13 2h0m-11 2h0m17-1h0m9 0h0m45 1h0m20 0h0m-78 5h0m0 0h0m26 0h0m26 1h0m24 5h0m-54 1h0m0 2h0m25 0h0m-74 4h0m71 1h0m-57 1h0m27 0h0m-21 1h0m36 0h0m-134 5h0m1 0h0m132-1h0m-2 4h0m-21 3h0m-4 2h0m-79 8h0"/><path stroke="#BEBEBE" d="M430 35h0m2 0h0m18 1h0m-11 3h0m5-2h0m-20 2h0m18 2h0m6-1h0m10 1h0m2-1h0m-31 2h0m13 1h0m13-1h0m2 0h0m4 0h0m-15 3h0m3-2h0m7 1h0m0-1h0m-35 2h0m26 1h0m0-1h0m10 0h0m-40 3h0m2 1h0m0-1h0m19 0h0m8 0h0m8 0h0m8-1h0m3 1h0m-28 2h0m2 0h0m11 0h0m3-1h0m13 1h0m1-1h0m4 0h0m-20 3h0m16 0h0m-39 3h0m1-2h0m36 1h0m-39 2h0m3 1h0m1 0h0m0-2h0m4 1h0m4-1h0m8 2h0m3-1h0m8 0h0m3-1h0m2 2h0m8-1h0m2-1h0m-28 2h0m10 2h0m17 0h0m2 0h0m0-1h0m-32 1h0m26 1h0m0 1h0m0-2h0m7 1h0m-56 2h0m9 0h0m20 0h0m6 1h0m0-2h0m13 0h0m-30 2h0m17 1h0m-30 2h0m12-1h0m3 2h0m4-1h0m17 0h0m-48 3h0m22-2h0m29 2h0m7 0h0m-51 1h0m27 1h0m8-1h0m-45 2h0m9-1h0m0 2h0m8-1h0m8-1h0m16 2h0m22-1h0m3-1h0m-45 2h0m11 0h0m2 0h0m2 2h0m-14 2h0m3-2h0m1 1h0m12 0h0m5 1h0m3-2h0m13 0h0m-64 4h0m5 0h0m4-2h0m10 1h0m10 0h0m22-1h0m6 1h0m1 1h0m7-1h0m0 0h0m0 1h0m-51 2h0m21-1h0m1 0h0m4 0h0m5 0h0m6 1h0m10-1h0m-45 3h0m19-2h0m2 1h0m7-1h0m19 1h0m-41 1h0m2 1h0m20 0h0m3 1h0m3-2h0m4 0h0m-33 3h0m-33 1h0m24 1h0m23-1h0m14 0h0m4 1h0m1 1h0m-37 1h0m2 0h0m11 0h0m14 0h0m2 0h0m0-1h0m3 1h0m10 0h0m-76 3h0m60-2h0m3 2h0m-32 0h0m11 1h0m8 1h0m-52 1h0m44 0h0m-81 2h0m12 0h0m37 0h0m49-1h0m2 1h0m10 0h0m30 0h0m-130 3h0m32 0h0m25 1h0m29 1h0m44-1h0m-51 3h0m8-2h0m5 0h0m10 1h0m10-1h0m-8 3h0m3 0h0m-75 1h0m46 1h0m14 0h0m11 2h0m-113 2h0m30-1h0m79 2h0m38 0h0m-165 1h0m89 0h0m-22 2h0m29-1h0m18 0h0m10 1h0m31 1h0m8-2h0m-73 3h0m20 1h0m21 0h0m-118 1h0m21-1h0m71 0h0m21 0h0m54 1h0m-52 3h0m7-2h0m-24 3h0m-37 2h0m13 1h0m30-1h0m-102 2h0m22 1h0m48 0h0m94-1h0m-139 1h0m22 0h0m9 1h0m13 1h0m31-1h0m2-1h0m28 1h0m-131 2h0m11 0h0m110 1h0m-132 1h0m59 1h0m74 2h0m9-1h0m14 1h0m19-1h0m-150 2h0m86 0h0m17 1h0m13-2h0m-67 3h0m47-1h0m-110 4h0m5-1h0m17 0h0m24-1h0m19 0h0m57 2h0m-130 2h0m22 0h0m57 0h0m9-1h0m14 0h0m-60 1h0m35 2h0m6-1h0m20 0h0m39 0h0m-140 1h0m130 2h0m-129 0h0m5 0h0m6 0h0m63 1h0m72 0h0m3 1h0m-91 2h0m10-1h0m17 0h0m6 0h0m4 0h0m21 1h0m-128 1h0m22 0h0m51 0h0m35 1h0m1-1h0m17 1h0m2-1h0m-78 2h0m27-1h0m-24 3h0m39 0h0m6 0h0m13 0h0m5 0h0m15-1h0m5 2h0m-113 2h0m44 0h0m2-1h0m36 0h0m8 0h0m19-1h0m-122 3h0m93 1h0m-122 1h0m114 0h0m-87 1h0m39 0h0m-6 3h0m7 0h0m11 1h0m54 0h0m28-1h0m-138 2h0m46 0h0m77 1h0m-54 2h0m62 0h0m-145 2h0m39 0h0m75-1h0m10 1h0m2-1h0m-59 2h0m87 0h0m4 0h0m8-1h0m-173 3h0m83-1h0m16 0h0m12 2h0m26-1h0m-137 2h0m24 0h0m71 1h0m47 2h0m31-2h0m-100 2h0m42 2h0m-60 2h0m52-2h0m12 2h0m25-2h0m-64 3h0m40-1h0m4 0h0m-115 3h0m21 1h0m9-1h0m57-1h0m29 0h0m18 2h0m19-1h0m23 1h0m7-1h0m-181 1h0m55 1h0m124 1h0m-113 1h0m92 1h0m7-1h0m9 1h0m14-2h0m-174 4h0m82-1h0m8 1h0m16-1h0m59-1h0m9 1h0m-142 3h0m151 0h0m-135 1h0m59 0h0m39 1h0m11-1h0m3 0h0m3-1h0m-202 2h0m1 1h0m4-1h0m126 1h0m40 0h0m15 1h0m7-2h0m1 0h0m12 2h0m12-1h0m-211 3h0m93-2h0m11 1h0m9 1h0m25-1h0m31 1h0m18-1h0m18 0h0m-178 2h0m25-1h0m46 1h0m26-1h0m4 1h0m17-1h0m59 1h0m-215 2h0m20 0h0m63 0h0m55 0h0m29 0h0m8 0h0m-175 1h0m138 0h0m1 2h0m101-1h0m-36 1h0m-202 4h0m2-2h0m1 2h0m6 0h0m131-1h0m9-1h0m59 1h0m3 1h0m-220 0h0m1 0h0m1 1h0m9-1h0m63 2h0m40-1h0m12 1h0m27-1h0m39 0h0m-196 2h0m10-1h0m7 1h0m6 0h0m3 0h0m6 0h0m0-1h0m2 1h0m26 0h0m26 0h0m13-1h0m51 0h0m28 1h0m0 1h0m47-1h0m-219 1h0m1 0h0m5 1h0m4 0h0m19 1h0m136-1h0m-167 3h0m3-1h0m1 0h0m7 0h0m15 0h0m75 0h0m50-1h0m101 1h0m-245 1h0m3 1h0m9 0h0m20 0h0m121 0h0m81 1h0m-242 1h0m8-1h0m12 2h0m53 0h0m1-1h0m55 1h0m2 0h0m23-1h0m53 1h0m-209 0h0m19 0h0m1 2h0m8-2h0m50 2h0m5-1h0m7-1h0m5 0h0m30 0h0m53 1h0m30 0h0m-205 2h0m10 1h0m6 0h0m13-2h0m16 2h0m21 0h0m102-1h0m1 0h0m29-1h0m1 1h0m10 0h0m7 0h0m-214 3h0m5 0h0m54-1h0m16-1h0m40 1h0m111 1h0m-230 0h0m30 1h0m78 1h0m4-1h0m24 0h0m13 0h0m12-1h0m75 1h0m-232 1h0m7 1h0m4-1h0m3 2h0m9 0h0m6 0h0m17-1h0m26 1h0m22 0h0m13-1h0m9 0h0m6 0h0m40-1h0m12 2h0m60 0h0m-233 1h0m5 1h0m24-1h0m10-1h0m4 0h0m43 1h0m0-1h0m5 1h0m3 1h0m8-1h0m6 1h0m2 0h0m3-1h0m10 0h0m5 0h0m2 1h0m9-2h0m6 1h0m2 0h0m7 0h0m7 1h0m50 0h0m12-1h0m11-1h0m-234 2h0m11 0h0m1 0h0m10 2h0m63-2h0m9 2h0m12-2h0m20 1h0m3 0h0m5 0h0m2 0h0m5 0h0m61 0h0m31 0h0m4 1h0m-227 2h0m56 0h0m21 0h0m35-1h0m1 1h0m13 0h0m11-2h0m68 1h0m-121 1h0m7 2h0m4-2h0m7 2h0m9-2h0m0 0h0m12 1h0m83 0h0m25 0h0m-219 2h0m88 0h0m4 0h0m0 0h0m1 0h0m34 0h0m70 0h0m22 0h0m-210 2h0m2 0h0m22 0h0m36 0h0m11 0h0m4-1h0m2 0h0m4 2h0m0-1h0m0 0h0m14 0h0m0 1h0m3-1h0m0 0h0m1 0h0m-126 3h0m90-1h0m5 1h0m24 0h0m2-1h0m5 0h0m14 1h0m-155 1h0m18 0h0m21 1h0m5-2h0m63 1h0m1 0h0m3 1h0m9-1h0m4 1h0m14-1h0m10 0h0m11-1h0m-49 3h0m5 0h0m2-1h0m4 2h0m23-1h0m2 1h0m-141 0h0m22 1h0m52 0h0m23 0h0m7 0h0m16 0h0m6 0h0m1 1h0m18-1h0m-126 3h0m0 0h0m7-1h0m103-1h0m7 2h0m4-1h0m-111 3h0m4-1h0m45 0h0m21 1h0m11-1h0m3 0h0m22 1h0m0 0h0m-124 1h0m7 0h0m85 0h0m7 1h0m0-1h0m4 0h0m5 1h0m5-1h0m20 0h0m-121 2h0m7 1h0m56-1h0m14 0h0m3-1h0m11 2h0m7 0h0m-96 1h0m107 1h0m-124 1h0m3 0h0m87-1h0m-67 3h0m89 1h0m2 3h0m-117 7h0m11 6h0"/><path stroke="#0D0887" d="M451 37h0m-10 0h0m-2 3h0m-15 1h0m-1 6h0m38 7h0m5 3h0m-23 3h0m3 1h0m17 4h0m1 3h0m-56 3h0m20 2h0m5-1h0m-19 1h0m8 1h0m-16 4h0m13 0h0m20-1h0m10 0h0m17 1h0m2 0h0m-82 3h0m-2 2h0m9 2h0m35-2h0m-42 4h0m10-1h0m33 0h0m-48 2h0m19 0h0m29 1h0m21 0h0m-74 2h0m7-1h0m2-1h0m11 1h0m2 0h0m6-1h0m-33 3h0m2-1h0m18 1h0m1 0h0m10 0h0m1 1h0m3-2h0m68 2h0m-127 2h0m13-1h0m6 0h0m5 0h0m11-1h0m10 1h0m0-1h0m13 2h0m-32 2h0m11 0h0m10-1h0m9 0h0m4 1h0m7-1h0m3 1h0m2-2h0m27 0h0m-101 3h0m15-1h0m4 1h0m13 0h0m2 1h0m3-1h0m1 0h0m4 0h0m4 1h0m3-1h0m4 0h0m31-1h0m35 1h0m-130 2h0m4-1h0m8 0h0m0 1h0m1-1h0m9 0h0m32 1h0m5 0h0m1-1h0m0 1h0m8 1h0m2 0h0m2-1h0m0 1h0m2 0h0m42-2h0m-107 3h0m1 0h0m2-1h0m4 1h0m4-1h0m2 2h0m14-1h0m8-1h0m5 1h0m31 0h0m2 1h0m7-1h0m10 0h0m24 0h0m2-1h0m-126 3h0m0-1h0m31 0h0m18 0h0m33 1h0m3 0h0m3 0h0m53 0h0m6 0h0m-143 2h0m1 1h0m3-1h0m1-1h0m34 1h0m15-1h0m16 2h0m13-2h0m12 2h0m5-1h0m33 1h0m9-1h0m-144 3h0m15-2h0m14 0h0m37 2h0m18-1h0m5 1h0m58 0h0m5-2h0m-155 3h0m8-1h0m14 1h0m21 1h0m11 0h0m2-2h0m3 0h0m2 1h0m15 0h0m21 0h0m60 1h0m-144 0h0m19 2h0m38-1h0m0 0h0m8 0h0m19 0h0m36 0h0m-91 2h0m53 0h0m20-1h0m-114 2h0m10 0h0m19 1h0m7 0h0m13 0h0m37 0h0m1 1h0m2 0h0m8-1h0m9 0h0m7-1h0m29 1h0m-145 2h0m7 0h0m67 0h0m5 1h0m18 0h0m20 0h0m25 0h0m-131 1h0m4 0h0m2 0h0m51 0h0m14 1h0m1-1h0m6 0h0m16 0h0m1-1h0m4 2h0m-107 0h0m18 1h0m0 1h0m34 0h0m3 0h0m34 0h0m1-1h0m14 0h0m13 0h0m9 0h0m16 0h0m-145 2h0m16 0h0m12-1h0m2 2h0m8-2h0m36 2h0m23 0h0m17-1h0m2-1h0m6 1h0m12 0h0m4 0h0m25 0h0m-163 2h0m74 1h0m17-1h0m20 0h0m21 1h0m8-1h0m9 0h0m-145 2h0m19 1h0m27-1h0m1 0h0m13 0h0m14 1h0m7-1h0m8-1h0m27 1h0m1 1h0m2-1h0m4 1h0m9-1h0m-121 2h0m4 0h0m3 0h0m19 0h0m5 0h0m7 0h0m60 0h0m1 0h0m8-1h0m4 2h0m5-2h0m16 1h0m-140 2h0m7 0h0m1 0h0m17 1h0m43-2h0m13 2h0m16-2h0m5 0h0m9 2h0m28-1h0m-146 2h0m12 0h0m25-1h0m0 2h0m21-2h0m11 1h0m13 1h0m34-2h0m0 1h0m0-1h0m6 1h0m1 0h0m5 1h0m5-2h0m1 2h0m15 0h0m21-2h0m1 0h0m-165 4h0m22-1h0m6-1h0m11 2h0m21-2h0m16 1h0m32-1h0m3 1h0m5 1h0m8-2h0m6 2h0m2-1h0m1 1h0m3-1h0m5 0h0m-134 2h0m18 1h0m2-1h0m4 0h0m10 0h0m14-1h0m28 0h0m15 0h0m1 1h0m2 1h0m22-1h0m5 1h0m6 0h0m-144 1h0m22-1h0m33 0h0m33 0h0m17 2h0m10-2h0m3 1h0m0 0h0m5 0h0m4 1h0m8-1h0m10 0h0m2 0h0m12-1h0m20 1h0m-175 2h0m9 0h0m3 0h0m34 0h0m4 0h0m5 0h0m30 0h0m3 0h0m28 0h0m4 0h0m1 1h0m0 0h0m1-1h0m8 0h0m6 1h0m1 0h0m2-1h0m4 0h0m1 1h0m7 0h0m2-1h0m4 1h0m-156 2h0m11-1h0m5 0h0m53-1h0m1 1h0m21 1h0m1-2h0m1 0h0m1 2h0m11 0h0m4-2h0m4 0h0m8 0h0m24 1h0m-144 2h0m2 0h0m1-1h0m7 1h0m34 0h0m13-1h0m6 1h0m7 1h0m20-2h0m17 1h0m1 0h0m15 1h0m6-1h0m6-1h0m16 1h0m7 0h0m-162 3h0m16-2h0m25 2h0m33-1h0m1 0h0m11-1h0m0 0h0m4 0h0m11 0h0m0 0h0m12 2h0m2-1h0m8-1h0m8 2h0m11 0h0m5-1h0m3 0h0m0 0h0m8 0h0m-159 3h0m8-1h0m9 1h0m20-2h0m5 1h0m3 0h0m5-1h0m8 2h0m32-1h0m11 0h0m8 1h0m2 0h0m14-1h0m8 0h0m7 1h0m2-1h0m1 1h0m2 0h0m-126 1h0m1 1h0m10-1h0m6 0h0m32 0h0m6 0h0m25-1h0m2 1h0m26 0h0m4-1h0m8 2h0m3 0h0m7-1h0m-151 2h0m10 1h0m3-1h0m4 0h0m31 1h0m57-1h0m1-1h0m16 1h0m9 0h0m7 1h0m24-1h0m0 0h0m-141 1h0m16 1h0m2 0h0m6 0h0m16 0h0m16-1h0m8 1h0m9 0h0m18 0h0m6 1h0m4-1h0m0 1h0m34-1h0m-164 3h0m60-1h0m16 0h0m5-1h0m9 1h0m7 0h0m5 0h0m17 0h0m19 1h0m19-1h0m1-1h0m4 1h0m0 0h0m-163 1h0m54 1h0m35 0h0m14 1h0m3-1h0m2 1h0m8-1h0m30 0h0m6 0h0m5 0h0m7 0h0m-167 3h0m95-2h0m6 0h0m11 1h0m1 0h0m7 0h0m16 1h0m2-1h0m9 1h0m21-2h0m2 1h0m-152 1h0m10 1h0m10 0h0m9-1h0m8 1h0m24 0h0m7-1h0m6 1h0m2 0h0m36 1h0m2-2h0m1 0h0m19 1h0m8 0h0m5-1h0m2 2h0m-147 1h0m8 0h0m25 0h0m10 0h0m30 1h0m6-1h0m14 0h0m5 0h0m7 0h0m4 0h0m9 1h0m1 0h0m2-2h0m10 1h0m2 0h0m2 0h0m12 0h0m-157 2h0m55 1h0m4-2h0m11 1h0m23 1h0m2 0h0m17 0h0m11-1h0m1 1h0m6-1h0m1-1h0m22 1h0m3-1h0m3 0h0m-143 4h0m22-2h0m0 0h0m1 2h0m3-2h0m4 2h0m24-1h0m5 0h0m20 0h0m18 0h0m1 0h0m2-1h0m6 1h0m1 0h0m3 1h0m4-2h0m3 1h0m22-1h0m-147 3h0m46 0h0m7 0h0m18 1h0m22-1h0m5-1h0m4 0h0m17 1h0m5 1h0m2-2h0m8 1h0m2 0h0m13-1h0m2 0h0m-131 3h0m15 0h0m14 0h0m31-1h0m4 0h0m19 0h0m13 2h0m15-1h0m7 1h0m15-2h0m1 2h0m-152 2h0m56 0h0m6-1h0m35 0h0m10 0h0m1 0h0m4-1h0m0 1h0m6 0h0m17 1h0m4-2h0m5 1h0m0 1h0m1-2h0m4 1h0m-154 1h0m29 2h0m50-2h0m3 1h0m2 0h0m4 1h0m13-1h0m2 1h0m9-1h0m-32 1h0m30 2h0m3 0h0m7-1h0m15-1h0m5 1h0m9 0h0m0 0h0m8 0h0m-135 3h0m55-1h0m28 0h0m6 0h0m14 1h0m13 0h0m1 0h0m9 0h0m-147 1h0m63 0h0m21 0h0m27-1h0m49 0h0m-124 3h0m55 0h0m3 1h0m3-1h0m18 0h0m5 1h0m3-2h0m1 1h0m2 1h0m7-1h0m16 1h0m7 0h0m-157 1h0m40 1h0m3-2h0m34 2h0m2-1h0m17-1h0m15 0h0m24 0h0m1 1h0m0-1h0m3 2h0m18-1h0m8-1h0m-160 3h0m5 0h0m11 0h0m35 1h0m15 0h0m6-2h0m5 1h0m3 0h0m9 0h0m1-1h0m4 1h0m0 0h0m3 1h0m6-1h0m10 0h0m5 1h0m2-1h0m3 1h0m1-2h0m6 1h0m14 1h0m16 0h0m-173 1h0m9-1h0m9 2h0m14 0h0m22-1h0m37-1h0m1 2h0m5-2h0m1 2h0m1 0h0m4-1h0m33 0h0m16 0h0m2-1h0m-147 3h0m44 0h0m16 1h0m15-2h0m11 1h0m5-1h0m5 1h0m4-1h0m17 0h0m1 0h0m7 2h0m9-1h0m1-1h0m15 0h0m2 1h0m4-1h0m1 2h0m5-1h0m10 0h0m-154 2h0m4 1h0m0-1h0m23 0h0m48 1h0m13 0h0m7-1h0m12-1h0m11 0h0m4 2h0m2-2h0m4 1h0m12-1h0m2 1h0m3 1h0m-84 0h0m11 1h0m12 0h0m7 0h0m26 0h0m6 0h0m7 1h0m11-1h0m3 0h0m11 0h0m-180 2h0m36-1h0m25 1h0m4 0h0m8-1h0m29 0h0m4 0h0m11 0h0m2 1h0m17-1h0m12 2h0m3 0h0m10-1h0m3-1h0m2 0h0m27 1h0m-142 2h0m24-1h0m8 0h0m4 0h0m1 1h0m5 0h0m3-1h0m28 0h0m2 1h0m8 0h0m1 1h0m3-1h0m2 0h0m0 0h0m2 0h0m8 0h0m9-1h0m5 1h0m13 0h0m7 0h0m6-1h0m11 2h0m3-1h0m8-1h0m-235 4h0m47-1h0m24 1h0m31-2h0m14 1h0m2 0h0m6-1h0m1 1h0m2 1h0m4 0h0m15-2h0m8 0h0m4 0h0m8 2h0m4-1h0m18 1h0m24-2h0m16 2h0m-220 1h0m11-1h0m43 1h0m33 1h0m6-1h0m23 1h0m14-1h0m2 0h0m13 1h0m13 0h0m5-1h0m12 0h0m48 0h0m1-1h0m-230 3h0m6-1h0m33 0h0m17 2h0m47-2h0m4 1h0m1-1h0m11 2h0m8 0h0m16-2h0m10 1h0m5 0h0m10 0h0m11 0h0m4 1h0m1-1h0m17-1h0m1 2h0m-117 1h0m5 0h0m6 0h0m13 0h0m0-1h0m1 1h0m11-1h0m2 1h0m5-1h0m4 1h0m8 0h0m2 0h0m6-1h0m9 1h0m27 0h0m6-1h0m2 1h0m2 0h0m28 1h0m14-2h0m1 1h0m-188 1h0m26 0h0m56 2h0m2 0h0m3-1h0m3 0h0m11 0h0m19 0h0m4 0h0m4 1h0m2-2h0m10 1h0m0 0h0m15 1h0m8-1h0m9 0h0m-240 2h0m70 0h0m5-1h0m1 1h0m31 0h0m30-1h0m10 1h0m5 0h0m2 0h0m2 0h0m3 1h0m2-1h0m18 1h0m17 0h0m12 0h0m16-1h0m-143 2h0m27 0h0m25 1h0m4-1h0m5-1h0m6 2h0m17-1h0m2 0h0m5 0h0m1 1h0m2-1h0m7 0h0m21-1h0m2 2h0m21-1h0m8-1h0m2 1h0m3 0h0m8 1h0m-139 0h0m41 2h0m4-2h0m6 1h0m3 1h0m1-1h0m20 1h0m2-1h0m35-1h0m8 0h0m5 1h0m6 0h0m-139 1h0m19 0h0m9 1h0m15 0h0m3 0h0m3 0h0m2 1h0m12 0h0m2-1h0m4-1h0m7 2h0m15-2h0m2 1h0m1 1h0m2-2h0m11 1h0m6 1h0m16-1h0m-205 2h0m89 0h0m3 1h0m9 0h0m27-2h0m18 0h0m7 2h0m5-1h0m4 0h0m8-1h0m7 1h0m9 0h0m3 0h0m6 1h0m32-1h0m-133 1h0m7 1h0m0 1h0m6-2h0m2 1h0m17-1h0m13 2h0m14 0h0m7-1h0m19 0h0m1-1h0m31 0h0m2 1h0m17 0h0m-243 3h0m20 0h0m42-1h0m28-1h0m16 1h0m25 0h0m2 0h0m8 1h0m36 0h0m4 0h0m9-2h0m26 0h0m3 2h0m16-1h0m1 0h0m6 0h0m-252 1h0m13 2h0m7-2h0m34 1h0m49 0h0m13 1h0m3-2h0m23 1h0m26 0h0m6 0h0m10 0h0m11-1h0m34 1h0m13 0h0m2 0h0m8-1h0m-232 4h0m11-1h0m72 1h0m8-2h0m9 0h0m19 1h0m0-1h0m5 2h0m11-1h0m4-1h0m5 2h0m11-1h0m5 1h0m6 0h0m7-1h0m1 0h0m3-1h0m2 2h0m2-2h0m14 1h0m7 0h0m4 0h0m6-1h0m6 2h0m-109 1h0m0-1h0m1 0h0m8 0h0m23 2h0m5-1h0m52 0h0m4-1h0m8 1h0m-197 2h0m47-1h0m14 0h0m17 1h0m2 1h0m16-2h0m17 1h0m2 0h0m4 0h0m17 0h0m50 1h0m13-2h0m4 1h0m-224 2h0m7-1h0m87 2h0m15-2h0m40 0h0m3 2h0m5-1h0m2-1h0m39 1h0m4 1h0m8-1h0m3-1h0m22 2h0m8-1h0m-166 1h0m33 2h0m18 0h0m43 0h0m3-1h0m7-1h0m4 1h0m10 1h0m24-2h0m7 1h0m-229 2h0m11 0h0m55 0h0m50-1h0m42 1h0m46-1h0m9 1h0m17-1h0m-237 4h0m21-1h0m33-1h0m97 2h0m8-1h0m51-1h0m1 2h0m0-1h0m-191 2h0m12-1h0m5 2h0m83-1h0m83-1h0m42 2h0m-251 1h0m35 0h0m39 1h0m15-1h0m56-1h0m77 2h0m4-1h0m11 0h0m1 0h0m3 0h0m10-1h0m-206 4h0m-16 1h0m2 0h0m4 0h0m45-1h0m25 1h0m130 1h0m-232 1h0m118-1h0m32 1h0m93 0h0m19 0h0m-243 3h0m218-1h0m2 0h0m-225 2h0m13-1h0m52 0h0m-64 3h0m-7 2h0m31-1h0m74 1h0m18 1h0m-117 1h0m65 1h0m53 1h0m-126 2h0m21 0h0m1 0h0m2 0h0m87 0h0m-103 3h0m113-1h0m-120 1h0m15 0h0m113 0h0m-120 5h0m-15 3h0m4 1h0m11 1h0m-4 1h0m-5 2h0m2 1h0m7 6h0m-4 4h0"/><path stroke="#7E03A8" d="M441 38h0m3 2h0m-25 4h0m19 0h0m-15 2h0m25 5h0m-6 2h0m14 0h0m-23 1h0m-10 7h0m7-1h0m29 0h0m-18 2h0m-21 3h0m29 0h0m-20 3h0m3-1h0m12 2h0m-19 2h0m5 0h0m-34 10h0m10 0h0m-12 1h0m9 0h0m-25 1h0m17 1h0m21 0h0m20 0h0m-44 3h0m13 0h0m6 1h0m-44 1h0m34 1h0m-30 2h0m3 0h0m4-1h0m0 1h0m12-1h0m15 2h0m4-2h0m2 2h0m0-2h0m-51 2h0m23 1h0m8 0h0m0 1h0m6-1h0m1 1h0m-41 1h0m6 0h0m0 0h0m23 1h0m8-2h0m13 0h0m63 0h0m-106 2h0m17 2h0m24-2h0m44 1h0m-110 3h0m9-2h0m15 2h0m6-1h0m21 0h0m11-1h0m-58 3h0m1 0h0m27 1h0m26 0h0m3-2h0m5 1h0m3 0h0m-72 2h0m16 0h0m14-1h0m6 1h0m13 0h0m16 1h0m1 0h0m16 0h0m9-1h0m14-1h0m6 2h0m45-2h0m-137 4h0m8-1h0m15-1h0m5 1h0m21 0h0m19 0h0m0 0h0m2 0h0m7 0h0m-100 1h0m4 2h0m1-2h0m29 1h0m25 1h0m20 0h0m-79 2h0m7 0h0m7-1h0m10 0h0m10 0h0m50 0h0m8-1h0m2 1h0m20 0h0m5-1h0m-112 4h0m33-1h0m1 1h0m3 0h0m12 0h0m17-2h0m5 1h0m3-1h0m22 1h0m11-1h0m27 0h0m-98 2h0m15 1h0m4-1h0m4 2h0m14 0h0m6 0h0m2-2h0m2 0h0m1 0h0m59 1h0m-96 3h0m22-1h0m21 1h0m35 0h0m9 0h0m-108 1h0m48 0h0m5 0h0m3 0h0m0 0h0m12 0h0m17 0h0m-116 1h0m23 1h0m0-1h0m6 2h0m29-1h0m10 1h0m3-1h0m10 0h0m13 0h0m7 0h0m29 1h0m17 0h0m-157 1h0m6-1h0m87 1h0m23-1h0m5 2h0m3-1h0m4 0h0m10 0h0m-127 3h0m4-1h0m7-1h0m5 0h0m24 2h0m40-1h0m1 0h0m11-1h0m2 1h0m16 0h0m11 0h0m4 0h0m35-1h0m-154 3h0m4 1h0m1-2h0m1 0h0m1 1h0m1-1h0m7 1h0m3 1h0m7 0h0m29-1h0m12 0h0m51 0h0m4 0h0m-132 1h0m2 1h0m7-1h0m1 1h0m25 1h0m3-1h0m26 1h0m16-1h0m18 1h0m4-1h0m1 0h0m2 0h0m12 0h0m8 1h0m10 0h0m3 0h0m1-1h0m1-1h0m5 2h0m-142 1h0m18 0h0m9 0h0m3 0h0m8 1h0m0-1h0m23-1h0m15 0h0m34 1h0m4-1h0m2 0h0m6 0h0m2 1h0m7 0h0m-96 1h0m26 1h0m10 1h0m8 0h0m3-2h0m11 2h0m19-1h0m9 0h0m8-1h0m1 1h0m3-1h0m-119 3h0m3 0h0m8 1h0m26 0h0m7-1h0m27-1h0m3 0h0m15 0h0m2 1h0m5 1h0m32-1h0m1-1h0m-126 3h0m10-1h0m2 1h0m8 0h0m4 0h0m6-1h0m26 1h0m4 1h0m1-1h0m16-1h0m36 1h0m3 1h0m0-2h0m5 0h0m2 2h0m6 0h0m-134 0h0m4 1h0m2 1h0m6 0h0m10 0h0m0 0h0m25-1h0m6-1h0m3 1h0m7 0h0m19 0h0m2 0h0m5 0h0m33 0h0m6-1h0m3 1h0m7 0h0m20 0h0m-178 2h0m5 0h0m8 0h0m4 0h0m6 1h0m12 0h0m0-1h0m3 0h0m23 0h0m0 1h0m15 0h0m15-1h0m33 0h0m-98 2h0m7-1h0m1 0h0m9 1h0m4 1h0m31-1h0m6 0h0m15 0h0m56 0h0m0 0h0m-156 1h0m6 0h0m2 2h0m9 0h0m8 0h0m4-1h0m8 0h0m12-1h0m7 2h0m6 0h0m62-2h0m-115 3h0m1-1h0m2 1h0m4 1h0m20-2h0m22 0h0m14 1h0m9-1h0m3 1h0m14 0h0m26 0h0m2 0h0m11-1h0m10 1h0m1 0h0m6 1h0m1-1h0m-157 2h0m4 0h0m6-1h0m0 1h0m3 0h0m5 1h0m1-1h0m15-1h0m16 0h0m1 2h0m2-1h0m29-1h0m19 2h0m22-1h0m10 0h0m4 0h0m19-1h0m-157 3h0m15 1h0m17 0h0m13-2h0m11 1h0m7 0h0m15-1h0m5 1h0m9-1h0m24 2h0m1-2h0m12 1h0m19 0h0m16 1h0m-152 1h0m40 1h0m17-1h0m3-1h0m7 1h0m17-1h0m2 2h0m8 0h0m13 0h0m9-1h0m23-1h0m-147 3h0m3 0h0m4 1h0m1-1h0m3 0h0m17 0h0m8-1h0m13 2h0m51-1h0m12 1h0m14-1h0m-144 2h0m39 0h0m1 0h0m19 0h0m14 0h0m30-1h0m24 2h0m32-2h0m11 1h0m-160 1h0m32 0h0m5 0h0m2 1h0m6-1h0m8 1h0m5 0h0m6 0h0m8 1h0m6-1h0m6-1h0m4 1h0m2 1h0m29 0h0m31-1h0m14-1h0m-158 3h0m23 0h0m11 0h0m1-1h0m5 1h0m7 1h0m3-2h0m7 1h0m36 1h0m14-1h0m42 1h0m14-1h0m-122 1h0m7 2h0m6-2h0m27 0h0m20 0h0m4 1h0m5 0h0m2-1h0m11 1h0m28-1h0m-130 2h0m4 2h0m6-1h0m6 0h0m5-1h0m11 2h0m9 0h0m28-1h0m40 0h0m18-1h0m3 1h0m1 1h0m-149 1h0m3 1h0m9-1h0m21 0h0m8 0h0m6 0h0m10 1h0m5-1h0m7 0h0m1 0h0m7 1h0m6-1h0m1 0h0m9 0h0m4 1h0m42-2h0m-140 2h0m5 2h0m22-2h0m2 0h0m12 1h0m2 0h0m6 0h0m37 1h0m13-2h0m19 1h0m1 0h0m10 0h0m0 0h0m5-1h0m6 0h0m3 1h0m-140 3h0m17 0h0m15-1h0m6 0h0m0 0h0m4-1h0m5 0h0m25 1h0m16 0h0m4-1h0m21 2h0m19-1h0m8-1h0m4 1h0m7-1h0m1 1h0m-169 2h0m36 0h0m21 0h0m14 0h0m26 0h0m17 0h0m14-1h0m16 1h0m11 0h0m2 0h0m-158 1h0m22 1h0m6 1h0m17-1h0m3 1h0m9-2h0m9 2h0m1-2h0m11 1h0m30 0h0m18-1h0m11 1h0m4 1h0m3-1h0m29 0h0m-181 1h0m2 0h0m24 1h0m6 0h0m5-1h0m10 1h0m1 0h0m4 0h0m2 0h0m11 0h0m14 0h0m14 1h0m59-2h0m21 0h0m4 1h0m1-1h0m-160 3h0m27 0h0m4 1h0m24-2h0m7 1h0m4 1h0m10-1h0m7 0h0m14 0h0m8-1h0m9 1h0m4 1h0m2-1h0m7 1h0m-102 1h0m7 1h0m9-2h0m6 1h0m1 0h0m5 0h0m9 1h0m25-2h0m2 2h0m2-1h0m1 1h0m18-1h0m13-1h0m15 1h0m3-1h0m0 2h0m3-2h0m7 1h0m-142 2h0m2 1h0m1-1h0m1 1h0m1-1h0m4 1h0m38-2h0m16 1h0m14-1h0m1 1h0m75-1h0m14 2h0m-187 1h0m11-1h0m31 1h0m4 0h0m35-1h0m12 2h0m9-2h0m15 0h0m17 0h0m13 2h0m7-1h0m12 0h0m-117 3h0m26-1h0m10-1h0m13 0h0m18 2h0m15-1h0m13 0h0m3 1h0m6-1h0m4 0h0m4 0h0m13 0h0m3-1h0m-167 2h0m21 1h0m1 0h0m0 0h0m9-1h0m32 1h0m23 0h0m6 0h0m0-1h0m14 2h0m19-1h0m28 0h0m3 0h0m-136 2h0m26-1h0m3 0h0m2 0h0m6 1h0m8 0h0m13 0h0m22-1h0m12 1h0m35 1h0m4-2h0m1 1h0m1 0h0m-155 2h0m7 0h0m6 0h0m12 1h0m11-2h0m32 1h0m9 1h0m2-1h0m7 1h0m8-1h0m12 1h0m1-1h0m24 0h0m0 0h0m12 0h0m6-1h0m4 1h0m2-1h0m1 1h0m23 0h0m-144 1h0m23 1h0m10 1h0m4-2h0m1 2h0m1-1h0m5 0h0m18 1h0m0-2h0m5 0h0m8 1h0m10 0h0m2-1h0m31 2h0m24-1h0m-189 2h0m51 0h0m9 1h0m9-1h0m7-1h0m5 1h0m6 0h0m28-1h0m2 0h0m0 0h0m46 1h0m12 0h0m7 0h0m9 1h0m3-1h0m-187 2h0m58 1h0m2-1h0m2 0h0m12-1h0m14 2h0m15-2h0m41 1h0m1-1h0m1 1h0m2 1h0m3-1h0m7-1h0m19 1h0m6-1h0m4 0h0m-146 3h0m4 0h0m14 0h0m22-1h0m3 0h0m20 1h0m3 0h0m11 0h0m4 0h0m6-1h0m8 1h0m57 0h0m-205 3h0m74 0h0m15-1h0m1 0h0m16 0h0m20 1h0m6-2h0m4 1h0m6-1h0m19 1h0m12-1h0m1 1h0m10 0h0m5 0h0m1-1h0m10 1h0m-196 1h0m27 2h0m6-1h0m13 0h0m10-1h0m18 2h0m21-1h0m24 0h0m9 1h0m11 0h0m8-1h0m13 0h0m-166 1h0m9 1h0m5 0h0m27 1h0m20-2h0m11 1h0m3-1h0m12 2h0m0-1h0m3-1h0m45 1h0m29 1h0m8-2h0m11 0h0m8 2h0m42-1h0m-231 2h0m15 1h0m41-1h0m12 1h0m2-2h0m7 1h0m31 0h0m17 1h0m2-1h0m22 1h0m2 0h0m4-1h0m5 0h0m7 0h0m2 0h0m20-1h0m18 0h0m-217 4h0m4 0h0m53-2h0m15 1h0m12 0h0m13 1h0m15-1h0m11 0h0m2 0h0m5 0h0m8 0h0m10 0h0m2-1h0m18 2h0m53-1h0m20 0h0m-226 1h0m2 1h0m37 0h0m18 1h0m2-2h0m9 0h0m34 1h0m0 1h0m30-1h0m14-1h0m23 0h0m15 0h0m-185 3h0m6-1h0m45 1h0m5 0h0m9 0h0m20 1h0m4-1h0m17-1h0m9 0h0m11 1h0m13 0h0m7 0h0m3 0h0m11 0h0m17-1h0m25 2h0m35-1h0m-244 1h0m0 1h0m1 0h0m61 0h0m27-1h0m4 0h0m10 2h0m7-1h0m26-1h0m17 1h0m37 0h0m-208 3h0m8-1h0m12-1h0m30 0h0m4 1h0m35 1h0m31-2h0m3 1h0m14 0h0m16-1h0m2 2h0m18-1h0m4 1h0m17-1h0m15-1h0m4 1h0m-183 1h0m54 1h0m26-1h0m4 1h0m1 0h0m1 0h0m4 1h0m27-1h0m1 0h0m7 1h0m5 0h0m5-1h0m6 1h0m-95 2h0m11 0h0m18-1h0m1 0h0m2 0h0m35 0h0m3 0h0m7-1h0m13 1h0m20-1h0m12 1h0m-117 1h0m14 1h0m7 1h0m7-1h0m16-1h0m3 2h0m19-1h0m15 0h0m29-1h0m8 1h0m49-1h0m-158 3h0m2-1h0m3 0h0m17 1h0m3 1h0m9-1h0m2 0h0m16-1h0m4 2h0m27-2h0m3 2h0m12-1h0m50-1h0m-231 4h0m15 0h0m3-1h0m24 0h0m54 0h0m1-1h0m6 2h0m8-2h0m7 1h0m25-1h0m12 2h0m31 0h0m9-1h0m10 0h0m31 1h0m-236 0h0m8 1h0m1 1h0m75 0h0m3-1h0m6 0h0m6 1h0m22-1h0m1 0h0m16-1h0m7 1h0m7-1h0m17 1h0m20 0h0m27 0h0m30 1h0m-235 1h0m16 1h0m23-1h0m8-1h0m26 1h0m9 0h0m6-1h0m2 2h0m29 0h0m14-1h0m5 1h0m13-2h0m7 2h0m4-2h0m12 1h0m33-1h0m-218 4h0m16 0h0m18-1h0m40 0h0m23 0h0m1 1h0m55-2h0m1 1h0m27 0h0m19-1h0m29 2h0m14 0h0m-243 1h0m27 1h0m30-1h0m22-1h0m3 0h0m21 1h0m5-1h0m42 2h0m55 0h0m9-1h0m30-1h0m-257 4h0m30-1h0m56 1h0m8-1h0m9 0h0m60 1h0m4-1h0m35 0h0m45 1h0m-233 0h0m0 1h0m9 0h0m37 1h0m55 0h0m9-1h0m31 0h0m9 0h0m7 0h0m41-1h0m2 0h0m8 0h0m1 1h0m-127 1h0m3 1h0m81 0h0m40 0h0m39-1h0m-237 3h0m2-1h0m70 2h0m49 0h0m3-1h0m16-1h0m64 1h0m-209 3h0m2-1h0m20 1h0m1-1h0m64 1h0m9-1h0m15 0h0m30 0h0m73 1h0m1-1h0m-193 1h0m108 1h0m-39 1h0m39 1h0m-119 1h0m3 0h0m4 2h0m4-1h0m99 0h0m11 1h0m-146 1h0m7 1h0m27-2h0m50 1h0m23 0h0m36-1h0m1 0h0m95 2h0m-238 1h0m23 1h0m4-1h0m17 0h0m81-1h0m23 1h0m1-1h0m4 1h0m-140 3h0m0-1h0m1-1h0m0 2h0m25 0h0m6-2h0m91 2h0m-120 2h0m69-2h0m44 1h0m-127 1h0m12 2h0m2-1h0m14 0h0m57 0h0m54 0h0m-142 3h0m35-1h0m5 0h0m-20 1h0m2 2h0m3-1h0m106 0h0m-126 2h0m16 0h0m4 0h0m-8 2h0m1 1h0m9-2h0m-3 2h0m-17 2h0m20 0h0m-9 3h0m1-1h0m12 2h0m-21 2h0m2 4h0m1 1h0m3 2h0"/><path stroke="#CC4778" d="M442 34h0m4 3h0m-19 9h0m19 10h0m-15 3h0m31 2h0m-36 4h0m-14 3h0m29-1h0m-13 5h0m-12 5h0m-28 5h0m50-1h0m-55 5h0m11 0h0m44 1h0m-56 1h0m10 1h0m72-1h0m-68 3h0m1-1h0m17 1h0m13 0h0m-34 1h0m22 0h0m-53 3h0m18-1h0m14 1h0m12-1h0m-46 2h0m35-1h0m8 1h0m16 1h0m35-1h0m-74 2h0m6 3h0m7 1h0m3 1h0m28-1h0m43 0h0m-129 2h0m48-1h0m43 2h0m5 0h0m9-1h0m-92 1h0m43 2h0m46-1h0m-106 2h0m39-1h0m13 1h0m35 0h0m40 1h0m-116 1h0m98 1h0m-91 2h0m12-1h0m34-1h0m-45 3h0m4 0h0m0 0h0m44 0h0m25-1h0m-51 3h0m10 1h0m11-1h0m6 0h0m-32 2h0m22 1h0m3-1h0m24 1h0m22-1h0m-103 2h0m42 0h0m55 1h0m11 1h0m9 1h0m40-2h0m-149 2h0m51 1h0m6 1h0m66-1h0m-89 1h0m1 1h0m1 1h0m16-2h0m1 2h0m13 0h0m2 0h0m24-2h0m35 2h0m-109 0h0m10 1h0m17 0h0m30 0h0m6-1h0m-96 3h0m28 1h0m5-2h0m35 1h0m25 0h0m2 1h0m31-1h0m-129 4h0m21 0h0m9-1h0m3 1h0m25 0h0m36 0h0m1 0h0m5 1h0m18-1h0m-109 2h0m8 0h0m64 1h0m1 0h0m6-1h0m42-1h0m13 2h0m-114 1h0m1 0h0m14 0h0m10 0h0m44 0h0m3 0h0m9 0h0m5 0h0m11 0h0m12-1h0m-129 4h0m3 0h0m15-1h0m6 0h0m11 0h0m27-1h0m56 1h0m-132 3h0m18-1h0m87 0h0m-90 3h0m21-1h0m-28 2h0m59-1h0m4 0h0m2 0h0m0 1h0m2 0h0m73 0h0m-85 1h0m65 1h0m1 1h0m38 0h0m-82 1h0m54 0h0m-117 3h0m21 0h0m10 0h0m27-2h0m20 1h0m20 0h0m26 0h0m-122 2h0m39-1h0m5 1h0m31-1h0m4 0h0m11 0h0m28 1h0m19 0h0m-25 3h0m-41 1h0m18 0h0m30-1h0m2 2h0m-65 1h0m38 1h0m17-1h0m3-1h0m4 3h0m3 0h0m-140 2h0m35 0h0m7 1h0m3-1h0m17 0h0m17 0h0m24 1h0m-67 1h0m3 0h0m21-1h0m14 1h0m10 1h0m33 2h0m13-1h0m10 0h0m-139 2h0m34 1h0m23-1h0m28 0h0m14 1h0m-87 0h0m9 2h0m91-2h0m29 1h0m-114 2h0m3 0h0m6-1h0m5 1h0m3 1h0m31-2h0m3 2h0m3-1h0m20-1h0m5 1h0m-106 2h0m3 0h0m56 0h0m13 1h0m1 0h0m-103 2h0m42-1h0m2 1h0m90-1h0m-44 3h0m2-1h0m-58 2h0m24 0h0m16 0h0m48-1h0m17 0h0m37 1h0m-121 2h0m25 0h0m16-1h0m6 0h0m18 1h0m0-1h0m3 2h0m0 0h0m10-1h0m24 0h0m6 0h0m-119 2h0m37 0h0m68 1h0m-143 1h0m48-1h0m39 1h0m-83 2h0m58 1h0m32-1h0m22 0h0m2 0h0m-36 1h0m2 0h0m10 2h0m41-1h0m-115 2h0m29-1h0m73 2h0m62 0h0m-45 2h0m-86 1h0m5 0h0m27-1h0m5 0h0m13 1h0m53 1h0m2-1h0m-131 3h0m28-1h0m24 2h0m55-1h0m35 2h0m-94 1h0m39 1h0m22-2h0m43 2h0m58 2h0m-97 1h0m22-1h0m44 0h0m-96 2h0m70 2h0m11-2h0m-123 2h0m30 1h0m16 0h0m45-1h0m53 0h0m-102 4h0m10-1h0m61 0h0m-32 5h0m-84 1h0m98 1h0m27-1h0m-202 1h0m65 2h0m50 0h0m32-1h0m-144 2h0m21 0h0m104 1h0m18 0h0m-26 1h0m2 0h0m20 0h0m27 1h0m50-1h0m-211 2h0m24 0h0m52-1h0m4 0h0m37 1h0m-126 1h0m105 4h0m1-2h0m35 1h0m27-1h0m4 2h0m15-2h0m4 1h0m19 0h0m-83 3h0m22-1h0m59-1h0m-143 4h0m15 0h0m30-1h0m48 0h0m4-1h0m-143 3h0m58 0h0m20-1h0m5 1h0m20 3h0m18-1h0m-136 2h0m87 0h0m11 0h0m36 1h0m-138 2h0m14-1h0m121-1h0m-109 4h0m93 0h0m26 0h0m-155 4h0m57-1h0m-22 2h0m111 0h0m0 0h0m4 1h0m-149 1h0m19 1h0m-5 0h0m92 2h0m-109 1h0m32-1h0m82 0h0m13 2h0m-4 3h0m-116 3h0m2 1h0m1 1h0m21 1h0m-11 10h0m-11 9h0"/><path stroke="#F89540" d="M454 33h0m-23 3h0m-2 14h0m-2 3h0m13-1h0m-20 10h0m6 2h0m-5 2h0m-2 4h0m31 0h0m18 1h0m-19 4h0m-37 0h0m24 3h0m33 1h0m-70 3h0m38 0h0m-47 2h0m3 2h0m3 1h0m7 0h0m-8 1h0m37 0h0m-71 3h0m30-2h0m15 1h0m-29 2h0m1 1h0m-24 2h0m3 2h0m9-2h0m8 0h0m38 1h0m1 0h0m-38 2h0m15 0h0m0 0h0m16 0h0m-64 2h0m62 0h0m27 0h0m31 1h0m9 0h0m-120 0h0m6 1h0m18 0h0m2 1h0m2-1h0m34 1h0m4 0h0m34-1h0m-103 1h0m13 2h0m34-1h0m21-1h0m2 1h0m-77 2h0m63 0h0m-23 1h0m-32 4h0m29-1h0m30-1h0m1 2h0m-58 1h0m29 0h0m-40 3h0m0-1h0m8-1h0m9 1h0m8-1h0m50 1h0m17 0h0m-88 3h0m17 0h0m6-2h0m6 1h0m9 0h0m28 1h0m-76 1h0m2 0h0m11 0h0m11 0h0m26 1h0m6-1h0m5 0h0m10 0h0m-70 1h0m15 0h0m3 1h0m7-1h0m7 2h0m10-1h0m2 0h0m8 0h0m4-1h0m46 0h0m-96 3h0m15 0h0m29 0h0m85 1h0m-134 2h0m28 0h0m7 0h0m12-1h0m44 0h0m-90 1h0m26 2h0m9-1h0m8 0h0m6 1h0m52-1h0m-98 2h0m14 0h0m0 0h0m7 1h0m25-2h0m7 2h0m16-1h0m3 0h0m12 0h0m49 1h0m-135 0h0m6 1h0m0 0h0m3 0h0m9-1h0m3 2h0m0-2h0m2 1h0m17 1h0m14-1h0m33 1h0m-98 0h0m8 1h0m9 0h0m5 0h0m16 1h0m5 0h0m7-1h0m40 0h0m38-1h0m26 1h0m-148 1h0m4 1h0m13 0h0m21 0h0m20-1h0m33 2h0m-86 1h0m15 0h0m13-1h0m12 0h0m19 1h0m8 0h0m9-1h0m3 2h0m53-2h0m-146 4h0m18-2h0m38 2h0m7-2h0m14 0h0m14 1h0m19 0h0m5 0h0m-99 2h0m2 0h0m17-1h0m1 1h0m9-1h0m8 2h0m5-1h0m5 1h0m73 0h0m-96 1h0m0 0h0m15 0h0m38 1h0m-62 1h0m12-1h0m13 1h0m3 0h0m9 1h0m1-1h0m6 0h0m-70 2h0m7 1h0m33-1h0m17 1h0m8-1h0m12-1h0m3 2h0m75 0h0m-152 1h0m2 1h0m6-1h0m5 1h0m9-1h0m34 0h0m18 0h0m21 1h0m29-2h0m3 2h0m12-2h0m-148 4h0m28-1h0m0 0h0m31 1h0m9-1h0m36 0h0m38-1h0m20 1h0m-177 1h0m42 1h0m1-1h0m41 0h0m0 1h0m40 0h0m12 0h0m24 1h0m-156 1h0m72-1h0m12 1h0m-77 3h0m36-1h0m50 0h0m20 0h0m2-1h0m34 1h0m-115 2h0m18-1h0m1 1h0m4 1h0m14-2h0m58 1h0m6 1h0m-128 1h0m17 0h0m3 0h0m5 0h0m18 0h0m23 0h0m5-1h0m19 1h0m18 0h0m-76 3h0m1-2h0m12 2h0m11-1h0m14 1h0m13 0h0m3 0h0m38 0h0m-99 1h0m4-1h0m39 1h0m32 1h0m52-1h0m-154 2h0m20 1h0m2-2h0m1 1h0m22 0h0m1 1h0m11 0h0m28-1h0m5 0h0m30 0h0m1 1h0m1-2h0m-126 3h0m15 0h0m1-1h0m1 1h0m7 0h0m0-1h0m19 0h0m6 1h0m49 0h0m8 0h0m8-1h0m51 0h0m-178 4h0m28 0h0m24-1h0m10-1h0m29 1h0m5 0h0m7 0h0m-85 2h0m23 0h0m1 0h0m74 0h0m-75 1h0m41 0h0m23 1h0m1 0h0m14 0h0m-86 1h0m15 0h0m19 2h0m5-2h0m23 0h0m28 2h0m21 0h0m3 0h0m1-2h0m-109 2h0m6 2h0m14 0h0m8-1h0m11 0h0m3 0h0m0 1h0m3-1h0m14 0h0m-89 2h0m20 0h0m27 1h0m0-1h0m1 0h0m1 0h0m2 0h0m12 1h0m1-1h0m10 0h0m3 1h0m10-2h0m23 0h0m1 0h0m26 1h0m25 0h0m-135 2h0m3 0h0m99-1h0m-127 2h0m3 0h0m24 1h0m4 0h0m2 1h0m9-2h0m14 1h0m9 0h0m-35 2h0m19 1h0m5-1h0m22-1h0m16 2h0m3 0h0m16-2h0m16 0h0m-118 3h0m11 1h0m46 0h0m13-1h0m4 0h0m2 0h0m1 1h0m24-1h0m21 1h0m-78 1h0m0-1h0m6 1h0m0-1h0m25 1h0m1 1h0m4-2h0m41 1h0m41 0h0m-131 2h0m27 0h0m8 0h0m17 1h0m17 0h0m11-2h0m13 1h0m-139 2h0m38 1h0m27-1h0m4 1h0m68-1h0m41 0h0m12 0h0m-150 3h0m12-2h0m1 2h0m6-2h0m1 1h0m2-1h0m13 2h0m9 0h0m7-1h0m9 1h0m8-2h0m-115 3h0m50 1h0m11-1h0m3 1h0m9 0h0m0 0h0m3-1h0m105-1h0m0 1h0m12 0h0m23 0h0m-204 3h0m32 0h0m16 0h0m11 0h0m8-1h0m3-1h0m35 1h0m6 0h0m6 0h0m7 1h0m-56 1h0m4 0h0m4 0h0m12 1h0m1 0h0m65-2h0m14 2h0m12-1h0m-197 3h0m0-2h0m64 0h0m2 1h0m12 0h0m8 0h0m96-1h0m47 1h0m-223 3h0m52-1h0m5 0h0m15 0h0m8-1h0m13 0h0m8 0h0m54 0h0m-151 2h0m2 2h0m59-1h0m6 0h0m7-1h0m28 0h0m41 1h0m-78 3h0m6-2h0m-78 3h0m8 0h0m64 0h0m50 0h0m3 0h0m19 1h0m17-1h0m0 0h0m-116 1h0m23 1h0m59 1h0m18 0h0m12 0h0m77 0h0m-222 1h0m4 0h0m49 0h0m24 0h0m1-1h0m2 1h0m10 0h0m-96 2h0m6 0h0m47 0h0m68 0h0m-116 2h0m50 1h0m12-1h0m0 0h0m9 0h0m6 0h0m1 0h0m3-1h0m19 1h0m21-1h0m52 1h0m41 0h0m-222 3h0m0-1h0m2 0h0m75 0h0m4 0h0m20 1h0m5-1h0m1-1h0m7 1h0m12 1h0m-129 2h0m16-1h0m39-1h0m25 1h0m0-1h0m2 1h0m0-1h0m22 1h0m46 1h0m36-2h0m-192 3h0m18-1h0m33 2h0m25-2h0m9 2h0m15-1h0m18 1h0m81-2h0m6 2h0m20-1h0m8 0h0m-234 2h0m5 0h0m0-1h0m11 1h0m64 1h0m33-1h0m33 0h0m48 1h0m-204 1h0m26 0h0m5-1h0m6 2h0m61-2h0m37 0h0m3 1h0m17-1h0m10 1h0m21-1h0m-188 3h0m18-1h0m22 1h0m25-1h0m3 1h0m44 0h0m51 0h0m18-1h0m-183 4h0m64 0h0m31-1h0m4 0h0m1-1h0m1 1h0m1 0h0m17 1h0m41-1h0m-127 1h0m57 0h0m20 1h0m8-1h0m124 2h0m-220 2h0m12 0h0m2-2h0m77 0h0m-104 2h0m6 2h0m28-1h0m79 0h0m9-1h0m120 1h0m-240 3h0m61-2h0m41 0h0m9 1h0m11 1h0m-122 0h0m8 1h0m103 1h0m30-1h0m1 0h0m6 0h0m-142 2h0m99 0h0m18 0h0m10 0h0m4-1h0m3 1h0m9 0h0m-152 3h0m4 0h0m12-1h0m40 0h0m28-1h0m3 0h0m3 1h0m43-1h0m-139 4h0m0 0h0m67 0h0m29-1h0m5 0h0m2-1h0m4 0h0m27 0h0m-135 3h0m3-1h0m17 2h0m13-2h0m0 1h0m63 0h0m52 0h0m9 0h0m89 0h0m-244 2h0m5 0h0m7 0h0m6 0h0m2 1h0m5 0h0m2-1h0m6-1h0m-20 3h0m6 0h0m53 1h0m15-1h0m29 0h0m4 0h0m-86 3h0m49-2h0m33 1h0m0 0h0m23 0h0m-123 1h0m1 1h0m20 0h0m-39 1h0m6 1h0m4 1h0m90-1h0m28-1h0m-127 3h0m3 0h0m1 0h0m22 0h0m101 0h0m1 1h0m4-1h0m-120 2h0m-9 1h0m13 1h0m7 0h0m3 0h0m8 1h0m-26 2h0m7-2h0m6 1h0m7-1h0m3 4h0m-8 1h0m1 1h0m-26 3h0m26-1h0m-5 3h0m-7 5h0m5-2h0m1 0h0m-4 4h0m5 2h0"/><path stroke="#F0F921" d="M435 39h0m32 18h0m5 14h0m-43 2h0m-9 11h0m31 8h0m-99 8h0m25 0h0m22 2h0m3 3h0m-72 7h0m137 0h0m-110 3h0m43-1h0m70 0h0m-67 3h0m66 0h0m-70 2h0m-49 1h0m3 0h0m31 0h0m-29 1h0m30 1h0m-27 3h0m89-1h0m-104 5h0m14-1h0m1 0h0m51 1h0m50 1h0m-121 2h0m51-1h0m20 0h0m69 1h0m-137 3h0m71-1h0m-21 3h0m13-1h0m23 0h0m-97 1h0m11 2h0m72 0h0m1 0h0m-54 1h0m29 0h0m3-1h0m-64 3h0m15 0h0m33-1h0m-24 3h0m11 2h0m-5 3h0m-20 6h0m53-1h0m65 0h0m36 0h0m-123 2h0m100 0h0m-136 1h0m17 2h0m-10 3h0m9 0h0m10 1h0m1-1h0m12 1h0m0-1h0m48-1h0m-68 3h0m23 0h0m4-1h0m33 0h0m62 1h0m-113 1h0m16 1h0m17 2h0m-94 2h0m76 1h0m-64 0h0m49 2h0m5-1h0m7 0h0m3 0h0m18 1h0m44-1h0m-101 3h0m14 0h0m3 3h0m32 0h0m3 1h0m-8 1h0m37 0h0m-68 2h0m54 0h0m36 0h0m-99 2h0m27 0h0m10 0h0m12 2h0m4 0h0m-56 3h0m39-2h0m48 1h0m-65 1h0m-13 3h0m100 0h0m26 0h0m-100 3h0m132-1h0m-156 2h0m3 0h0m1 0h0m76-1h0m-69 3h0m8 0h0m-72 2h0m99 0h0m20 0h0m23-1h0m-88 2h0m24 1h0m103 0h0m22 1h0m-201 2h0m65-1h0m24 1h0m-25 1h0m47 0h0m-39 3h0m3-1h0m23 1h0m12 0h0m-23 1h0m-15 2h0m20-1h0m-41 3h0m4 0h0m32 0h0m9 1h0m74-1h0m-95 3h0m-9 4h0m7 0h0m66 0h0m-125 4h0m62-1h0m54 1h0m-17 3h0m22 1h0m-75 2h0m10-1h0m48-1h0m43 1h0m-102 2h0m12 0h0m15 2h0m54 3h0m-13 2h0m-11 1h0m5 0h0m3 0h0m-41 2h0m149 1h0m-100 1h0m21 0h0m-84 3h0m13-1h0m5 0h0m17 4h0m12 0h0m-106 2h0m85-1h0m-15 4h0m42-1h0m4 0h0m-45 1h0m0 1h0m24 0h0m-6 2h0m-9 2h0m25 0h0m-116 5h0m104 6h0m-117 8h0m17-2h0m-7 3h0m1 1h0"/></g><text x="0.30" y="10.30" font-size="15" fill="#111" font-weight="bold">a</text><text x="119.70" y="10.30" font-size="15" fill="#111" font-weight="bold">b</text><text x="-0.30" y="197.40" font-size="15" fill="#111" font-weight="bold">c</text><text x="282.50" y="10.30" font-size="15" fill="#111" font-weight="bold">d</text><text x="300.80" y="140.30" font-size="15" fill="#111" font-weight="bold">e</text><line x1="25.5" y1="43.3" x2="25.5" y2="159.3" stroke="#222" stroke-width="1"/><line x1="25" y1="158.8" x2="107.8" y2="158.8" stroke="#222" stroke-width="1"/><line x1="23.5" y1="48.35" x2="25.5" y2="48.35" stroke="#222" stroke-width="0.8"/><text x="23.00" y="51.15" font-size="8.0" fill="#333" text-anchor="end">8.5</text><line x1="23.5" y1="83.60" x2="25.5" y2="83.60" stroke="#222" stroke-width="0.8"/><text x="23.00" y="86.40" font-size="8.0" fill="#333" text-anchor="end">8.0</text><line x1="23.5" y1="118.85" x2="25.5" y2="118.85" stroke="#222" stroke-width="0.8"/><text x="23.00" y="121.65" font-size="8.0" fill="#333" text-anchor="end">7.5</text><line x1="23.5" y1="154.10" x2="25.5" y2="154.10" stroke="#222" stroke-width="0.8"/><text x="23.00" y="156.90" font-size="8.0" fill="#333" text-anchor="end">7.0</text><line x1="48.2" y1="158.8" x2="48.2" y2="160.8" stroke="#222" stroke-width="0.8"/><text x="48.20" y="167.80" font-size="7.9" fill="#333" text-anchor="middle">CTL</text><line x1="85.8" y1="158.8" x2="85.8" y2="160.8" stroke="#222" stroke-width="0.8"/><text x="85.80" y="167.80" font-size="7.9" fill="#333" text-anchor="middle">CIP</text><text x="10.30" y="98.70" font-size="8.9" fill="#111" text-anchor="middle" transform="rotate(-90 10.30 98.70)">Shannon Index</text><g fill="none" stroke="#A9DCC9" stroke-width="1.1"><rect x="34.6" y="70.7" width="27" height="30.3"/><line x1="34.6" y1="83.9" x2="61.6" y2="83.9"/><line x1="48.1" y1="58.2" x2="48.1" y2="70.7"/><line x1="48.1" y1="101" x2="48.1" y2="110.2"/></g><g fill="none" stroke="#EEDBAA" stroke-width="1.1"><rect x="72.4" y="92.2" width="26.8" height="34.5"/><line x1="72.4" y1="122.6" x2="99.2" y2="122.6"/><line x1="85.7" y1="66.9" x2="85.7" y2="92.2"/><line x1="85.7" y1="126.7" x2="85.7" y2="144"/></g><circle cx="47.5" cy="58.2" r="3.2" fill="#66C2A5"/><circle cx="48.9" cy="68.75" r="3.2" fill="#66C2A5"/><circle cx="47.1" cy="72.5" r="3.2" fill="#66C2A5"/><circle cx="52.3" cy="83.9" r="3.2" fill="#66C2A5"/><circle cx="46.8" cy="93.2" r="3.2" fill="#66C2A5"/><circle cx="50.9" cy="110" r="3.2" fill="#66C2A5"/><circle cx="55.1" cy="112.7" r="3.2" fill="#66C2A5"/><circle cx="79" cy="66.5" r="3.2" fill="#E3C278"/><circle cx="91.7" cy="82.9" r="3.2" fill="#E3C278"/><circle cx="86.7" cy="100.8" r="3.2" fill="#E3C278"/><circle cx="82.6" cy="123" r="3.2" fill="#E3C278"/><circle cx="86.3" cy="127.4" r="3.2" fill="#E3C278"/><circle cx="91.8" cy="126" r="3.2" fill="#E3C278"/><circle cx="92.5" cy="144.4" r="3.2" fill="#E3C278"/><path d="M45 46.6V44.3H86V46.6" fill="none" stroke="#333" stroke-width="0.9"/><text x="64.8" y="41" font-size="7.6" fill="#333" text-anchor="middle"><tspan font-style="italic">P</tspan> = 0.06</text><line x1="32.4" y1="197.3" x2="32.4" y2="356.7" stroke="#222" stroke-width="1"/><line x1="31.9" y1="356.2" x2="204.6" y2="356.2" stroke="#222" stroke-width="1"/><line x1="30.4" y1="204.40" x2="32.4" y2="204.40" stroke="#222" stroke-width="0.8"/><text x="29.60" y="207.00" font-size="7.3" fill="#333" text-anchor="end">100</text><line x1="30.4" y1="240.50" x2="32.4" y2="240.50" stroke="#222" stroke-width="0.8"/><text x="29.60" y="243.10" font-size="7.3" fill="#333" text-anchor="end">75</text><line x1="30.4" y1="276.60" x2="32.4" y2="276.60" stroke="#222" stroke-width="0.8"/><text x="29.60" y="279.20" font-size="7.3" fill="#333" text-anchor="end">50</text><line x1="30.4" y1="312.70" x2="32.4" y2="312.70" stroke="#222" stroke-width="0.8"/><text x="29.60" y="315.30" font-size="7.3" fill="#333" text-anchor="end">25</text><line x1="30.4" y1="348.80" x2="32.4" y2="348.80" stroke="#222" stroke-width="0.8"/><text x="29.60" y="351.40" font-size="7.3" fill="#333" text-anchor="end">0</text><text x="16.30" y="269.60" font-size="8.8" fill="#111" text-anchor="middle" transform="rotate(-90 16.30 269.60)">Relative Proportion (%)</text><rect x="35.00" y="204.40" width="14.9" height="2.45" fill="#F0F921"/><rect x="35.00" y="206.85" width="14.9" height="6.21" fill="#F89540"/><rect x="35.00" y="213.06" width="14.9" height="6.21" fill="#CC4778"/><rect x="35.00" y="219.27" width="14.9" height="11.12" fill="#7E03A8"/><rect x="35.00" y="230.39" width="14.9" height="89.67" fill="#0D0887"/><rect x="35.00" y="320.06" width="14.9" height="28.74" fill="#BEBEBE"/><line x1="42.45" y1="356.2" x2="42.45" y2="358.2" stroke="#222" stroke-width="0.8"/><text x="45.45" y="362.30" font-size="7.8" fill="#333" text-anchor="end" transform="rotate(-45 45.45 362.30)">Tnaive</text><rect x="51.94" y="204.40" width="14.9" height="0.58" fill="#F0F921"/><rect x="51.94" y="204.98" width="14.9" height="9.39" fill="#F89540"/><rect x="51.94" y="214.36" width="14.9" height="17.62" fill="#CC4778"/><rect x="51.94" y="231.98" width="14.9" height="25.99" fill="#7E03A8"/><rect x="51.94" y="257.97" width="14.9" height="61.95" fill="#0D0887"/><rect x="51.94" y="319.92" width="14.9" height="28.88" fill="#BEBEBE"/><line x1="59.39" y1="356.2" x2="59.39" y2="358.2" stroke="#222" stroke-width="0.8"/><text x="62.39" y="362.30" font-size="7.8" fill="#333" text-anchor="end" transform="rotate(-45 62.39 362.30)">Tcm-LTB</text><rect x="68.88" y="204.40" width="14.9" height="1.73" fill="#F0F921"/><rect x="68.88" y="206.13" width="14.9" height="10.97" fill="#F89540"/><rect x="68.88" y="217.11" width="14.9" height="19.78" fill="#CC4778"/><rect x="68.88" y="236.89" width="14.9" height="34.08" fill="#7E03A8"/><rect x="68.88" y="270.97" width="14.9" height="55.74" fill="#0D0887"/><rect x="68.88" y="326.71" width="14.9" height="22.09" fill="#BEBEBE"/><line x1="76.33" y1="356.2" x2="76.33" y2="358.2" stroke="#222" stroke-width="0.8"/><text x="79.33" y="362.30" font-size="7.8" fill="#333" text-anchor="end" transform="rotate(-45 79.33 362.30)">Tcm-FOSB</text><rect x="85.82" y="204.40" width="14.9" height="9.67" fill="#F0F921"/><rect x="85.82" y="214.07" width="14.9" height="32.06" fill="#F89540"/><rect x="85.82" y="246.13" width="14.9" height="31.19" fill="#CC4778"/><rect x="85.82" y="277.32" width="14.9" height="28.59" fill="#7E03A8"/><rect x="85.82" y="305.91" width="14.9" height="27.44" fill="#0D0887"/><rect x="85.82" y="333.35" width="14.9" height="15.45" fill="#BEBEBE"/><line x1="93.27" y1="356.2" x2="93.27" y2="358.2" stroke="#222" stroke-width="0.8"/><text x="96.27" y="362.30" font-size="7.8" fill="#333" text-anchor="end" transform="rotate(-45 96.27 362.30)">Tem-GZMK</text><rect x="102.76" y="204.40" width="14.9" height="13.14" fill="#F0F921"/><rect x="102.76" y="217.54" width="14.9" height="23.54" fill="#F89540"/><rect x="102.76" y="241.08" width="14.9" height="30.76" fill="#CC4778"/><rect x="102.76" y="271.83" width="14.9" height="28.01" fill="#7E03A8"/><rect x="102.76" y="299.85" width="14.9" height="20.94" fill="#0D0887"/><rect x="102.76" y="320.79" width="14.9" height="28.01" fill="#BEBEBE"/><line x1="110.21" y1="356.2" x2="110.21" y2="358.2" stroke="#222" stroke-width="0.8"/><text x="113.21" y="362.30" font-size="7.8" fill="#333" text-anchor="end" transform="rotate(-45 113.21 362.30)">Trm-like</text><rect x="119.70" y="204.40" width="14.9" height="13.86" fill="#F0F921"/><rect x="119.70" y="218.26" width="14.9" height="26.86" fill="#F89540"/><rect x="119.70" y="245.12" width="14.9" height="35.52" fill="#CC4778"/><rect x="119.70" y="280.64" width="14.9" height="28.88" fill="#7E03A8"/><rect x="119.70" y="309.52" width="14.9" height="26.71" fill="#0D0887"/><rect x="119.70" y="336.24" width="14.9" height="12.56" fill="#BEBEBE"/><line x1="127.15" y1="356.2" x2="127.15" y2="358.2" stroke="#222" stroke-width="0.8"/><text x="130.15" y="362.30" font-size="7.8" fill="#333" text-anchor="end" transform="rotate(-45 130.15 362.30)">Trm-CXCR6</text><rect x="136.64" y="204.40" width="14.9" height="3.47" fill="#F0F921"/><rect x="136.64" y="207.87" width="14.9" height="26.28" fill="#F89540"/><rect x="136.64" y="234.15" width="14.9" height="24.40" fill="#CC4778"/><rect x="136.64" y="258.55" width="14.9" height="13.28" fill="#7E03A8"/><rect x="136.64" y="271.83" width="14.9" height="8.52" fill="#0D0887"/><rect x="136.64" y="280.35" width="14.9" height="68.45" fill="#BEBEBE"/><line x1="144.09" y1="356.2" x2="144.09" y2="358.2" stroke="#222" stroke-width="0.8"/><text x="147.09" y="362.30" font-size="7.8" fill="#333" text-anchor="end" transform="rotate(-45 147.09 362.30)">Trm-ZNF683</text><rect x="153.58" y="204.40" width="14.9" height="1.73" fill="#F0F921"/><rect x="153.58" y="206.13" width="14.9" height="8.95" fill="#F89540"/><rect x="153.58" y="215.09" width="14.9" height="9.39" fill="#CC4778"/><rect x="153.58" y="224.47" width="14.9" height="13.43" fill="#7E03A8"/><rect x="153.58" y="237.90" width="14.9" height="16.17" fill="#0D0887"/><rect x="153.58" y="254.07" width="14.9" height="94.73" fill="#BEBEBE"/><line x1="161.03" y1="356.2" x2="161.03" y2="358.2" stroke="#222" stroke-width="0.8"/><text x="164.03" y="362.30" font-size="7.8" fill="#333" text-anchor="end" transform="rotate(-45 164.03 362.30)">Tm-RUNX1</text><rect x="170.52" y="204.40" width="14.9" height="7.65" fill="#F0F921"/><rect x="170.52" y="212.05" width="14.9" height="19.64" fill="#F89540"/><rect x="170.52" y="231.69" width="14.9" height="30.04" fill="#CC4778"/><rect x="170.52" y="261.73" width="14.9" height="30.76" fill="#7E03A8"/><rect x="170.52" y="292.48" width="14.9" height="29.46" fill="#0D0887"/><rect x="170.52" y="321.94" width="14.9" height="26.86" fill="#BEBEBE"/><line x1="177.97" y1="356.2" x2="177.97" y2="358.2" stroke="#222" stroke-width="0.8"/><text x="180.97" y="362.30" font-size="7.8" fill="#333" text-anchor="end" transform="rotate(-45 180.97 362.30)">Tm-CCL5</text><rect x="187.46" y="204.40" width="14.9" height="41.73" fill="#F89540"/><rect x="187.46" y="246.13" width="14.9" height="28.01" fill="#CC4778"/><rect x="187.46" y="274.15" width="14.9" height="21.52" fill="#7E03A8"/><rect x="187.46" y="295.66" width="14.9" height="15.31" fill="#0D0887"/><rect x="187.46" y="310.97" width="14.9" height="37.83" fill="#BEBEBE"/><line x1="194.91" y1="356.2" x2="194.91" y2="358.2" stroke="#222" stroke-width="0.8"/><text x="197.91" y="362.30" font-size="7.8" fill="#333" text-anchor="end" transform="rotate(-45 197.91 362.30)">Tnk</text><text x="208.30" y="281.40" font-size="8.6" fill="#111">Clone Type</text><rect x="208.3" y="286.40" width="10.1" height="9.9" fill="#F0F921"/><text x="222.50" y="294.00" font-size="7.6" fill="#333">Hyperexpanded</text><rect x="208.3" y="297.25" width="10.1" height="9.9" fill="#F89540"/><text x="222.50" y="304.85" font-size="7.6" fill="#333">Large</text><rect x="208.3" y="308.10" width="10.1" height="9.9" fill="#CC4778"/><text x="222.50" y="315.70" font-size="7.6" fill="#333">Medium</text><rect x="208.3" y="318.95" width="10.1" height="9.9" fill="#7E03A8"/><text x="222.50" y="326.55" font-size="7.6" fill="#333">Small</text><rect x="208.3" y="329.80" width="10.1" height="9.9" fill="#0D0887"/><text x="222.50" y="337.40" font-size="7.6" fill="#333">Single</text><rect x="208.3" y="340.65" width="10.1" height="9.9" fill="#BEBEBE"/><text x="222.50" y="348.25" font-size="7.6" fill="#333">αβ TCR<tspan font-size="5.5" dy="-2.2">-</tspan></text><text x="217.00" y="140.30" font-size="8.6" fill="#111">Clone Type</text><circle cx="219.3" cy="147.30" r="2.6" fill="#F0F921"/><text x="227.70" y="150.00" font-size="7.6" fill="#333">Hyperexpanded</text><circle cx="219.3" cy="156.24" r="2.6" fill="#F89540"/><text x="227.70" y="158.94" font-size="7.6" fill="#333">Large</text><circle cx="219.3" cy="165.18" r="2.6" fill="#CC4778"/><text x="227.70" y="167.88" font-size="7.6" fill="#333">Medium</text><circle cx="219.3" cy="174.12" r="2.6" fill="#7E03A8"/><text x="227.70" y="176.82" font-size="7.6" fill="#333">Small</text><circle cx="219.3" cy="183.06" r="2.6" fill="#0D0887"/><text x="227.70" y="185.76" font-size="7.6" fill="#333">Single</text><circle cx="219.3" cy="192.00" r="2.6" fill="#BEBEBE"/><text x="227.70" y="194.70" font-size="7.6" fill="#333">αβ TCR<tspan font-size="5.5" dy="-2.2">-</tspan></text><g stroke="#444" stroke-width="0.9" fill="none"><path d="M128.8 129.8V156.8H156.2"/><path d="M126.5 132.6L128.8 129.6L131.1 132.6"/><path d="M153.4 154.5L156.4 156.8L153.4 159.1"/></g><text x="126.30" y="141.30" font-size="7.5" fill="#222" text-anchor="middle" transform="rotate(-90 126.30 141.30)">UMAP_2</text><text x="145.20" y="166.00" font-size="7.5" fill="#222" text-anchor="middle">UMAP_1</text><rect x="356.70" y="13.20" width="10.52" height="14.08" fill="#d07f4b" stroke="#fff" stroke-width="1"/><rect x="367.21" y="13.20" width="10.52" height="14.08" fill="#d28452" stroke="#fff" stroke-width="1"/><rect x="377.73" y="13.20" width="10.52" height="14.08" fill="#da9a70" stroke="#fff" stroke-width="1"/><rect x="388.25" y="13.20" width="10.52" height="14.08" fill="#c45f1e" stroke="#fff" stroke-width="1"/><rect x="398.76" y="13.20" width="10.52" height="14.08" fill="#d07f4b" stroke="#fff" stroke-width="1"/><rect x="409.27" y="13.20" width="10.52" height="14.08" fill="#d48a5a" stroke="#fff" stroke-width="1"/><rect x="419.79" y="13.20" width="10.52" height="14.08" fill="#e3b496" stroke="#fff" stroke-width="1"/><rect x="430.31" y="13.20" width="10.52" height="14.08" fill="#da9a70" stroke="#fff" stroke-width="1"/><rect x="440.82" y="13.20" width="10.52" height="14.08" fill="#d89469" stroke="#fff" stroke-width="1"/><rect x="451.33" y="13.20" width="10.52" height="14.08" fill="#d48a5a" stroke="#fff" stroke-width="1"/><rect x="461.85" y="13.20" width="10.52" height="14.08" fill="#22799a" stroke="#fff" stroke-width="1"/><rect x="472.37" y="13.20" width="10.52" height="14.08" fill="#bbd6e0" stroke="#fff" stroke-width="1"/><rect x="482.88" y="13.20" width="10.52" height="14.08" fill="#f1daca" stroke="#fff" stroke-width="1"/><rect x="493.39" y="13.20" width="10.52" height="14.08" fill="#fcf6f3" stroke="#fff" stroke-width="1"/><rect x="503.91" y="13.20" width="10.52" height="14.08" fill="#88b7c8" stroke="#fff" stroke-width="1"/><rect x="514.42" y="13.20" width="10.52" height="14.08" fill="#6ea7bd" stroke="#fff" stroke-width="1"/><rect x="524.94" y="13.20" width="10.52" height="14.08" fill="#a2c6d4" stroke="#fff" stroke-width="1"/><rect x="535.45" y="13.20" width="10.52" height="14.08" fill="#6ea7bd" stroke="#fff" stroke-width="1"/><rect x="545.97" y="13.20" width="10.52" height="14.08" fill="#90bccc" stroke="#fff" stroke-width="1"/><rect x="556.49" y="13.20" width="10.52" height="14.08" fill="#00648a" stroke="#fff" stroke-width="1"/><rect x="567.00" y="13.20" width="10.52" height="14.08" fill="#3383a1" stroke="#fff" stroke-width="1"/><rect x="577.51" y="13.20" width="10.52" height="14.08" fill="#80b2c4" stroke="#fff" stroke-width="1"/><rect x="588.03" y="13.20" width="10.52" height="14.08" fill="#22799a" stroke="#fff" stroke-width="1"/><rect x="598.55" y="13.20" width="10.52" height="14.08" fill="#5e9db5" stroke="#fff" stroke-width="1"/><rect x="609.06" y="13.20" width="10.52" height="14.08" fill="#f3dfd2" stroke="#fff" stroke-width="1"/><rect x="619.58" y="13.20" width="10.52" height="14.08" fill="#3c88a5" stroke="#fff" stroke-width="1"/><rect x="356.70" y="27.28" width="10.52" height="14.08" fill="#fbf4f0" stroke="#fff" stroke-width="1"/><rect x="367.21" y="27.28" width="10.52" height="14.08" fill="#fdfaf8" stroke="#fff" stroke-width="1"/><rect x="377.73" y="27.28" width="10.52" height="14.08" fill="#80b2c4" stroke="#fff" stroke-width="1"/><rect x="388.25" y="27.28" width="10.52" height="14.08" fill="#cce0e8" stroke="#fff" stroke-width="1"/><rect x="398.76" y="27.28" width="10.52" height="14.08" fill="#e6f0f3" stroke="#fff" stroke-width="1"/><rect x="409.27" y="27.28" width="10.52" height="14.08" fill="#f5e4da" stroke="#fff" stroke-width="1"/><rect x="419.79" y="27.28" width="10.52" height="14.08" fill="#edcfbc" stroke="#fff" stroke-width="1"/><rect x="430.31" y="27.28" width="10.52" height="14.08" fill="#f5e4da" stroke="#fff" stroke-width="1"/><rect x="440.82" y="27.28" width="10.52" height="14.08" fill="#f3dfd2" stroke="#fff" stroke-width="1"/><rect x="451.33" y="27.28" width="10.52" height="14.08" fill="#fdfaf8" stroke="#fff" stroke-width="1"/><rect x="461.85" y="27.28" width="10.52" height="14.08" fill="#d89469" stroke="#fff" stroke-width="1"/><rect x="472.37" y="27.28" width="10.52" height="14.08" fill="#d48a5a" stroke="#fff" stroke-width="1"/><rect x="482.88" y="27.28" width="10.52" height="14.08" fill="#dc9f78" stroke="#fff" stroke-width="1"/><rect x="493.39" y="27.28" width="10.52" height="14.08" fill="#d89469" stroke="#fff" stroke-width="1"/><rect x="503.91" y="27.28" width="10.52" height="14.08" fill="#cc743c" stroke="#fff" stroke-width="1"/><rect x="514.42" y="27.28" width="10.52" height="14.08" fill="#aacbd8" stroke="#fff" stroke-width="1"/><rect x="524.94" y="27.28" width="10.52" height="14.08" fill="#77acc1" stroke="#fff" stroke-width="1"/><rect x="535.45" y="27.28" width="10.52" height="14.08" fill="#66a2b9" stroke="#fff" stroke-width="1"/><rect x="545.97" y="27.28" width="10.52" height="14.08" fill="#6ea7bd" stroke="#fff" stroke-width="1"/><rect x="556.49" y="27.28" width="10.52" height="14.08" fill="#f9efe8" stroke="#fff" stroke-width="1"/><rect x="567.00" y="27.28" width="10.52" height="14.08" fill="#99c1d0" stroke="#fff" stroke-width="1"/><rect x="577.51" y="27.28" width="10.52" height="14.08" fill="#90bccc" stroke="#fff" stroke-width="1"/><rect x="588.03" y="27.28" width="10.52" height="14.08" fill="#b2d0dc" stroke="#fff" stroke-width="1"/><rect x="598.55" y="27.28" width="10.52" height="14.08" fill="#88b7c8" stroke="#fff" stroke-width="1"/><rect x="609.06" y="27.28" width="10.52" height="14.08" fill="#6ea7bd" stroke="#fff" stroke-width="1"/><rect x="619.58" y="27.28" width="10.52" height="14.08" fill="#d4e5ec" stroke="#fff" stroke-width="1"/><rect x="356.70" y="41.36" width="10.52" height="14.08" fill="#fdfaf8" stroke="#fff" stroke-width="1"/><rect x="367.21" y="41.36" width="10.52" height="14.08" fill="#f9efe8" stroke="#fff" stroke-width="1"/><rect x="377.73" y="41.36" width="10.52" height="14.08" fill="#f1daca" stroke="#fff" stroke-width="1"/><rect x="388.25" y="41.36" width="10.52" height="14.08" fill="#ddeaef" stroke="#fff" stroke-width="1"/><rect x="398.76" y="41.36" width="10.52" height="14.08" fill="#fbf4f0" stroke="#fff" stroke-width="1"/><rect x="409.27" y="41.36" width="10.52" height="14.08" fill="#ffffff" stroke="#fff" stroke-width="1"/><rect x="419.79" y="41.36" width="10.52" height="14.08" fill="#fcf6f3" stroke="#fff" stroke-width="1"/><rect x="430.31" y="41.36" width="10.52" height="14.08" fill="#fdfaf8" stroke="#fff" stroke-width="1"/><rect x="440.82" y="41.36" width="10.52" height="14.08" fill="#e6f0f3" stroke="#fff" stroke-width="1"/><rect x="451.33" y="41.36" width="10.52" height="14.08" fill="#fbf4f0" stroke="#fff" stroke-width="1"/><rect x="461.85" y="41.36" width="10.52" height="14.08" fill="#f1daca" stroke="#fff" stroke-width="1"/><rect x="472.37" y="41.36" width="10.52" height="14.08" fill="#efd4c3" stroke="#fff" stroke-width="1"/><rect x="482.88" y="41.36" width="10.52" height="14.08" fill="#f1daca" stroke="#fff" stroke-width="1"/><rect x="493.39" y="41.36" width="10.52" height="14.08" fill="#f3dfd2" stroke="#fff" stroke-width="1"/><rect x="503.91" y="41.36" width="10.52" height="14.08" fill="#f7eae1" stroke="#fff" stroke-width="1"/><rect x="514.42" y="41.36" width="10.52" height="14.08" fill="#cce0e8" stroke="#fff" stroke-width="1"/><rect x="524.94" y="41.36" width="10.52" height="14.08" fill="#b2d0dc" stroke="#fff" stroke-width="1"/><rect x="535.45" y="41.36" width="10.52" height="14.08" fill="#fcfdfd" stroke="#fff" stroke-width="1"/><rect x="545.97" y="41.36" width="10.52" height="14.08" fill="#b2d0dc" stroke="#fff" stroke-width="1"/><rect x="556.49" y="41.36" width="10.52" height="14.08" fill="#fcfdfd" stroke="#fff" stroke-width="1"/><rect x="567.00" y="41.36" width="10.52" height="14.08" fill="#fdfaf8" stroke="#fff" stroke-width="1"/><rect x="577.51" y="41.36" width="10.52" height="14.08" fill="#bbd6e0" stroke="#fff" stroke-width="1"/><rect x="588.03" y="41.36" width="10.52" height="14.08" fill="#e6f0f3" stroke="#fff" stroke-width="1"/><rect x="598.55" y="41.36" width="10.52" height="14.08" fill="#e6f0f3" stroke="#fff" stroke-width="1"/><rect x="609.06" y="41.36" width="10.52" height="14.08" fill="#4c92ad" stroke="#fff" stroke-width="1"/><rect x="619.58" y="41.36" width="10.52" height="14.08" fill="#bbd6e0" stroke="#fff" stroke-width="1"/><rect x="356.70" y="55.44" width="10.52" height="14.08" fill="#88b7c8" stroke="#fff" stroke-width="1"/><rect x="367.21" y="55.44" width="10.52" height="14.08" fill="#99c1d0" stroke="#fff" stroke-width="1"/><rect x="377.73" y="55.44" width="10.52" height="14.08" fill="#ffffff" stroke="#fff" stroke-width="1"/><rect x="388.25" y="55.44" width="10.52" height="14.08" fill="#b2d0dc" stroke="#fff" stroke-width="1"/><rect x="398.76" y="55.44" width="10.52" height="14.08" fill="#a2c6d4" stroke="#fff" stroke-width="1"/><rect x="409.27" y="55.44" width="10.52" height="14.08" fill="#90bccc" stroke="#fff" stroke-width="1"/><rect x="419.79" y="55.44" width="10.52" height="14.08" fill="#bbd6e0" stroke="#fff" stroke-width="1"/><rect x="430.31" y="55.44" width="10.52" height="14.08" fill="#bbd6e0" stroke="#fff" stroke-width="1"/><rect x="440.82" y="55.44" width="10.52" height="14.08" fill="#cce0e8" stroke="#fff" stroke-width="1"/><rect x="451.33" y="55.44" width="10.52" height="14.08" fill="#aacbd8" stroke="#fff" stroke-width="1"/><rect x="461.85" y="55.44" width="10.52" height="14.08" fill="#fdfaf8" stroke="#fff" stroke-width="1"/><rect x="472.37" y="55.44" width="10.52" height="14.08" fill="#cce0e8" stroke="#fff" stroke-width="1"/><rect x="482.88" y="55.44" width="10.52" height="14.08" fill="#bbd6e0" stroke="#fff" stroke-width="1"/><rect x="493.39" y="55.44" width="10.52" height="14.08" fill="#cce0e8" stroke="#fff" stroke-width="1"/><rect x="503.91" y="55.44" width="10.52" height="14.08" fill="#eef5f7" stroke="#fff" stroke-width="1"/><rect x="514.42" y="55.44" width="10.52" height="14.08" fill="#f1daca" stroke="#fff" stroke-width="1"/><rect x="524.94" y="55.44" width="10.52" height="14.08" fill="#f3dfd2" stroke="#fff" stroke-width="1"/><rect x="535.45" y="55.44" width="10.52" height="14.08" fill="#e9c4ac" stroke="#fff" stroke-width="1"/><rect x="545.97" y="55.44" width="10.52" height="14.08" fill="#edcfbc" stroke="#fff" stroke-width="1"/><rect x="556.49" y="55.44" width="10.52" height="14.08" fill="#f7eae1" stroke="#fff" stroke-width="1"/><rect x="567.00" y="55.44" width="10.52" height="14.08" fill="#e9c4ac" stroke="#fff" stroke-width="1"/><rect x="577.51" y="55.44" width="10.52" height="14.08" fill="#efd4c3" stroke="#fff" stroke-width="1"/><rect x="588.03" y="55.44" width="10.52" height="14.08" fill="#e9c4ac" stroke="#fff" stroke-width="1"/><rect x="598.55" y="55.44" width="10.52" height="14.08" fill="#efd4c3" stroke="#fff" stroke-width="1"/><rect x="609.06" y="55.44" width="10.52" height="14.08" fill="#faf2ed" stroke="#fff" stroke-width="1"/><rect x="619.58" y="55.44" width="10.52" height="14.08" fill="#edcfbc" stroke="#fff" stroke-width="1"/><rect x="356.70" y="69.52" width="10.52" height="14.08" fill="#448da9" stroke="#fff" stroke-width="1"/><rect x="367.21" y="69.52" width="10.52" height="14.08" fill="#448da9" stroke="#fff" stroke-width="1"/><rect x="377.73" y="69.52" width="10.52" height="14.08" fill="#448da9" stroke="#fff" stroke-width="1"/><rect x="388.25" y="69.52" width="10.52" height="14.08" fill="#80b2c4" stroke="#fff" stroke-width="1"/><rect x="398.76" y="69.52" width="10.52" height="14.08" fill="#5598b1" stroke="#fff" stroke-width="1"/><rect x="409.27" y="69.52" width="10.52" height="14.08" fill="#448da9" stroke="#fff" stroke-width="1"/><rect x="419.79" y="69.52" width="10.52" height="14.08" fill="#08698e" stroke="#fff" stroke-width="1"/><rect x="430.31" y="69.52" width="10.52" height="14.08" fill="#1a7496" stroke="#fff" stroke-width="1"/><rect x="440.82" y="69.52" width="10.52" height="14.08" fill="#3383a1" stroke="#fff" stroke-width="1"/><rect x="451.33" y="69.52" width="10.52" height="14.08" fill="#448da9" stroke="#fff" stroke-width="1"/><rect x="461.85" y="69.52" width="10.52" height="14.08" fill="#a2c6d4" stroke="#fff" stroke-width="1"/><rect x="472.37" y="69.52" width="10.52" height="14.08" fill="#4c92ad" stroke="#fff" stroke-width="1"/><rect x="482.88" y="69.52" width="10.52" height="14.08" fill="#116e92" stroke="#fff" stroke-width="1"/><rect x="493.39" y="69.52" width="10.52" height="14.08" fill="#116e92" stroke="#fff" stroke-width="1"/><rect x="503.91" y="69.52" width="10.52" height="14.08" fill="#6ea7bd" stroke="#fff" stroke-width="1"/><rect x="514.42" y="69.52" width="10.52" height="14.08" fill="#c86a2d" stroke="#fff" stroke-width="1"/><rect x="524.94" y="69.52" width="10.52" height="14.08" fill="#cc743c" stroke="#fff" stroke-width="1"/><rect x="535.45" y="69.52" width="10.52" height="14.08" fill="#d48a5a" stroke="#fff" stroke-width="1"/><rect x="545.97" y="69.52" width="10.52" height="14.08" fill="#d28452" stroke="#fff" stroke-width="1"/><rect x="556.49" y="69.52" width="10.52" height="14.08" fill="#dc9f78" stroke="#fff" stroke-width="1"/><rect x="567.00" y="69.52" width="10.52" height="14.08" fill="#da9a70" stroke="#fff" stroke-width="1"/><rect x="577.51" y="69.52" width="10.52" height="14.08" fill="#ca6f34" stroke="#fff" stroke-width="1"/><rect x="588.03" y="69.52" width="10.52" height="14.08" fill="#d89469" stroke="#fff" stroke-width="1"/><rect x="598.55" y="69.52" width="10.52" height="14.08" fill="#d07f4b" stroke="#fff" stroke-width="1"/><rect x="609.06" y="69.52" width="10.52" height="14.08" fill="#d89469" stroke="#fff" stroke-width="1"/><rect x="619.58" y="69.52" width="10.52" height="14.08" fill="#d48a5a" stroke="#fff" stroke-width="1"/><text x="352.20" y="20.70" font-size="7.7" fill="#222" text-anchor="end">Hyperexpanded</text><text x="352.20" y="36.60" font-size="7.7" fill="#222" text-anchor="end">Large</text><text x="352.20" y="50.90" font-size="7.7" fill="#222" text-anchor="end">Medium</text><text x="352.20" y="65.60" font-size="7.7" fill="#222" text-anchor="end">Small</text><text x="352.20" y="78.40" font-size="7.7" fill="#222" text-anchor="end">Single</text><text x="365.06" y="85.80" font-size="7.6" fill="#222" text-anchor="end" transform="rotate(-90 365.06 85.80)">ITGAE</text><text x="375.57" y="85.80" font-size="7.6" fill="#222" text-anchor="end" transform="rotate(-90 375.57 85.80)">ZNF683</text><text x="386.09" y="85.80" font-size="7.6" fill="#222" text-anchor="end" transform="rotate(-90 386.09 85.80)">CXCR6</text><text x="396.60" y="85.80" font-size="7.6" fill="#222" text-anchor="end" transform="rotate(-90 396.60 85.80)">RBPJ</text><text x="407.12" y="85.80" font-size="7.6" fill="#222" text-anchor="end" transform="rotate(-90 407.12 85.80)">GPR25</text><text x="417.63" y="85.80" font-size="7.6" fill="#222" text-anchor="end" transform="rotate(-90 417.63 85.80)">GZMA</text><text x="428.15" y="85.80" font-size="7.6" fill="#222" text-anchor="end" transform="rotate(-90 428.15 85.80)">GZMB</text><text x="438.66" y="85.80" font-size="7.6" fill="#222" text-anchor="end" transform="rotate(-90 438.66 85.80)">CCL5</text><text x="449.18" y="85.80" font-size="7.6" fill="#222" text-anchor="end" transform="rotate(-90 449.18 85.80)">KLRK1</text><text x="459.69" y="85.80" font-size="7.6" fill="#222" text-anchor="end" transform="rotate(-90 459.69 85.80)">LAG3</text><text x="470.21" y="85.80" font-size="7.6" fill="#222" text-anchor="end" transform="rotate(-90 470.21 85.80)">GNLY</text><text x="480.72" y="85.80" font-size="7.6" fill="#222" text-anchor="end" transform="rotate(-90 480.72 85.80)">NKG7</text><text x="491.24" y="85.80" font-size="7.6" fill="#222" text-anchor="end" transform="rotate(-90 491.24 85.80)">KLRD1</text><text x="501.75" y="85.80" font-size="7.6" fill="#222" text-anchor="end" transform="rotate(-90 501.75 85.80)">GZMH</text><text x="512.27" y="85.80" font-size="7.6" fill="#222" text-anchor="end" transform="rotate(-90 512.27 85.80)">PRF1</text><text x="522.78" y="85.80" font-size="7.6" fill="#222" text-anchor="end" transform="rotate(-90 522.78 85.80)">IL7R</text><text x="533.30" y="85.80" font-size="7.6" fill="#222" text-anchor="end" transform="rotate(-90 533.30 85.80)">LTB</text><text x="543.81" y="85.80" font-size="7.6" fill="#222" text-anchor="end" transform="rotate(-90 543.81 85.80)">CD27</text><text x="554.33" y="85.80" font-size="7.6" fill="#222" text-anchor="end" transform="rotate(-90 554.33 85.80)">GPR183</text><text x="564.84" y="85.80" font-size="7.6" fill="#222" text-anchor="end" transform="rotate(-90 564.84 85.80)">KLF2</text><text x="575.36" y="85.80" font-size="7.6" fill="#222" text-anchor="end" transform="rotate(-90 575.36 85.80)">ICOS</text><text x="585.87" y="85.80" font-size="7.6" fill="#222" text-anchor="end" transform="rotate(-90 585.87 85.80)">FOS</text><text x="596.39" y="85.80" font-size="7.6" fill="#222" text-anchor="end" transform="rotate(-90 596.39 85.80)">DNAJB1</text><text x="606.90" y="85.80" font-size="7.6" fill="#222" text-anchor="end" transform="rotate(-90 606.90 85.80)">JUNB</text><text x="617.42" y="85.80" font-size="7.6" fill="#222" text-anchor="end" transform="rotate(-90 617.42 85.80)">GZMK</text><text x="627.93" y="85.80" font-size="7.6" fill="#222" text-anchor="end" transform="rotate(-90 627.93 85.80)">FOSB</text><text x="633.90" y="49.10" font-size="8.5" fill="#222">Scaled</text><text x="665.60" y="49.10" font-size="8.5" fill="#222">Expr.</text><defs><linearGradient id="hg" x1="0" y1="0" x2="0" y2="1"><stop offset="0" stop-color="#c45f1e"/><stop offset="0.5" stop-color="#ffffff"/><stop offset="1" stop-color="#00648a"/></linearGradient><linearGradient id="pg" x1="0" y1="0" x2="1" y2="0"><stop offset="0" stop-color="#F4B57F"/><stop offset="0.45" stop-color="#D5452A"/><stop offset="1" stop-color="#9E0B12"/></linearGradient></defs><rect x="642.1" y="55.2" width="6.8" height="30" fill="url(#hg)"/><text x="651.00" y="60.70" font-size="7.6" fill="#222">1.5</text><text x="651.00" y="73.20" font-size="7.6" fill="#222">0</text><text x="651.00" y="86.40" font-size="7.6" fill="#222">−1.5</text><g stroke="#F5C39A" opacity="0.5" fill="none"><line x1="392.0" y1="156.3" x2="343.3" y2="175.3" stroke-width="0.8" stroke-dasharray="1.5 1.5"/><line x1="392.0" y1="156.3" x2="316.3" y2="219.3" stroke-width="0.8" stroke-dasharray="1.5 1.5"/><line x1="392.0" y1="156.3" x2="462.8" y2="219.5" stroke-width="0.8" stroke-dasharray="1.5 1.5"/><line x1="392.0" y1="156.3" x2="438.4" y2="175.4" stroke-width="0.8" stroke-dasharray="1.5 1.5"/><line x1="343.3" y1="175.3" x2="316.3" y2="219.3" stroke-width="1.0" stroke-dasharray="1.5 1.5"/><line x1="343.3" y1="175.3" x2="328.3" y2="268.9" stroke-width="0.8" stroke-dasharray="1.5 1.5"/><line x1="343.3" y1="175.3" x2="365.4" y2="300.4" stroke-width="0.8" stroke-dasharray="1.5 1.5"/><line x1="343.3" y1="175.3" x2="390.6" y2="232.6" stroke-width="0.8" stroke-dasharray="1.5 1.5"/><line x1="343.3" y1="175.3" x2="416.3" y2="300.6" stroke-width="0.8" stroke-dasharray="1.5 1.5"/><line x1="343.3" y1="175.3" x2="455.8" y2="269.2" stroke-width="0.8" stroke-dasharray="1.5 1.5"/><line x1="343.3" y1="175.3" x2="462.8" y2="219.5" stroke-width="0.8" stroke-dasharray="1.5 1.5"/><line x1="343.3" y1="175.3" x2="438.4" y2="175.4" stroke-width="0.8" stroke-dasharray="1.5 1.5"/><line x1="316.3" y1="219.3" x2="328.3" y2="268.9" stroke-width="1.6" stroke-dasharray="1.8 1.8"/><line x1="316.3" y1="219.3" x2="365.4" y2="300.4" stroke-width="1.2" stroke-dasharray="1.5 1.5"/><line x1="316.3" y1="219.3" x2="390.6" y2="232.6" stroke-width="0.8" stroke-dasharray="1.5 1.5"/><line x1="316.3" y1="219.3" x2="416.3" y2="300.6" stroke-width="0.8" stroke-dasharray="1.5 1.5"/><line x1="316.3" y1="219.3" x2="455.8" y2="269.2" stroke-width="1.0" stroke-dasharray="1.5 1.5"/><line x1="316.3" y1="219.3" x2="462.8" y2="219.5" stroke-width="1.3" stroke-dasharray="1.5 1.5"/><line x1="316.3" y1="219.3" x2="438.4" y2="175.4" stroke-width="0.8" stroke-dasharray="1.5 1.5"/><line x1="328.3" y1="268.9" x2="365.4" y2="300.4" stroke-width="1.4" stroke-dasharray="1.5 1.5"/><line x1="328.3" y1="268.9" x2="390.6" y2="232.6" stroke-width="0.8" stroke-dasharray="1.5 1.5"/><line x1="328.3" y1="268.9" x2="416.3" y2="300.6" stroke-width="0.8" stroke-dasharray="1.5 1.5"/><line x1="328.3" y1="268.9" x2="455.8" y2="269.2" stroke-width="1.2" stroke-dasharray="1.5 1.5"/><line x1="328.3" y1="268.9" x2="462.8" y2="219.5" stroke-width="1.3" stroke-dasharray="1.5 1.5"/><line x1="328.3" y1="268.9" x2="438.4" y2="175.4" stroke-width="1.0" stroke-dasharray="1.5 1.5"/><line x1="365.4" y1="300.4" x2="390.6" y2="232.6" stroke-width="0.8" stroke-dasharray="1.5 1.5"/><line x1="365.4" y1="300.4" x2="416.3" y2="300.6" stroke-width="0.8" stroke-dasharray="1.5 1.5"/><line x1="365.4" y1="300.4" x2="455.8" y2="269.2" stroke-width="0.8" stroke-dasharray="1.5 1.5"/><line x1="365.4" y1="300.4" x2="462.8" y2="219.5" stroke-width="1.1" stroke-dasharray="1.5 1.5"/><line x1="365.4" y1="300.4" x2="438.4" y2="175.4" stroke-width="1.1" stroke-dasharray="1.5 1.5"/><line x1="390.6" y1="232.6" x2="416.3" y2="300.6" stroke-width="0.8" stroke-dasharray="1.5 1.5"/><line x1="390.6" y1="232.6" x2="455.8" y2="269.2" stroke-width="0.8" stroke-dasharray="1.5 1.5"/><line x1="390.6" y1="232.6" x2="462.8" y2="219.5" stroke-width="0.8" stroke-dasharray="1.5 1.5"/><line x1="390.6" y1="232.6" x2="438.4" y2="175.4" stroke-width="0.8" stroke-dasharray="1.5 1.5"/><line x1="416.3" y1="300.6" x2="455.8" y2="269.2" stroke-width="0.8" stroke-dasharray="1.5 1.5"/><line x1="416.3" y1="300.6" x2="462.8" y2="219.5" stroke-width="0.8" stroke-dasharray="1.5 1.5"/><line x1="416.3" y1="300.6" x2="438.4" y2="175.4" stroke-width="0.8" stroke-dasharray="1.5 1.5"/><line x1="455.8" y1="269.2" x2="462.8" y2="219.5" stroke-width="0.8" stroke-dasharray="1.5 1.5"/><line x1="455.8" y1="269.2" x2="438.4" y2="175.4" stroke-width="0.8" stroke-dasharray="1.5 1.5"/><line x1="462.8" y1="219.5" x2="438.4" y2="175.4" stroke-width="0.8" stroke-dasharray="1.5 1.5"/></g><g stroke="#F5C39A" opacity="0.6" fill="none"><line x1="579.5" y1="156.5" x2="530.3" y2="176.6" stroke-width="0.9" stroke-dasharray="1.4 1.4"/><line x1="579.5" y1="156.5" x2="502.6" y2="220.3" stroke-width="0.9" stroke-dasharray="1.4 1.4"/><line x1="579.5" y1="156.5" x2="648.1" y2="221.4" stroke-width="0.9" stroke-dasharray="1.4 1.4"/><line x1="579.5" y1="156.5" x2="624.8" y2="177.8" stroke-width="0.9" stroke-dasharray="1.4 1.4"/><line x1="530.3" y1="176.6" x2="502.6" y2="220.3" stroke-width="0.9" stroke-dasharray="1.4 1.4"/><line x1="530.3" y1="176.6" x2="513.1" y2="268.8" stroke-width="0.9" stroke-dasharray="1.4 1.4"/><line x1="530.3" y1="176.6" x2="549.9" y2="300.0" stroke-width="0.9" stroke-dasharray="1.4 1.4"/><line x1="530.3" y1="176.6" x2="578.3" y2="232.6" stroke-width="0.9" stroke-dasharray="1.4 1.4"/><line x1="530.3" y1="176.6" x2="602.3" y2="300.9" stroke-width="0.9" stroke-dasharray="1.4 1.4"/><line x1="530.3" y1="176.6" x2="641.0" y2="269.4" stroke-width="1.0" stroke-dasharray="1.4 1.4"/><line x1="530.3" y1="176.6" x2="648.1" y2="221.4" stroke-width="1.2" stroke-dasharray="1.4 1.4"/><line x1="530.3" y1="176.6" x2="624.8" y2="177.8" stroke-width="0.9" stroke-dasharray="1.4 1.4"/><line x1="502.6" y1="220.3" x2="513.1" y2="268.8" stroke-width="1.6" stroke-dasharray="1.4 1.4"/><line x1="502.6" y1="220.3" x2="549.9" y2="300.0" stroke-width="0.9" stroke-dasharray="1.4 1.4"/><line x1="502.6" y1="220.3" x2="578.3" y2="232.6" stroke-width="1.8" stroke-dasharray="1.6 1.6"/><line x1="502.6" y1="220.3" x2="602.3" y2="300.9" stroke-width="1.4" stroke-dasharray="1.4 1.4"/><line x1="502.6" y1="220.3" x2="641.0" y2="269.4" stroke-width="2.0" stroke-dasharray="1.8 1.8"/><line x1="502.6" y1="220.3" x2="648.1" y2="221.4" stroke-width="2.6" stroke-dasharray="2.3 2.3"/><line x1="502.6" y1="220.3" x2="624.8" y2="177.8" stroke-width="1.2" stroke-dasharray="1.4 1.4"/><line x1="513.1" y1="268.8" x2="549.9" y2="300.0" stroke-width="1.4" stroke-dasharray="1.4 1.4"/><line x1="513.1" y1="268.8" x2="578.3" y2="232.6" stroke-width="2.0" stroke-dasharray="1.8 1.8"/><line x1="513.1" y1="268.8" x2="602.3" y2="300.9" stroke-width="1.6" stroke-dasharray="1.4 1.4"/><line x1="513.1" y1="268.8" x2="641.0" y2="269.4" stroke-width="2.4" stroke-dasharray="2.2 2.2"/><line x1="513.1" y1="268.8" x2="648.1" y2="221.4" stroke-width="2.6" stroke-dasharray="2.3 2.3"/><line x1="513.1" y1="268.8" x2="624.8" y2="177.8" stroke-width="1.4" stroke-dasharray="1.4 1.4"/><line x1="549.9" y1="300.0" x2="578.3" y2="232.6" stroke-width="0.9" stroke-dasharray="1.4 1.4"/><line x1="549.9" y1="300.0" x2="602.3" y2="300.9" stroke-width="0.9" stroke-dasharray="1.4 1.4"/><line x1="549.9" y1="300.0" x2="641.0" y2="269.4" stroke-width="1.4" stroke-dasharray="1.4 1.4"/><line x1="549.9" y1="300.0" x2="648.1" y2="221.4" stroke-width="1.6" stroke-dasharray="1.4 1.4"/><line x1="549.9" y1="300.0" x2="624.8" y2="177.8" stroke-width="0.9" stroke-dasharray="1.4 1.4"/><line x1="578.3" y1="232.6" x2="602.3" y2="300.9" stroke-width="0.9" stroke-dasharray="1.4 1.4"/><line x1="578.3" y1="232.6" x2="641.0" y2="269.4" stroke-width="1.6" stroke-dasharray="1.4 1.4"/><line x1="578.3" y1="232.6" x2="648.1" y2="221.4" stroke-width="1.8" stroke-dasharray="1.6 1.6"/><line x1="578.3" y1="232.6" x2="624.8" y2="177.8" stroke-width="0.9" stroke-dasharray="1.4 1.4"/><line x1="602.3" y1="300.9" x2="641.0" y2="269.4" stroke-width="0.9" stroke-dasharray="1.4 1.4"/><line x1="602.3" y1="300.9" x2="648.1" y2="221.4" stroke-width="1.2" stroke-dasharray="1.4 1.4"/><line x1="602.3" y1="300.9" x2="624.8" y2="177.8" stroke-width="0.9" stroke-dasharray="1.4 1.4"/><line x1="641.0" y1="269.4" x2="648.1" y2="221.4" stroke-width="1.2" stroke-dasharray="1.4 1.4"/><line x1="641.0" y1="269.4" x2="624.8" y2="177.8" stroke-width="0.9" stroke-dasharray="1.4 1.4"/><line x1="648.1" y1="221.4" x2="624.8" y2="177.8" stroke-width="0.9" stroke-dasharray="1.4 1.4"/></g><line x1="374.8" y1="302.6" x2="410.1" y2="302.6" stroke="#888" stroke-width="0.9" stroke-dasharray="2.2 1.6"/><line x1="578.3" y1="232.6" x2="549.9" y2="300.0" stroke="#7E1A1A" stroke-width="2.4"/><line x1="578.3" y1="232.6" x2="602.3" y2="300.9" stroke="#B5473A" stroke-width="1.4"/><line x1="549.9" y1="302.6" x2="602.3" y2="303.2" stroke="#C04535" stroke-width="1.6"/><line x1="626.8" y1="177.8" x2="602.3" y2="300.9" stroke="#E36A48" stroke-width="0.9"/><line x1="641.0" y1="269.4" x2="602.3" y2="300.9" stroke="#E88A5C" stroke-width="0.9"/><circle cx="392.0" cy="156.3" r="5.9" fill="#A8A5CD"/><text x="392.0" y="158.9" font-size="7.4" fill="#fff" text-anchor="middle" font-weight="bold">T1</text><text x="392.00" y="168.60" font-size="8.0" fill="#111" text-anchor="middle">Tnaive</text><circle cx="343.3" cy="175.3" r="8.6" fill="#C9C5B6"/><text x="343.3" y="177.9" font-size="7.4" fill="#fff" text-anchor="middle" font-weight="bold">T2</text><text x="342.30" y="191.80" font-size="8.0" fill="#111" text-anchor="middle">Tcm-LTB</text><circle cx="316.3" cy="219.3" r="10.3" fill="#B27D83"/><text x="316.3" y="221.9" font-size="7.4" fill="#fff" text-anchor="middle" font-weight="bold">T3</text><text x="318.70" y="237.80" font-size="8.0" fill="#111" text-anchor="middle">Tcm-FOSB</text><circle cx="328.3" cy="268.9" r="10.3" fill="#4D858B"/><text x="328.3" y="271.5" font-size="7.4" fill="#fff" text-anchor="middle" font-weight="bold">T4</text><text x="328.30" y="288.00" font-size="8.0" fill="#111" text-anchor="middle">Tem-GZMK</text><circle cx="365.4" cy="300.4" r="9.45" fill="#EE8A1C"/><text x="365.4" y="303.0" font-size="7.4" fill="#fff" text-anchor="middle" font-weight="bold">T5</text><text x="363.75" y="318.20" font-size="8.0" fill="#111" text-anchor="middle">Trm-like</text><circle cx="390.6" cy="232.6" r="7.3" fill="#1B5E36"/><text x="390.6" y="235.2" font-size="7.4" fill="#fff" text-anchor="middle" font-weight="bold">T6</text><text x="390.60" y="247.20" font-size="8.0" fill="#111" text-anchor="middle">Trm-CXCR6</text><circle cx="416.3" cy="300.6" r="6.3" fill="#3E7E5F"/><text x="416.3" y="303.2" font-size="7.4" fill="#fff" text-anchor="middle" font-weight="bold">T7</text><text x="423.70" y="312.50" font-size="8.0" fill="#111" text-anchor="middle">Trm-ZNF683</text><circle cx="455.8" cy="269.2" r="7.7" fill="#9CC86A"/><text x="455.8" y="271.8" font-size="7.4" fill="#fff" text-anchor="middle" font-weight="bold">T8</text><text x="460.70" y="284.70" font-size="8.0" fill="#111" text-anchor="middle">Tm-RUNX1</text><circle cx="462.8" cy="219.5" r="9.1" fill="#EE8990"/><text x="462.8" y="222.1" font-size="7.4" fill="#fff" text-anchor="middle" font-weight="bold">T9</text><text x="467.30" y="236.70" font-size="8.0" fill="#111" text-anchor="middle">Tm-CCL5</text><circle cx="438.4" cy="175.4" r="8.9" fill="#E3B51C"/><text x="438.4" y="178.0" font-size="7.4" fill="#fff" text-anchor="middle" font-weight="bold">T10</text><text x="446.90" y="190.50" font-size="8.0" fill="#111" text-anchor="middle">Tnk</text><circle cx="579.5" cy="156.5" r="6.8" fill="#A8A5CD"/><text x="579.5" y="159.1" font-size="7.4" fill="#fff" text-anchor="middle" font-weight="bold">T1</text><text x="581.40" y="169.30" font-size="8.0" fill="#111" text-anchor="middle">Tnaive</text><circle cx="530.3" cy="176.6" r="8.6" fill="#C9C5B6"/><text x="530.3" y="179.2" font-size="7.4" fill="#fff" text-anchor="middle" font-weight="bold">T2</text><text x="531.00" y="193.00" font-size="8.0" fill="#111" text-anchor="middle">Tcm-LTB</text><circle cx="502.6" cy="220.3" r="10.9" fill="#B27D83"/><text x="502.6" y="222.9" font-size="7.4" fill="#fff" text-anchor="middle" font-weight="bold">T3</text><text x="512.50" y="237.60" font-size="8.0" fill="#111" text-anchor="middle">Tcm-FOSB</text><circle cx="513.1" cy="268.8" r="11.1" fill="#4D858B"/><text x="513.1" y="271.4" font-size="7.4" fill="#fff" text-anchor="middle" font-weight="bold">T4</text><text x="517.10" y="287.20" font-size="8.0" fill="#111" text-anchor="middle">Tem-GZMK</text><circle cx="549.9" cy="300.0" r="9.95" fill="#EE8A1C"/><text x="549.9" y="302.6" font-size="7.4" fill="#fff" text-anchor="middle" font-weight="bold">T5</text><text x="549.25" y="316.20" font-size="8.0" fill="#111" text-anchor="middle">Trm-like</text><circle cx="578.3" cy="232.6" r="9.4" fill="#1B5E36"/><text x="578.3" y="235.2" font-size="7.4" fill="#fff" text-anchor="middle" font-weight="bold">T6</text><text x="577.70" y="219.10" font-size="8.0" fill="#111" text-anchor="middle">Trm-CXCR6</text><circle cx="602.3" cy="300.9" r="8.6" fill="#3E7E5F"/><text x="602.3" y="303.5" font-size="7.4" fill="#fff" text-anchor="middle" font-weight="bold">T7</text><text x="610.20" y="317.10" font-size="8.0" fill="#111" text-anchor="middle">Trm-ZNF683</text><circle cx="641.0" cy="269.4" r="8.9" fill="#9CC86A"/><text x="641.0" y="272.0" font-size="7.4" fill="#fff" text-anchor="middle" font-weight="bold">T8</text><text x="656.10" y="285.00" font-size="8.0" fill="#111" text-anchor="middle">Tm-RUNX1</text><circle cx="648.1" cy="221.4" r="10.1" fill="#EE8990"/><text x="648.1" y="224.0" font-size="7.4" fill="#fff" text-anchor="middle" font-weight="bold">T9</text><text x="660.50" y="239.80" font-size="8.0" fill="#111" text-anchor="middle">Tm-CCL5</text><circle cx="624.8" cy="177.8" r="8.8" fill="#E3B51C"/><text x="624.8" y="180.4" font-size="7.4" fill="#fff" text-anchor="middle" font-weight="bold">T10</text><text x="639.30" y="190.50" font-size="8.0" fill="#111" text-anchor="middle">Tnk</text><text x="358.60" y="144.10" font-size="8.5" fill="#222" text-anchor="middle">CTL</text><text x="544.00" y="144.10" font-size="8.5" fill="#222" text-anchor="middle">CIP</text><text x="339.9" y="347.6" font-size="8.9" fill="#111">-log10(<tspan font-style="italic">Padj</tspan>)</text><rect x="407" y="340.6" width="29.2" height="8.4" fill="url(#pg)"/><text x="406.60" y="337.90" font-size="7.3" fill="#222" text-anchor="middle">2</text><line x1="406.6" y1="347.6" x2="406.6" y2="349" stroke="#fff" stroke-width="0.6"/><text x="420.60" y="337.90" font-size="7.3" fill="#222" text-anchor="middle">4</text><line x1="420.6" y1="347.6" x2="420.6" y2="349" stroke="#fff" stroke-width="0.6"/><text x="434.70" y="337.90" font-size="7.3" fill="#222" text-anchor="middle">6</text><line x1="434.7" y1="347.6" x2="434.7" y2="349" stroke="#fff" stroke-width="0.6"/><text x="385.8" y="361.2" font-size="7.4" fill="#333" text-anchor="end"><tspan font-style="italic">Padj</tspan> &lt; 0.01</text><text x="385.8" y="372.3" font-size="7.4" fill="#333" text-anchor="end"><tspan font-style="italic">Padj</tspan> &gt; 0.01</text><line x1="395" y1="359" x2="438.7" y2="359" stroke="#707070" stroke-width="2.8"/><line x1="395" y1="369.9" x2="438.7" y2="369.9" stroke="#707070" stroke-width="2.8" stroke-dasharray="7 2 1.6 1.8 1.6 2 11 2 1.6 1.8 1.6 2.5 8"/><text x="462.90" y="346.10" font-size="8.7" fill="#111">Shared clones</text><path d="M527 344.1L572.9 339.9V344.1Z" fill="#333"/><text x="528.30" y="350.60" font-size="7.3" fill="#222" text-anchor="middle">0</text><text x="572.40" y="350.60" font-size="7.3" fill="#222" text-anchor="middle">350</text><text x="458.70" y="368.90" font-size="8.7" fill="#111">Log10(#clones)</text><circle cx="527.2" cy="366.7" r="5.2" fill="none" stroke="#111" stroke-width="0.9"/><text x="526.00" y="384.50" font-size="7.3" fill="#222" text-anchor="middle">1.5</text><circle cx="544.4" cy="366.7" r="8.4" fill="none" stroke="#111" stroke-width="0.9"/><text x="544.40" y="384.50" font-size="7.3" fill="#222" text-anchor="middle">2.5</text><circle cx="569.9" cy="366.7" r="11.7" fill="none" stroke="#111" stroke-width="0.9"/><text x="569.90" y="384.50" font-size="7.3" fill="#222" text-anchor="middle">3.5</text></svg></body></html>
